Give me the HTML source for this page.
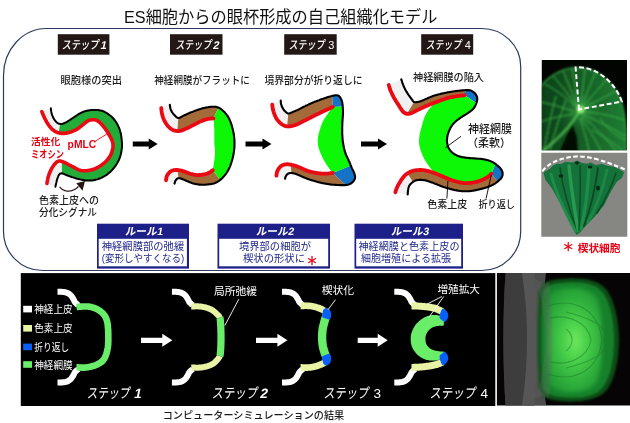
<!DOCTYPE html>
<html lang="ja">
<head>
<meta charset="utf-8">
<title>ES細胞からの眼杯形成の自己組織化モデル</title>
<style>
html,body{margin:0;padding:0;background:#fff;}
body{width:630px;height:423px;overflow:hidden;}
svg{display:block;will-change:transform;}
text{font-family:"Liberation Sans","Noto Sans CJK JP",sans-serif;}
.t{font-size:10.5px;fill:#1a1a1a;font-weight:500;}
.st{font-size:11.8px;fill:#fff;font-weight:500;}
.sb{font-size:13.8px;fill:#fff;font-weight:400;}
.n{font-weight:bold;font-style:italic;}
.r{fill:#e60012;font-weight:bold;}
.bl{fill:#23288c;font-size:10.5px;font-weight:400;}
.rh{fill:#fff;font-size:10.6px;font-weight:bold;}
.nb{font-weight:bold;font-style:normal;}
.lg{fill:#fff;font-size:10.6px;}
</style>
</head>
<body>
<svg width="630" height="423" viewBox="0 0 630 423">
<defs>
<clipPath id="cpA"><rect x="541.8" y="60" width="85.2" height="90.3"/></clipPath>
<clipPath id="cpB"><rect x="541.3" y="152.7" width="86" height="84"/></clipPath>
<clipPath id="cpC"><rect x="496.9" y="273.1" width="134" height="132.3"/></clipPath>
<filter id="b1" x="-20%" y="-20%" width="140%" height="140%"><feGaussianBlur stdDeviation="1"/></filter>
<filter id="b2" x="-20%" y="-20%" width="140%" height="140%"><feGaussianBlur stdDeviation="2.2"/></filter>
<filter id="b4" x="-30%" y="-30%" width="160%" height="160%"><feGaussianBlur stdDeviation="4"/></filter>
<filter id="b06" x="-20%" y="-20%" width="140%" height="140%"><feGaussianBlur stdDeviation="0.6"/></filter>
<linearGradient id="gA" gradientUnits="userSpaceOnUse" x1="541" y1="0" x2="627" y2="0">
<stop offset="0" stop-color="#0d3f18"/><stop offset="0.45" stop-color="#155c25"/><stop offset="1" stop-color="#1f7e32"/></linearGradient>
<radialGradient id="gA2" gradientUnits="userSpaceOnUse" cx="581" cy="110" r="20">
<stop offset="0" stop-color="#6ee060" stop-opacity="0.75"/><stop offset="0.35" stop-color="#3cb048" stop-opacity="0.35"/><stop offset="1" stop-color="#2a9a3c" stop-opacity="0"/></radialGradient>
<radialGradient id="gC" gradientUnits="userSpaceOnUse" cx="575" cy="341" r="56" gradientTransform="translate(575 341) scale(0.6 1) translate(-575 -341)">
<stop offset="0" stop-color="#6ee85e"/><stop offset="0.35" stop-color="#4ad04a"/><stop offset="0.7" stop-color="#32b43e"/><stop offset="1" stop-color="#239c34"/></radialGradient>
<linearGradient id="gB" x1="0" y1="0" x2="1" y2="0"><stop offset="0" stop-color="#1c7a3a"/><stop offset="0.5" stop-color="#2a9a4c"/><stop offset="1" stop-color="#146a30"/></linearGradient>
</defs>
<rect width="630" height="423" fill="#fff"/>

<!-- title -->
<text x="124" y="22.8" font-size="17" fill="#111" textLength="313.5" lengthAdjust="spacingAndGlyphs">ES細胞からの眼杯形成の自己組織化モデル</text>

<!-- top panel -->
<path d="M46.5,28.5 H481.7 A39,38 0 0 1 520.7,66.5 V231.5 A39,39 0 0 1 481.7,270.5 H42.5 A39,39 0 0 1 3.5,231.5 V75.5 A43,47 0 0 1 46.5,28.5 Z" fill="#fff" stroke="#2b3a5c" stroke-width="1.2"/>

<!-- step tags -->
<g id="tags">
<rect x="57.8" y="34.2" width="51.6" height="20.5" fill="#231815"/>
<rect x="170" y="34.2" width="52.5" height="20.5" fill="#231815"/>
<rect x="284.2" y="34.2" width="52.5" height="20.5" fill="#231815"/>
<rect x="421.2" y="34.2" width="52" height="20.5" fill="#231815"/>
<text class="st" transform="translate(61.8 48.7) skewX(-8)" textLength="37.0" lengthAdjust="spacingAndGlyphs">ステップ</text>
<text class="st" transform="translate(99.9 48.7) skewX(-12)" style="font-weight:bold;font-size:11.2px">1</text>
<text class="st" transform="translate(175.6 48.7) skewX(-8)" textLength="36.0" lengthAdjust="spacingAndGlyphs">ステップ</text>
<text class="st" transform="translate(212.4 48.7) skewX(-12)" style="font-weight:bold;font-size:11.2px">2</text>
<text class="st" transform="translate(288.8 48.7) skewX(-8)" textLength="35.8" lengthAdjust="spacingAndGlyphs">ステップ</text>
<text class="st" x="328.3" y="48.7" style="font-size:11px">3</text>
<text class="st" transform="translate(425.7 48.7) skewX(-8)" textLength="35.8" lengthAdjust="spacingAndGlyphs">ステップ</text>
<text class="st" x="464.8" y="48.7" style="font-size:11px">4</text>
</g>

<!-- captions -->
<g id="caps">
<text class="t" x="60.5" y="83.8" textLength="61.5" lengthAdjust="spacingAndGlyphs">眼胞様の突出</text>
<text class="t" x="154.3" y="83.8" textLength="95.5" lengthAdjust="spacingAndGlyphs">神経網膜がフラットに</text>
<text class="t" x="264.5" y="83.8" textLength="98" lengthAdjust="spacingAndGlyphs">境界部分が折り返しに</text>
<text class="t" x="413" y="81.2" textLength="71" lengthAdjust="spacingAndGlyphs">神経網膜の陥入</text>
</g>

<g id="top-shapes">
<path d="M50.8,108.3 L50.9,108.8 L50.9,109.3 L51.0,109.8 L51.1,110.3 L51.1,110.8 L51.2,111.4 L51.3,111.9 L51.4,112.4 L51.5,112.9 L51.6,113.4 L51.8,113.9 L51.9,114.4 L52.1,115.0 L52.3,115.5 L52.5,116.0 L52.7,116.5 L52.9,117.0 L53.2,117.5 L53.4,118.0 L53.7,118.5 L54.0,119.0 L54.3,119.4 L54.6,119.9 L54.9,120.4 L55.3,120.8 L55.6,121.3 L56.0,121.7 L56.4,122.1 L56.7,122.4 L57.1,122.7 L57.5,123.0 L57.8,123.2 L58.2,123.4 L58.6,123.6 L58.9,123.7 L59.3,123.8 L59.7,123.9 L60.1,124.0 L60.6,124.0 L61.0,124.0 L61.5,124.0 L61.9,123.9 L62.4,123.8 L62.9,123.6 L63.4,123.5 L63.9,123.3 L64.5,123.1 L65.0,122.8 L65.6,122.6 L66.1,122.3 L66.7,122.0 L67.2,121.7 L67.8,121.3 L68.4,120.9 L69.0,120.5 L69.7,120.1 L70.3,119.7 L70.9,119.3 L71.4,118.9 L72.0,118.5 L72.6,118.1 L73.1,117.8 L73.7,117.4 L74.2,117.0 L74.7,116.7 L75.3,116.3 L75.8,116.0 L76.2,115.7 L76.7,115.4 L77.1,115.1 L77.5,114.9 L77.8,114.7 L78.1,114.5 L78.3,114.3 L78.5,114.2 L78.8,114.0 L79.0,113.9 L79.3,113.7 L79.6,113.6 L80.0,113.4 L80.4,113.2 L80.9,113.0 L81.3,112.7 L81.8,112.5 L82.4,112.3 L82.9,112.0 L83.4,111.8 L84.0,111.6 L84.5,111.4 L85.1,111.2 L85.7,111.0 L86.2,110.9 L86.8,110.8 L87.4,110.6 L88.0,110.5 L88.7,110.4 L89.3,110.3 L89.9,110.2 L90.5,110.2 L91.1,110.1 L91.7,110.0 L92.3,110.0 L92.9,110.0 L93.5,109.9 L94.0,109.9 L94.6,109.9 L95.2,109.9 L95.8,109.9 L96.4,110.0 L97.0,110.0 L97.6,110.1 L98.2,110.1 L98.8,110.2 L99.4,110.3 L100.0,110.4 L100.6,110.5 L101.2,110.6 L101.8,110.8 L102.4,111.0 L103.0,111.2 L103.6,111.4 L104.2,111.7 L104.8,112.0 L105.4,112.3 L106.0,112.7 L106.6,113.0 L107.2,113.4 L107.8,113.8 L108.3,114.2 L108.9,114.6 L109.4,115.0 L110.0,115.4 L110.5,115.9 L111.1,116.3 L111.6,116.8 L112.1,117.3 L112.6,117.8 L113.1,118.3 L113.5,118.8 L114.0,119.3 L114.4,119.8 L114.9,120.4 L115.3,121.0 L115.7,121.6 L116.1,122.2 L116.5,122.8 L116.9,123.4 L117.2,124.0 L117.6,124.7 L117.9,125.3 L118.2,126.0 L118.5,126.6 L118.8,127.3 L119.1,128.0 L119.3,128.7 L119.6,129.4 L119.8,130.1 L120.0,130.8 L120.2,131.5 L120.4,132.1 L120.6,132.7 L120.7,133.3 L120.9,133.9 L121.0,134.5 L121.1,135.1 L121.2,135.6 L121.3,136.2 L121.3,136.8 L121.4,137.4 L121.5,138.0 L121.6,138.6 L121.7,139.3 L121.7,140.0 L121.8,140.7 L121.9,141.3 L121.9,142.0 L121.9,142.7 L122.0,143.4 L122.0,144.1 L122.0,144.8 L122.0,145.5 L122.0,146.1 L122.0,146.8 L121.9,147.5 L121.9,148.1 L121.8,148.8 L121.7,149.5 L121.6,150.2 L121.5,150.9 L121.4,151.6 L121.2,152.4 L121.1,153.1 L120.9,153.9 L120.7,154.7 L120.5,155.5 L120.2,156.4 L120.0,157.2 L119.7,158.0 L119.4,158.7 L119.1,159.5 L118.8,160.2 L118.4,160.9 L118.1,161.6 L117.7,162.3 L117.3,163.0 L116.9,163.7 L116.5,164.3 L116.0,165.0 L115.6,165.6 L115.1,166.3 L114.6,167.0 L114.1,167.6 L113.6,168.3 L113.0,168.9 L112.5,169.6 L111.9,170.2 L111.3,170.9 L110.7,171.5 L110.1,172.0 L109.5,172.6 L108.9,173.1 L108.2,173.6 L107.6,174.1 L106.9,174.6 L106.2,175.1 L105.6,175.5 L104.9,175.9 L104.2,176.3 L103.4,176.7 L102.7,177.1 L101.9,177.5 L101.2,177.8 L100.4,178.2 L99.6,178.5 L98.8,178.8 L98.0,179.1 L97.1,179.4 L96.3,179.6 L95.5,179.8 L94.7,180.0 L93.9,180.2 L93.1,180.3 L92.3,180.4 L91.5,180.4 L90.7,180.5 L89.9,180.5 L89.1,180.5 L88.3,180.5 L87.5,180.5 L86.8,180.5 L86.1,180.5 L85.4,180.4 L84.7,180.3 L84.0,180.2 L83.3,180.1 L82.7,180.0 L82.0,179.8 L81.4,179.7 L80.7,179.6 L80.0,179.4 L79.3,179.2 L78.6,179.1 L77.9,178.9 L77.1,178.7 L76.4,178.5 L75.7,178.3 L75.0,178.0 L74.3,177.8 L73.6,177.6 L72.9,177.4 L72.2,177.2 L71.6,177.0 L71.0,176.8 L70.4,176.6 L69.7,176.3 L69.1,176.1 L68.6,175.9 L68.0,175.7 L67.4,175.5 L66.9,175.3 L66.4,175.1 L65.9,174.9 L65.4,174.6 L64.9,174.4 L64.4,174.2 L64.0,173.9 L63.5,173.8 L63.1,173.6 L62.7,173.5 L62.3,173.4 L61.9,173.4 L61.6,173.3 L61.3,173.4 L60.9,173.4 L60.6,173.5 L60.4,173.6 L60.1,173.7 L59.8,173.9 L59.6,174.1 L59.3,174.4 L59.0,174.7 L58.8,175.1 L58.6,175.6 L58.3,176.0 L58.1,176.6 L57.9,177.1 L57.7,177.7 L57.5,178.3 L57.3,178.9 L57.1,179.5 L56.9,180.1 L56.7,180.8 L56.6,181.5 L56.4,182.3 L56.2,183.0 L56.1,183.8 L55.9,184.5 L55.7,185.3 L55.6,186.1 L55.4,186.8 L46.9,183.4 L47.0,182.8 L47.1,182.1 L47.2,181.5 L47.4,180.9 L47.5,180.2 L47.6,179.6 L47.7,178.9 L47.9,178.3 L48.0,177.7 L48.2,177.0 L48.4,176.3 L48.6,175.7 L48.8,175.0 L49.1,174.3 L49.3,173.6 L49.6,172.9 L49.9,172.2 L50.2,171.5 L50.5,170.8 L50.8,170.2 L51.1,169.6 L51.5,168.9 L51.9,168.2 L52.2,167.6 L52.6,167.0 L53.0,166.3 L53.4,165.8 L53.8,165.2 L54.2,164.7 L54.6,164.2 L55.0,163.8 L55.4,163.4 L55.7,163.0 L56.1,162.6 L56.5,162.3 L56.8,162.0 L57.2,161.7 L57.6,161.5 L58.0,161.3 L58.4,161.2 L58.8,161.1 L59.2,161.0 L59.6,161.0 L60.0,161.1 L60.5,161.1 L60.9,161.2 L61.3,161.3 L61.8,161.4 L62.2,161.6 L62.7,161.7 L63.2,161.9 L63.7,162.1 L64.1,162.3 L64.6,162.5 L65.2,162.8 L65.7,163.1 L66.2,163.4 L66.7,163.6 L67.3,163.9 L67.8,164.2 L68.4,164.5 L68.9,164.8 L69.5,165.1 L70.1,165.4 L70.7,165.7 L71.3,166.0 L71.9,166.3 L72.5,166.6 L73.1,166.9 L73.7,167.2 L74.3,167.5 L74.9,167.9 L75.5,168.2 L76.2,168.6 L76.8,168.9 L77.4,169.2 L78.1,169.6 L78.7,169.9 L79.3,170.1 L80.0,170.3 L80.7,170.5 L81.3,170.6 L82.0,170.7 L82.7,170.7 L83.4,170.8 L84.1,170.8 L84.7,170.8 L85.4,170.8 L86.1,170.7 L86.8,170.7 L87.5,170.6 L88.2,170.6 L88.8,170.4 L89.5,170.3 L90.2,170.2 L90.9,170.0 L91.6,169.8 L92.2,169.7 L92.9,169.4 L93.6,169.2 L94.3,168.9 L95.0,168.7 L95.7,168.4 L96.4,168.0 L97.1,167.7 L97.8,167.3 L98.4,167.0 L99.1,166.6 L99.8,166.2 L100.4,165.8 L101.0,165.4 L101.6,165.0 L102.2,164.5 L102.8,164.1 L103.4,163.6 L104.0,163.1 L104.6,162.7 L105.1,162.2 L105.6,161.7 L106.1,161.2 L106.6,160.7 L107.0,160.2 L107.5,159.7 L107.9,159.2 L108.3,158.7 L108.6,158.2 L109.0,157.7 L109.4,157.2 L109.7,156.6 L110.0,156.1 L110.3,155.6 L110.6,155.0 L110.9,154.5 L111.1,153.9 L111.3,153.4 L111.6,152.8 L111.8,152.2 L112.0,151.7 L112.1,151.1 L112.3,150.5 L112.4,149.9 L112.6,149.3 L112.7,148.7 L112.8,148.1 L112.9,147.4 L112.9,146.8 L113.0,146.2 L113.0,145.6 L113.0,145.0 L113.0,144.5 L113.0,144.0 L112.9,143.5 L112.8,143.0 L112.7,142.6 L112.6,142.2 L112.5,141.7 L112.3,141.3 L112.1,140.9 L112.0,140.4 L111.8,140.0 L111.6,139.6 L111.4,139.1 L111.2,138.7 L111.0,138.2 L110.8,137.8 L110.5,137.3 L110.3,136.9 L110.0,136.4 L109.8,136.0 L109.5,135.5 L109.2,135.0 L109.0,134.5 L108.7,134.0 L108.4,133.5 L108.1,133.0 L107.8,132.5 L107.4,132.0 L107.1,131.5 L106.8,130.9 L106.4,130.4 L106.0,129.9 L105.6,129.3 L105.2,128.7 L104.8,128.2 L104.3,127.6 L103.9,127.0 L103.4,126.4 L103.0,125.9 L102.5,125.4 L102.1,124.9 L101.7,124.4 L101.3,124.0 L100.8,123.5 L100.4,123.1 L100.0,122.7 L99.6,122.3 L99.2,121.9 L98.7,121.6 L98.3,121.3 L97.9,121.0 L97.5,120.8 L97.1,120.5 L96.6,120.3 L96.2,120.2 L95.8,120.1 L95.4,119.9 L95.0,119.8 L94.5,119.8 L94.1,119.7 L93.6,119.7 L93.1,119.7 L92.6,119.7 L92.1,119.7 L91.6,119.8 L91.0,119.9 L90.5,120.0 L90.0,120.1 L89.5,120.3 L89.0,120.4 L88.5,120.6 L88.0,120.8 L87.6,121.1 L87.2,121.3 L86.8,121.6 L86.3,121.9 L85.9,122.3 L85.5,122.6 L85.1,122.9 L84.7,123.3 L84.3,123.6 L83.9,123.9 L83.4,124.3 L83.0,124.6 L82.6,125.0 L82.1,125.3 L81.7,125.7 L81.2,126.0 L80.8,126.4 L80.4,126.7 L80.0,127.0 L79.6,127.3 L79.3,127.6 L78.9,127.8 L78.6,128.1 L78.3,128.3 L77.9,128.5 L77.6,128.8 L77.2,129.0 L76.8,129.3 L76.3,129.5 L75.8,129.8 L75.3,130.0 L74.7,130.3 L74.1,130.6 L73.5,130.9 L72.9,131.1 L72.2,131.4 L71.6,131.7 L70.9,131.9 L70.3,132.1 L69.6,132.3 L69.0,132.5 L68.3,132.7 L67.6,132.8 L66.9,133.0 L66.2,133.1 L65.5,133.2 L64.8,133.3 L64.1,133.4 L63.5,133.4 L62.9,133.4 L62.2,133.4 L61.6,133.4 L61.0,133.3 L60.4,133.2 L59.9,133.1 L59.3,133.0 L58.7,132.8 L58.2,132.7 L57.6,132.5 L57.1,132.3 L56.5,132.1 L56.0,131.8 L55.5,131.6 L55.0,131.3 L54.4,131.0 L53.9,130.6 L53.5,130.3 L53.0,129.9 L52.5,129.5 L52.0,129.1 L51.6,128.6 L51.1,128.2 L50.7,127.7 L50.3,127.2 L49.8,126.7 L49.4,126.1 L49.0,125.6 L48.6,125.0 L48.2,124.4 L47.8,123.8 L47.4,123.1 L47.0,122.5 L46.6,121.8 L46.2,121.0 L45.8,120.3 L45.4,119.6 L45.1,118.9 L44.7,118.3 L44.4,117.6 L44.1,117.0 L43.8,116.4 L43.5,115.8 L43.3,115.2 L43.0,114.6 L42.8,114.0 L42.5,113.4 L42.3,112.9 L42.1,112.3 L41.8,111.7Z" fill="#f0f0f0"/>
<path d="M60.1,124.0 L60.6,124.0 L61.0,124.0 L61.5,124.0 L61.9,123.9 L62.4,123.8 L62.9,123.6 L63.4,123.5 L63.9,123.3 L64.5,123.1 L65.0,122.8 L65.6,122.6 L66.1,122.3 L66.7,122.0 L67.2,121.7 L67.8,121.3 L68.4,120.9 L69.0,120.5 L69.7,120.1 L70.3,119.7 L70.9,119.3 L71.4,118.9 L72.0,118.5 L72.6,118.1 L73.1,117.8 L73.7,117.4 L74.2,117.0 L74.7,116.7 L75.3,116.3 L75.8,116.0 L76.2,115.7 L76.7,115.4 L77.1,115.1 L77.5,114.9 L77.8,114.7 L78.1,114.5 L78.3,114.3 L78.5,114.2 L78.8,114.0 L79.0,113.9 L79.3,113.7 L79.6,113.6 L80.0,113.4 L80.4,113.2 L80.9,113.0 L81.3,112.7 L81.8,112.5 L82.4,112.3 L82.9,112.0 L83.4,111.8 L84.0,111.6 L84.5,111.4 L85.1,111.2 L85.7,111.0 L86.2,110.9 L86.8,110.8 L87.4,110.6 L88.0,110.5 L88.7,110.4 L89.3,110.3 L89.9,110.2 L90.5,110.2 L91.1,110.1 L91.7,110.0 L92.3,110.0 L92.9,110.0 L93.5,109.9 L94.0,109.9 L94.6,109.9 L95.2,109.9 L95.8,109.9 L96.4,110.0 L97.0,110.0 L97.6,110.1 L98.2,110.1 L98.8,110.2 L99.4,110.3 L100.0,110.4 L100.6,110.5 L101.2,110.6 L101.8,110.8 L102.4,111.0 L103.0,111.2 L103.6,111.4 L104.2,111.7 L104.8,112.0 L105.4,112.3 L106.0,112.7 L106.6,113.0 L107.2,113.4 L107.8,113.8 L108.3,114.2 L108.9,114.6 L109.4,115.0 L110.0,115.4 L110.5,115.9 L111.1,116.3 L111.6,116.8 L112.1,117.3 L112.6,117.8 L113.1,118.3 L113.5,118.8 L114.0,119.3 L114.4,119.8 L114.9,120.4 L115.3,121.0 L115.7,121.6 L116.1,122.2 L116.5,122.8 L116.9,123.4 L117.2,124.0 L117.6,124.7 L117.9,125.3 L118.2,126.0 L118.5,126.6 L118.8,127.3 L119.1,128.0 L119.3,128.7 L119.6,129.4 L119.8,130.1 L120.0,130.8 L120.2,131.5 L120.4,132.1 L120.6,132.7 L120.7,133.3 L120.9,133.9 L121.0,134.5 L121.1,135.1 L121.2,135.6 L121.3,136.2 L121.3,136.8 L121.4,137.4 L121.5,138.0 L121.6,138.6 L121.7,139.3 L121.7,140.0 L121.8,140.7 L121.9,141.3 L121.9,142.0 L121.9,142.7 L122.0,143.4 L122.0,144.1 L122.0,144.8 L122.0,145.5 L122.0,146.1 L122.0,146.8 L121.9,147.5 L121.9,148.1 L121.8,148.8 L121.7,149.5 L121.6,150.2 L121.5,150.9 L121.4,151.6 L121.2,152.4 L121.1,153.1 L120.9,153.9 L120.7,154.7 L120.5,155.5 L120.2,156.4 L120.0,157.2 L119.7,158.0 L119.4,158.7 L119.1,159.5 L118.8,160.2 L118.4,160.9 L118.1,161.6 L117.7,162.3 L117.3,163.0 L116.9,163.7 L116.5,164.3 L116.0,165.0 L115.6,165.6 L115.1,166.3 L114.6,167.0 L114.1,167.6 L113.6,168.3 L113.0,168.9 L112.5,169.6 L111.9,170.2 L111.3,170.9 L110.7,171.5 L110.1,172.0 L109.5,172.6 L108.9,173.1 L108.2,173.6 L107.6,174.1 L106.9,174.6 L106.2,175.1 L105.6,175.5 L104.9,175.9 L104.2,176.3 L103.4,176.7 L102.7,177.1 L101.9,177.5 L101.2,177.8 L100.4,178.2 L99.6,178.5 L98.8,178.8 L98.0,179.1 L97.1,179.4 L96.3,179.6 L95.5,179.8 L94.7,180.0 L93.9,180.2 L93.1,180.3 L92.3,180.4 L91.5,180.4 L90.7,180.5 L89.9,180.5 L89.1,180.5 L88.3,180.5 L87.5,180.5 L86.8,180.5 L86.1,180.5 L85.4,180.4 L84.7,180.3 L84.0,180.2 L83.3,180.1 L82.7,180.0 L82.0,179.8 L81.4,179.7 L80.7,179.6 L80.0,179.4 L79.3,179.2 L78.6,179.1 L77.9,178.9 L77.1,178.7 L76.4,178.5 L75.7,178.3 L75.0,178.0 L74.3,177.8 L73.6,177.6 L72.9,177.4 L72.2,177.2 L71.6,177.0 L71.0,176.8 L70.4,176.6 L69.7,176.3 L69.1,176.1 L68.6,175.9 L68.0,175.7 L67.4,175.5 L66.9,175.3 L66.4,175.1 L65.9,174.9 L65.4,174.6 L64.9,174.4 L64.4,174.2 L64.0,173.9 L63.5,173.8 L63.1,173.6 L62.7,173.5 L62.3,173.4 L61.9,173.4 L61.8,161.4 L62.2,161.6 L62.7,161.7 L63.2,161.9 L63.7,162.1 L64.1,162.3 L64.6,162.5 L65.2,162.8 L65.7,163.1 L66.2,163.4 L66.7,163.6 L67.3,163.9 L67.8,164.2 L68.4,164.5 L68.9,164.8 L69.5,165.1 L70.1,165.4 L70.7,165.7 L71.3,166.0 L71.9,166.3 L72.5,166.6 L73.1,166.9 L73.7,167.2 L74.3,167.5 L74.9,167.9 L75.5,168.2 L76.2,168.6 L76.8,168.9 L77.4,169.2 L78.1,169.6 L78.7,169.9 L79.3,170.1 L80.0,170.3 L80.7,170.5 L81.3,170.6 L82.0,170.7 L82.7,170.7 L83.4,170.8 L84.1,170.8 L84.7,170.8 L85.4,170.8 L86.1,170.7 L86.8,170.7 L87.5,170.6 L88.2,170.6 L88.8,170.4 L89.5,170.3 L90.2,170.2 L90.9,170.0 L91.6,169.8 L92.2,169.7 L92.9,169.4 L93.6,169.2 L94.3,168.9 L95.0,168.7 L95.7,168.4 L96.4,168.0 L97.1,167.7 L97.8,167.3 L98.4,167.0 L99.1,166.6 L99.8,166.2 L100.4,165.8 L101.0,165.4 L101.6,165.0 L102.2,164.5 L102.8,164.1 L103.4,163.6 L104.0,163.1 L104.6,162.7 L105.1,162.2 L105.6,161.7 L106.1,161.2 L106.6,160.7 L107.0,160.2 L107.5,159.7 L107.9,159.2 L108.3,158.7 L108.6,158.2 L109.0,157.7 L109.4,157.2 L109.7,156.6 L110.0,156.1 L110.3,155.6 L110.6,155.0 L110.9,154.5 L111.1,153.9 L111.3,153.4 L111.6,152.8 L111.8,152.2 L112.0,151.7 L112.1,151.1 L112.3,150.5 L112.4,149.9 L112.6,149.3 L112.7,148.7 L112.8,148.1 L112.9,147.4 L112.9,146.8 L113.0,146.2 L113.0,145.6 L113.0,145.0 L113.0,144.5 L113.0,144.0 L112.9,143.5 L112.8,143.0 L112.7,142.6 L112.6,142.2 L112.5,141.7 L112.3,141.3 L112.1,140.9 L112.0,140.4 L111.8,140.0 L111.6,139.6 L111.4,139.1 L111.2,138.7 L111.0,138.2 L110.8,137.8 L110.5,137.3 L110.3,136.9 L110.0,136.4 L109.8,136.0 L109.5,135.5 L109.2,135.0 L109.0,134.5 L108.7,134.0 L108.4,133.5 L108.1,133.0 L107.8,132.5 L107.4,132.0 L107.1,131.5 L106.8,130.9 L106.4,130.4 L106.0,129.9 L105.6,129.3 L105.2,128.7 L104.8,128.2 L104.3,127.6 L103.9,127.0 L103.4,126.4 L103.0,125.9 L102.5,125.4 L102.1,124.9 L101.7,124.4 L101.3,124.0 L100.8,123.5 L100.4,123.1 L100.0,122.7 L99.6,122.3 L99.2,121.9 L98.7,121.6 L98.3,121.3 L97.9,121.0 L97.5,120.8 L97.1,120.5 L96.6,120.3 L96.2,120.2 L95.8,120.1 L95.4,119.9 L95.0,119.8 L94.5,119.8 L94.1,119.7 L93.6,119.7 L93.1,119.7 L92.6,119.7 L92.1,119.7 L91.6,119.8 L91.0,119.9 L90.5,120.0 L90.0,120.1 L89.5,120.3 L89.0,120.4 L88.5,120.6 L88.0,120.8 L87.6,121.1 L87.2,121.3 L86.8,121.6 L86.3,121.9 L85.9,122.3 L85.5,122.6 L85.1,122.9 L84.7,123.3 L84.3,123.6 L83.9,123.9 L83.4,124.3 L83.0,124.6 L82.6,125.0 L82.1,125.3 L81.7,125.7 L81.2,126.0 L80.8,126.4 L80.4,126.7 L80.0,127.0 L79.6,127.3 L79.3,127.6 L78.9,127.8 L78.6,128.1 L78.3,128.3 L77.9,128.5 L77.6,128.8 L77.2,129.0 L76.8,129.3 L76.3,129.5 L75.8,129.8 L75.3,130.0 L74.7,130.3 L74.1,130.6 L73.5,130.9 L72.9,131.1 L72.2,131.4 L71.6,131.7 L70.9,131.9 L70.3,132.1 L69.6,132.3 L69.0,132.5 L68.3,132.7 L67.6,132.8 L66.9,133.0 L66.2,133.1 L65.5,133.2 L64.8,133.3 L64.1,133.4 L63.5,133.4 L62.9,133.4 L62.2,133.4 L61.6,133.4 L61.0,133.3 L60.4,133.2 L59.9,133.1 L59.3,133.0 L58.7,132.8Z" fill="#22ac38"/>
<path d="M50.8,108.3 L50.9,108.8 L50.9,109.3 L51.0,109.8 L51.1,110.3 L51.1,110.8 L51.2,111.4 L51.3,111.9 L51.4,112.4 L51.5,112.9 L51.6,113.4 L51.8,113.9 L51.9,114.4 L52.1,115.0 L52.3,115.5 L52.5,116.0 L52.7,116.5 L52.9,117.0 L53.2,117.5 L53.4,118.0 L53.7,118.5 L54.0,119.0 L54.3,119.4 L54.6,119.9 L54.9,120.4 L55.3,120.8 L55.6,121.3 L56.0,121.7 L56.4,122.1 L56.7,122.4 L57.1,122.7 L57.5,123.0 L57.8,123.2 L58.2,123.4 L58.6,123.6 L58.9,123.7 L59.3,123.8 L59.7,123.9 L60.1,124.0 L60.6,124.0 L61.0,124.0 L61.5,124.0 L61.9,123.9 L62.4,123.8 L62.9,123.6 L63.4,123.5 L63.9,123.3 L64.5,123.1 L65.0,122.8 L65.6,122.6 L66.1,122.3 L66.7,122.0 L67.2,121.7 L67.8,121.3 L68.4,120.9 L69.0,120.5 L69.7,120.1 L70.3,119.7 L70.9,119.3 L71.4,118.9 L72.0,118.5 L72.6,118.1 L73.1,117.8 L73.7,117.4 L74.2,117.0 L74.7,116.7 L75.3,116.3 L75.8,116.0 L76.2,115.7 L76.7,115.4 L77.1,115.1 L77.5,114.9 L77.8,114.7 L78.1,114.5 L78.3,114.3 L78.5,114.2 L78.8,114.0 L79.0,113.9 L79.3,113.7 L79.6,113.6 L80.0,113.4 L80.4,113.2 L80.9,113.0 L81.3,112.7 L81.8,112.5 L82.4,112.3 L82.9,112.0 L83.4,111.8 L84.0,111.6 L84.5,111.4 L85.1,111.2 L85.7,111.0 L86.2,110.9 L86.8,110.8 L87.4,110.6 L88.0,110.5 L88.7,110.4 L89.3,110.3 L89.9,110.2 L90.5,110.2 L91.1,110.1 L91.7,110.0 L92.3,110.0 L92.9,110.0 L93.5,109.9 L94.0,109.9 L94.6,109.9 L95.2,109.9 L95.8,109.9 L96.4,110.0 L97.0,110.0 L97.6,110.1 L98.2,110.1 L98.8,110.2 L99.4,110.3 L100.0,110.4 L100.6,110.5 L101.2,110.6 L101.8,110.8 L102.4,111.0 L103.0,111.2 L103.6,111.4 L104.2,111.7 L104.8,112.0 L105.4,112.3 L106.0,112.7 L106.6,113.0 L107.2,113.4 L107.8,113.8 L108.3,114.2 L108.9,114.6 L109.4,115.0 L110.0,115.4 L110.5,115.9 L111.1,116.3 L111.6,116.8 L112.1,117.3 L112.6,117.8 L113.1,118.3 L113.5,118.8 L114.0,119.3 L114.4,119.8 L114.9,120.4 L115.3,121.0 L115.7,121.6 L116.1,122.2 L116.5,122.8 L116.9,123.4 L117.2,124.0 L117.6,124.7 L117.9,125.3 L118.2,126.0 L118.5,126.6 L118.8,127.3 L119.1,128.0 L119.3,128.7 L119.6,129.4 L119.8,130.1 L120.0,130.8 L120.2,131.5 L120.4,132.1 L120.6,132.7 L120.7,133.3 L120.9,133.9 L121.0,134.5 L121.1,135.1 L121.2,135.6 L121.3,136.2 L121.3,136.8 L121.4,137.4 L121.5,138.0 L121.6,138.6 L121.7,139.3 L121.7,140.0 L121.8,140.7 L121.9,141.3 L121.9,142.0 L121.9,142.7 L122.0,143.4 L122.0,144.1 L122.0,144.8 L122.0,145.5 L122.0,146.1 L122.0,146.8 L121.9,147.5 L121.9,148.1 L121.8,148.8 L121.7,149.5 L121.6,150.2 L121.5,150.9 L121.4,151.6 L121.2,152.4 L121.1,153.1 L120.9,153.9 L120.7,154.7 L120.5,155.5 L120.2,156.4 L120.0,157.2 L119.7,158.0 L119.4,158.7 L119.1,159.5 L118.8,160.2 L118.4,160.9 L118.1,161.6 L117.7,162.3 L117.3,163.0 L116.9,163.7 L116.5,164.3 L116.0,165.0 L115.6,165.6 L115.1,166.3 L114.6,167.0 L114.1,167.6 L113.6,168.3 L113.0,168.9 L112.5,169.6 L111.9,170.2 L111.3,170.9 L110.7,171.5 L110.1,172.0 L109.5,172.6 L108.9,173.1 L108.2,173.6 L107.6,174.1 L106.9,174.6 L106.2,175.1 L105.6,175.5 L104.9,175.9 L104.2,176.3 L103.4,176.7 L102.7,177.1 L101.9,177.5 L101.2,177.8 L100.4,178.2 L99.6,178.5 L98.8,178.8 L98.0,179.1 L97.1,179.4 L96.3,179.6 L95.5,179.8 L94.7,180.0 L93.9,180.2 L93.1,180.3 L92.3,180.4 L91.5,180.4 L90.7,180.5 L89.9,180.5 L89.1,180.5 L88.3,180.5 L87.5,180.5 L86.8,180.5 L86.1,180.5 L85.4,180.4 L84.7,180.3 L84.0,180.2 L83.3,180.1 L82.7,180.0 L82.0,179.8 L81.4,179.7 L80.7,179.6 L80.0,179.4 L79.3,179.2 L78.6,179.1 L77.9,178.9 L77.1,178.7 L76.4,178.5 L75.7,178.3 L75.0,178.0 L74.3,177.8 L73.6,177.6 L72.9,177.4 L72.2,177.2 L71.6,177.0 L71.0,176.8 L70.4,176.6 L69.7,176.3 L69.1,176.1 L68.6,175.9 L68.0,175.7 L67.4,175.5 L66.9,175.3 L66.4,175.1 L65.9,174.9 L65.4,174.6 L64.9,174.4 L64.4,174.2 L64.0,173.9 L63.5,173.8 L63.1,173.6 L62.7,173.5 L62.3,173.4 L61.9,173.4 L61.6,173.3 L61.3,173.4 L60.9,173.4 L60.6,173.5 L60.4,173.6 L60.1,173.7 L59.8,173.9 L59.6,174.1 L59.3,174.4 L59.0,174.7 L58.8,175.1 L58.6,175.6 L58.3,176.0 L58.1,176.6 L57.9,177.1 L57.7,177.7 L57.5,178.3 L57.3,178.9 L57.1,179.5 L56.9,180.1 L56.7,180.8 L56.6,181.5 L56.4,182.3 L56.2,183.0 L56.1,183.8 L55.9,184.5 L55.7,185.3 L55.6,186.1 L55.4,186.8" fill="none" stroke="#000" stroke-width="2.0" stroke-linecap="round" stroke-linejoin="round"/>
<path d="M41.8,111.7 L42.1,112.3 L42.3,112.9 L42.5,113.4 L42.8,114.0 L43.0,114.6 L43.3,115.2 L43.5,115.8 L43.8,116.4 L44.1,117.0 L44.4,117.6 L44.7,118.3 L45.1,118.9 L45.4,119.6 L45.8,120.3 L46.2,121.0 L46.6,121.8 L47.0,122.5 L47.4,123.1 L47.8,123.8 L48.2,124.4 L48.6,125.0 L49.0,125.6 L49.4,126.1 L49.8,126.7 L50.3,127.2 L50.7,127.7 L51.1,128.2 L51.6,128.6 L52.0,129.1 L52.5,129.5 L53.0,129.9 L53.5,130.3 L53.9,130.6 L54.4,131.0 L55.0,131.3 L55.5,131.6 L56.0,131.8 L56.5,132.1 L57.1,132.3 L57.6,132.5 L58.2,132.7 L58.7,132.8 L59.3,133.0 L59.9,133.1 L60.4,133.2 L61.0,133.3 L61.6,133.4 L62.2,133.4 L62.9,133.4 L63.5,133.4 L64.1,133.4 L64.8,133.3 L65.5,133.2 L66.2,133.1 L66.9,133.0 L67.6,132.8 L68.3,132.7 L69.0,132.5 L69.6,132.3 L70.3,132.1 L70.9,131.9 L71.6,131.7 L72.2,131.4 L72.9,131.1 L73.5,130.9 L74.1,130.6 L74.7,130.3 L75.3,130.0 L75.8,129.8 L76.3,129.5 L76.8,129.3 L77.2,129.0 L77.6,128.8 L77.9,128.5 L78.3,128.3 L78.6,128.1 L78.9,127.8 L79.3,127.6 L79.6,127.3 L80.0,127.0 L80.4,126.7 L80.8,126.4 L81.2,126.0 L81.7,125.7 L82.1,125.3 L82.6,125.0 L83.0,124.6 L83.4,124.3 L83.9,123.9 L84.3,123.6 L84.7,123.3 L85.1,122.9 L85.5,122.6 L85.9,122.3 L86.3,121.9 L86.8,121.6 L87.2,121.3 L87.6,121.1 L88.0,120.8 L88.5,120.6 L89.0,120.4 L89.5,120.3 L90.0,120.1 L90.5,120.0 L91.0,119.9 L91.6,119.8 L92.1,119.7 L92.6,119.7 L93.1,119.7 L93.6,119.7 L94.1,119.7 L94.5,119.8 L95.0,119.8 L95.4,119.9 L95.8,120.1 L96.2,120.2 L96.6,120.3 L97.1,120.5 L97.5,120.8 L97.9,121.0 L98.3,121.3 L98.7,121.6 L99.2,121.9 L99.6,122.3 L100.0,122.7 L100.4,123.1 L100.8,123.5 L101.3,124.0 L101.7,124.4 L102.1,124.9 L102.5,125.4 L103.0,125.9 L103.4,126.4 L103.9,127.0 L104.3,127.6 L104.8,128.2 L105.2,128.7 L105.6,129.3 L106.0,129.9 L106.4,130.4 L106.8,130.9 L107.1,131.5 L107.4,132.0 L107.8,132.5 L108.1,133.0 L108.4,133.5 L108.7,134.0 L109.0,134.5 L109.2,135.0 L109.5,135.5 L109.8,136.0 L110.0,136.4 L110.3,136.9 L110.5,137.3 L110.8,137.8 L111.0,138.2 L111.2,138.7 L111.4,139.1 L111.6,139.6 L111.8,140.0 L112.0,140.4 L112.1,140.9 L112.3,141.3 L112.5,141.7 L112.6,142.2 L112.7,142.6 L112.8,143.0 L112.9,143.5 L113.0,144.0 L113.0,144.5 L113.0,145.0 L113.0,145.6 L113.0,146.2 L112.9,146.8 L112.9,147.4 L112.8,148.1 L112.7,148.7 L112.6,149.3 L112.4,149.9 L112.3,150.5 L112.1,151.1 L112.0,151.7 L111.8,152.2 L111.6,152.8 L111.3,153.4 L111.1,153.9 L110.9,154.5 L110.6,155.0 L110.3,155.6 L110.0,156.1 L109.7,156.6 L109.4,157.2 L109.0,157.7 L108.6,158.2 L108.3,158.7 L107.9,159.2 L107.5,159.7 L107.0,160.2 L106.6,160.7 L106.1,161.2 L105.6,161.7 L105.1,162.2 L104.6,162.7 L104.0,163.1 L103.4,163.6 L102.8,164.1 L102.2,164.5 L101.6,165.0 L101.0,165.4 L100.4,165.8 L99.8,166.2 L99.1,166.6 L98.4,167.0 L97.8,167.3 L97.1,167.7 L96.4,168.0 L95.7,168.4 L95.0,168.7 L94.3,168.9 L93.6,169.2 L92.9,169.4 L92.2,169.7 L91.6,169.8 L90.9,170.0 L90.2,170.2 L89.5,170.3 L88.8,170.4 L88.2,170.6 L87.5,170.6 L86.8,170.7 L86.1,170.7 L85.4,170.8 L84.7,170.8 L84.1,170.8 L83.4,170.8 L82.7,170.7 L82.0,170.7 L81.3,170.6 L80.7,170.5 L80.0,170.3 L79.3,170.1 L78.7,169.9 L78.1,169.6 L77.4,169.2 L76.8,168.9 L76.2,168.6 L75.5,168.2 L74.9,167.9 L74.3,167.5 L73.7,167.2 L73.1,166.9 L72.5,166.6 L71.9,166.3 L71.3,166.0 L70.7,165.7 L70.1,165.4 L69.5,165.1 L68.9,164.8 L68.4,164.5 L67.8,164.2 L67.3,163.9 L66.7,163.6 L66.2,163.4 L65.7,163.1 L65.2,162.8 L64.6,162.5 L64.1,162.3 L63.7,162.1 L63.2,161.9 L62.7,161.7 L62.2,161.6 L61.8,161.4 L61.3,161.3 L60.9,161.2 L60.5,161.1 L60.0,161.1 L59.6,161.0 L59.2,161.0 L58.8,161.1 L58.4,161.2 L58.0,161.3 L57.6,161.5 L57.2,161.7 L56.8,162.0 L56.5,162.3 L56.1,162.6 L55.7,163.0 L55.4,163.4 L55.0,163.8 L54.6,164.2 L54.2,164.7 L53.8,165.2 L53.4,165.8 L53.0,166.3 L52.6,167.0 L52.2,167.6 L51.9,168.2 L51.5,168.9 L51.1,169.6 L50.8,170.2 L50.5,170.8 L50.2,171.5 L49.9,172.2 L49.6,172.9 L49.3,173.6 L49.1,174.3 L48.8,175.0 L48.6,175.7 L48.4,176.3 L48.2,177.0 L48.0,177.7 L47.9,178.3 L47.7,178.9 L47.6,179.6 L47.5,180.2 L47.4,180.9 L47.2,181.5 L47.1,182.1 L47.0,182.8 L46.9,183.4" fill="none" stroke="#ea0a14" stroke-width="3.6" stroke-linecap="round" stroke-linejoin="round"/>
<path d="M169.8,104.7 L169.9,105.2 L169.9,105.6 L170.0,106.1 L170.1,106.6 L170.1,107.0 L170.2,107.5 L170.3,108.0 L170.4,108.5 L170.5,108.9 L170.7,109.4 L170.9,109.9 L171.1,110.4 L171.4,110.9 L171.6,111.4 L171.9,111.9 L172.2,112.3 L172.5,112.8 L172.9,113.3 L173.2,113.8 L173.6,114.2 L174.0,114.6 L174.4,115.1 L174.9,115.6 L175.3,116.1 L175.8,116.5 L176.3,117.0 L176.8,117.3 L177.3,117.7 L177.8,117.9 L178.3,118.0 L177.4,131.0 L176.8,131.0 L176.2,130.9 L175.7,130.9 L175.1,130.7 L174.6,130.6 L174.0,130.4 L173.5,130.2 L172.9,129.9 L172.4,129.7 L171.8,129.4 L171.3,129.1 L170.8,128.7 L170.3,128.3 L169.8,127.9 L169.3,127.5 L168.8,127.0 L168.3,126.5 L167.9,126.0 L167.4,125.4 L166.9,124.8 L166.5,124.2 L166.0,123.5 L165.6,122.9 L165.2,122.2 L164.8,121.5 L164.5,120.9 L164.2,120.3 L163.9,119.6 L163.6,118.9 L163.3,118.2 L163.1,117.6 L162.9,116.9 L162.6,116.2 L162.5,115.5 L162.3,114.9 L162.1,114.2 L161.9,113.6 L161.8,112.9 L161.7,112.3 L161.6,111.7 L161.6,111.1 L161.5,110.5 L161.4,109.8 L161.4,109.2 L161.3,108.6 L161.2,108.0Z" fill="#f0f0f0"/>
<path d="M174.5,183.6 L174.6,183.3 L174.7,183.0 L174.8,182.7 L174.8,182.4 L174.9,182.1 L175.0,181.8 L175.1,181.5 L175.2,181.2 L175.3,181.0 L175.5,180.7 L175.7,180.4 L175.9,180.1 L176.1,179.9 L176.3,179.6 L176.5,179.3 L176.8,179.0 L177.0,178.8 L177.3,178.6 L177.6,178.4 L177.9,178.3 L178.2,178.2 L178.5,178.2 L177.5,170.0 L176.9,170.0 L176.2,170.0 L175.6,170.0 L175.0,170.0 L174.4,170.1 L173.9,170.1 L173.4,170.3 L172.9,170.4 L172.4,170.5 L171.9,170.7 L171.5,170.9 L171.0,171.2 L170.6,171.4 L170.2,171.7 L169.8,172.0 L169.4,172.4 L169.0,172.8 L168.7,173.2 L168.3,173.7 L168.0,174.2 L167.7,174.6 L167.4,175.1 L167.1,175.6 L166.9,176.0 L166.7,176.4 L166.6,176.8 L166.5,177.3 L166.4,177.7 L166.3,178.1 L166.2,178.5 L166.2,178.9 L166.1,179.4 L166.1,179.8 L166.0,180.2Z" fill="#f0f0f0"/>
<path d="M178.3,118.0 L178.8,118.0 L179.3,117.9 L179.8,117.8 L180.3,117.5 L180.8,117.2 L181.3,116.9 L181.8,116.6 L182.4,116.2 L183.0,115.9 L183.6,115.6 L184.3,115.3 L185.0,115.0 L185.7,114.7 L186.5,114.3 L187.3,114.0 L188.0,113.6 L188.8,113.3 L189.6,112.9 L190.4,112.6 L191.2,112.3 L192.0,112.0 L192.7,111.7 L193.5,111.4 L194.2,111.1 L195.0,110.8 L195.8,110.5 L196.5,110.2 L197.3,109.9 L198.0,109.6 L198.8,109.4 L199.6,109.2 L200.3,108.9 L201.1,108.7 L201.8,108.5 L202.6,108.3 L203.4,108.1 L204.1,108.0 L204.9,107.8 L205.6,107.6 L206.4,107.5 L207.2,107.4 L208.0,107.2 L208.8,107.1 L209.6,107.0 L210.3,106.9 L211.1,106.9 L211.9,106.8 L212.6,106.8 L213.2,106.7 L213.8,106.7 L214.3,106.7 L214.8,106.7 L215.2,106.7 L215.6,106.8 L215.9,106.8 L216.2,106.9 L216.5,107.0 L216.8,107.1 L217.2,107.2 L217.5,107.3 L217.8,107.4 L218.2,107.5 L218.5,107.6 L213.5,118.4 L213.0,118.4 L212.5,118.5 L212.0,118.5 L211.5,118.5 L211.0,118.6 L210.5,118.6 L210.0,118.6 L209.4,118.7 L208.9,118.8 L208.3,118.9 L207.7,119.0 L207.1,119.2 L206.5,119.3 L205.8,119.5 L205.2,119.7 L204.5,119.9 L203.8,120.1 L203.1,120.4 L202.4,120.6 L201.7,120.9 L201.0,121.2 L200.2,121.5 L199.5,121.9 L198.7,122.3 L197.9,122.7 L197.1,123.1 L196.3,123.5 L195.6,123.9 L194.8,124.3 L194.0,124.7 L193.2,125.1 L192.5,125.5 L191.7,125.9 L190.9,126.3 L190.1,126.7 L189.4,127.1 L188.6,127.5 L187.9,127.8 L187.1,128.2 L186.4,128.5 L185.7,128.8 L185.0,129.1 L184.3,129.4 L183.6,129.7 L183.0,130.0 L182.3,130.2 L181.7,130.4 L181.1,130.6 L180.4,130.8 L179.8,130.9 L179.2,131.0 L178.6,131.0 L178.0,131.1 L177.4,131.0Z" fill="#a26b39"/>
<path d="M178.5,178.2 L178.9,178.2 L179.2,178.2 L179.6,178.3 L180.0,178.3 L180.4,178.4 L180.8,178.5 L181.2,178.7 L181.7,178.8 L182.2,179.0 L182.7,179.2 L183.3,179.4 L183.8,179.6 L184.4,179.9 L185.0,180.2 L185.6,180.4 L186.2,180.7 L186.8,181.0 L187.4,181.2 L188.0,181.4 L188.5,181.7 L189.1,181.9 L189.6,182.1 L190.1,182.4 L190.7,182.6 L191.3,182.8 L191.8,183.0 L192.5,183.2 L193.1,183.4 L193.8,183.6 L194.5,183.7 L195.2,183.9 L196.0,184.1 L196.8,184.2 L197.6,184.3 L198.4,184.5 L199.1,184.6 L199.9,184.6 L200.7,184.7 L201.5,184.7 L202.2,184.8 L203.0,184.8 L203.8,184.7 L204.6,184.7 L205.4,184.7 L206.1,184.6 L206.9,184.5 L207.6,184.5 L208.3,184.4 L209.0,184.3 L209.6,184.2 L210.3,184.2 L210.9,184.1 L211.6,184.0 L212.2,183.8 L212.8,183.7 L213.3,183.6 L213.9,183.4 L214.5,183.2 L215.1,183.0 L215.6,182.8 L216.1,182.5 L216.6,182.3 L217.2,182.0 L217.7,181.7 L218.2,181.4 L218.7,181.1 L219.2,180.7 L219.7,180.3 L220.2,179.9 L212.8,170.2 L212.5,170.4 L212.1,170.7 L211.8,170.9 L211.5,171.2 L211.2,171.4 L210.9,171.7 L210.5,171.9 L210.1,172.2 L209.7,172.4 L209.3,172.6 L208.8,172.8 L208.3,173.0 L207.8,173.3 L207.3,173.5 L206.7,173.7 L206.1,173.9 L205.5,174.0 L204.9,174.2 L204.3,174.4 L203.6,174.5 L202.9,174.6 L202.2,174.7 L201.5,174.8 L200.7,174.9 L199.9,175.0 L199.1,175.0 L198.3,175.1 L197.6,175.1 L196.8,175.1 L196.0,175.0 L195.2,174.9 L194.4,174.8 L193.7,174.6 L192.9,174.4 L192.1,174.2 L191.3,174.0 L190.5,173.8 L189.8,173.6 L189.0,173.3 L188.3,173.1 L187.6,172.9 L186.9,172.6 L186.2,172.4 L185.6,172.1 L184.9,171.8 L184.3,171.6 L183.7,171.3 L183.0,171.1 L182.4,170.9 L181.7,170.7 L181.0,170.6 L180.3,170.4 L179.6,170.3 L178.9,170.2 L178.2,170.1 L177.5,170.0Z" fill="#a26b39"/>
<path d="M218.5,107.6 L218.8,107.8 L219.1,107.9 L219.5,108.1 L219.8,108.3 L220.1,108.5 L220.5,108.7 L220.9,109.0 L221.3,109.3 L221.8,109.7 L222.2,110.1 L222.7,110.5 L223.2,110.9 L223.7,111.4 L224.1,111.8 L224.6,112.3 L225.1,112.8 L225.5,113.3 L225.9,113.8 L226.3,114.3 L226.7,114.8 L227.1,115.3 L227.5,115.8 L227.8,116.4 L228.2,117.0 L228.5,117.5 L228.9,118.2 L229.2,118.8 L229.5,119.5 L229.8,120.2 L230.1,120.9 L230.4,121.7 L230.7,122.5 L231.0,123.2 L231.3,124.0 L231.5,124.9 L231.8,125.7 L232.0,126.5 L232.2,127.3 L232.5,128.2 L232.7,129.0 L232.9,129.9 L233.1,130.8 L233.3,131.7 L233.5,132.6 L233.6,133.5 L233.8,134.3 L233.9,135.2 L234.0,136.0 L234.1,136.9 L234.2,137.7 L234.3,138.6 L234.4,139.4 L234.4,140.2 L234.4,141.0 L234.5,141.9 L234.5,142.7 L234.5,143.5 L234.5,144.3 L234.5,145.1 L234.4,145.9 L234.4,146.8 L234.4,147.6 L234.3,148.4 L234.2,149.2 L234.1,150.0 L234.0,150.9 L233.9,151.7 L233.8,152.6 L233.6,153.4 L233.5,154.3 L233.3,155.2 L233.1,156.1 L232.9,157.0 L232.7,157.9 L232.5,158.8 L232.2,159.7 L232.0,160.5 L231.8,161.3 L231.5,162.1 L231.3,162.9 L231.0,163.7 L230.7,164.5 L230.5,165.3 L230.2,166.1 L229.9,166.8 L229.5,167.6 L229.2,168.3 L228.8,169.0 L228.5,169.7 L228.1,170.4 L227.7,171.1 L227.3,171.8 L226.8,172.5 L226.4,173.1 L225.9,173.8 L225.5,174.4 L225.0,175.0 L224.5,175.6 L224.0,176.2 L223.5,176.8 L223.0,177.3 L222.4,177.9 L221.9,178.4 L221.3,178.9 L220.8,179.4 L220.2,179.9 L212.8,170.2 L213.0,168.6 L213.3,166.9 L213.6,165.2 L213.8,163.5 L214.1,161.8 L214.3,160.2 L214.6,158.5 L214.7,157.0 L214.9,155.4 L215.0,154.0 L215.0,152.6 L215.0,151.4 L215.0,150.2 L214.9,149.0 L214.8,147.9 L214.7,146.8 L214.5,145.7 L214.4,144.6 L214.4,143.5 L214.3,142.3 L214.3,141.1 L214.3,140.0 L214.3,138.8 L214.3,137.6 L214.3,136.4 L214.3,135.2 L214.3,134.1 L214.3,132.9 L214.3,131.7 L214.3,130.5 L214.3,129.3 L214.2,128.1 L214.1,126.9 L214.0,125.7 L214.0,124.5 L213.9,123.3 L213.8,122.0 L213.7,120.8 L213.6,119.6 L213.5,118.4Z" fill="#0cf806"/>
<path d="M169.8,104.7 L169.9,105.2 L169.9,105.6 L170.0,106.1 L170.1,106.6 L170.1,107.0 L170.2,107.5 L170.3,108.0 L170.4,108.5 L170.5,108.9 L170.7,109.4 L170.9,109.9 L171.1,110.4 L171.4,110.9 L171.6,111.4 L171.9,111.9 L172.2,112.3 L172.5,112.8 L172.9,113.3 L173.2,113.8 L173.6,114.2 L174.0,114.6 L174.4,115.1 L174.9,115.6 L175.3,116.1 L175.8,116.5 L176.3,117.0 L176.8,117.3 L177.3,117.7 L177.8,117.9 L178.3,118.0 L178.8,118.0 L179.3,117.9 L179.8,117.8 L180.3,117.5 L180.8,117.2 L181.3,116.9 L181.8,116.6 L182.4,116.2 L183.0,115.9 L183.6,115.6 L184.3,115.3 L185.0,115.0 L185.7,114.7 L186.5,114.3 L187.3,114.0 L188.0,113.6 L188.8,113.3 L189.6,112.9 L190.4,112.6 L191.2,112.3 L192.0,112.0 L192.7,111.7 L193.5,111.4 L194.2,111.1 L195.0,110.8 L195.8,110.5 L196.5,110.2 L197.3,109.9 L198.0,109.6 L198.8,109.4 L199.6,109.2 L200.3,108.9 L201.1,108.7 L201.8,108.5 L202.6,108.3 L203.4,108.1 L204.1,108.0 L204.9,107.8 L205.6,107.6 L206.4,107.5 L207.2,107.4 L208.0,107.2 L208.8,107.1 L209.6,107.0 L210.3,106.9 L211.1,106.9 L211.9,106.8 L212.6,106.8 L213.2,106.7 L213.8,106.7 L214.3,106.7 L214.8,106.7 L215.2,106.7 L215.6,106.8 L215.9,106.8 L216.2,106.9 L216.5,107.0 L216.8,107.1 L217.2,107.2 L217.5,107.3 L217.8,107.4 L218.2,107.5 L218.5,107.6 L218.8,107.8 L219.1,107.9 L219.5,108.1 L219.8,108.3 L220.1,108.5 L220.5,108.7 L220.9,109.0 L221.3,109.3 L221.8,109.7 L222.2,110.1 L222.7,110.5 L223.2,110.9 L223.7,111.4 L224.1,111.8 L224.6,112.3 L225.1,112.8 L225.5,113.3 L225.9,113.8 L226.3,114.3 L226.7,114.8 L227.1,115.3 L227.5,115.8 L227.8,116.4 L228.2,117.0 L228.5,117.5 L228.9,118.2 L229.2,118.8 L229.5,119.5 L229.8,120.2 L230.1,120.9 L230.4,121.7 L230.7,122.5 L231.0,123.2 L231.3,124.0 L231.5,124.9 L231.8,125.7 L232.0,126.5 L232.2,127.3 L232.5,128.2 L232.7,129.0 L232.9,129.9 L233.1,130.8 L233.3,131.7 L233.5,132.6 L233.6,133.5 L233.8,134.3 L233.9,135.2 L234.0,136.0 L234.1,136.9 L234.2,137.7 L234.3,138.6 L234.4,139.4 L234.4,140.2 L234.4,141.0 L234.5,141.9 L234.5,142.7 L234.5,143.5 L234.5,144.3 L234.5,145.1 L234.4,145.9 L234.4,146.8 L234.4,147.6 L234.3,148.4 L234.2,149.2 L234.1,150.0 L234.0,150.9 L233.9,151.7 L233.8,152.6 L233.6,153.4 L233.5,154.3 L233.3,155.2 L233.1,156.1 L232.9,157.0 L232.7,157.9 L232.5,158.8 L232.2,159.7 L232.0,160.5 L231.8,161.3 L231.5,162.1 L231.3,162.9 L231.0,163.7 L230.7,164.5 L230.5,165.3 L230.2,166.1 L229.9,166.8 L229.5,167.6 L229.2,168.3 L228.8,169.0 L228.5,169.7 L228.1,170.4 L227.7,171.1 L227.3,171.8 L226.8,172.5 L226.4,173.1 L225.9,173.8 L225.5,174.4 L225.0,175.0 L224.5,175.6 L224.0,176.2 L223.5,176.8 L223.0,177.3 L222.4,177.9 L221.9,178.4 L221.3,178.9 L220.8,179.4 L220.2,179.9 L219.7,180.3 L219.2,180.7 L218.7,181.1 L218.2,181.4 L217.7,181.7 L217.2,182.0 L216.6,182.3 L216.1,182.5 L215.6,182.8 L215.1,183.0 L214.5,183.2 L213.9,183.4 L213.3,183.6 L212.8,183.7 L212.2,183.8 L211.6,184.0 L210.9,184.1 L210.3,184.2 L209.6,184.2 L209.0,184.3 L208.3,184.4 L207.6,184.5 L206.9,184.5 L206.1,184.6 L205.4,184.7 L204.6,184.7 L203.8,184.7 L203.0,184.8 L202.2,184.8 L201.5,184.7 L200.7,184.7 L199.9,184.6 L199.1,184.6 L198.4,184.5 L197.6,184.3 L196.8,184.2 L196.0,184.1 L195.2,183.9 L194.5,183.7 L193.8,183.6 L193.1,183.4 L192.5,183.2 L191.8,183.0 L191.3,182.8 L190.7,182.6 L190.1,182.4 L189.6,182.1 L189.1,181.9 L188.5,181.7 L188.0,181.4 L187.4,181.2 L186.8,181.0 L186.2,180.7 L185.6,180.4 L185.0,180.2 L184.4,179.9 L183.8,179.6 L183.3,179.4 L182.7,179.2 L182.2,179.0 L181.7,178.8 L181.2,178.7 L180.8,178.5 L180.4,178.4 L180.0,178.3 L179.6,178.3 L179.2,178.2 L178.9,178.2 L178.5,178.2 L178.2,178.2 L177.9,178.3 L177.6,178.4 L177.3,178.6 L177.0,178.8 L176.8,179.0 L176.5,179.3 L176.3,179.6 L176.1,179.9 L175.9,180.1 L175.7,180.4 L175.5,180.7 L175.3,181.0 L175.2,181.2 L175.1,181.5 L175.0,181.8 L174.9,182.1 L174.8,182.4 L174.8,182.7 L174.7,183.0 L174.6,183.3 L174.5,183.6" fill="none" stroke="#000" stroke-width="2.1" stroke-linecap="round" stroke-linejoin="round"/>
<path d="M161.2,108.0 L161.3,108.6 L161.4,109.2 L161.4,109.8 L161.5,110.5 L161.6,111.1 L161.6,111.7 L161.7,112.3 L161.8,112.9 L161.9,113.6 L162.1,114.2 L162.3,114.9 L162.5,115.5 L162.6,116.2 L162.9,116.9 L163.1,117.6 L163.3,118.2 L163.6,118.9 L163.9,119.6 L164.2,120.3 L164.5,120.9 L164.8,121.5 L165.2,122.2 L165.6,122.9 L166.0,123.5 L166.5,124.2 L166.9,124.8 L167.4,125.4 L167.9,126.0 L168.3,126.5 L168.8,127.0 L169.3,127.5 L169.8,127.9 L170.3,128.3 L170.8,128.7 L171.3,129.1 L171.8,129.4 L172.4,129.7 L172.9,129.9 L173.5,130.2 L174.0,130.4 L174.6,130.6 L175.1,130.7 L175.7,130.9 L176.2,130.9 L176.8,131.0 L177.4,131.0 L178.0,131.1 L178.6,131.0 L179.2,131.0 L179.8,130.9 L180.4,130.8 L181.1,130.6 L181.7,130.4 L182.3,130.2 L183.0,130.0 L183.6,129.7 L184.3,129.4 L185.0,129.1 L185.7,128.8 L186.4,128.5 L187.1,128.2 L187.9,127.8 L188.6,127.5 L189.4,127.1 L190.1,126.7 L190.9,126.3 L191.7,125.9 L192.5,125.5 L193.2,125.1 L194.0,124.7 L194.8,124.3 L195.6,123.9 L196.3,123.5 L197.1,123.1 L197.9,122.7 L198.7,122.3 L199.5,121.9 L200.2,121.5 L201.0,121.2 L201.7,120.9 L202.4,120.6 L203.1,120.4 L203.8,120.1 L204.5,119.9 L205.2,119.7 L205.8,119.5 L206.5,119.3 L207.1,119.2 L207.7,119.0 L208.3,118.9 L208.9,118.8 L209.4,118.7 L210.0,118.6 L210.5,118.6 L211.0,118.6 L211.5,118.5 L212.0,118.5 L212.5,118.5 L213.0,118.4 L213.5,118.4" fill="none" stroke="#ea0a14" stroke-width="3.8" stroke-linecap="round" stroke-linejoin="round"/>
<path d="M166.0,180.2 L166.1,179.8 L166.1,179.4 L166.2,178.9 L166.2,178.5 L166.3,178.1 L166.4,177.7 L166.5,177.3 L166.6,176.8 L166.7,176.4 L166.9,176.0 L167.1,175.6 L167.4,175.1 L167.7,174.6 L168.0,174.2 L168.3,173.7 L168.7,173.2 L169.0,172.8 L169.4,172.4 L169.8,172.0 L170.2,171.7 L170.6,171.4 L171.0,171.2 L171.5,170.9 L171.9,170.7 L172.4,170.5 L172.9,170.4 L173.4,170.3 L173.9,170.1 L174.4,170.1 L175.0,170.0 L175.6,170.0 L176.2,170.0 L176.9,170.0 L177.5,170.0 L178.2,170.1 L178.9,170.2 L179.6,170.3 L180.3,170.4 L181.0,170.6 L181.7,170.7 L182.4,170.9 L183.0,171.1 L183.7,171.3 L184.3,171.6 L184.9,171.8 L185.6,172.1 L186.2,172.4 L186.9,172.6 L187.6,172.9 L188.3,173.1 L189.0,173.3 L189.8,173.6 L190.5,173.8 L191.3,174.0 L192.1,174.2 L192.9,174.4 L193.7,174.6 L194.4,174.8 L195.2,174.9 L196.0,175.0 L196.8,175.1 L197.6,175.1 L198.3,175.1 L199.1,175.0 L199.9,175.0 L200.7,174.9 L201.5,174.8 L202.2,174.7 L202.9,174.6 L203.6,174.5 L204.3,174.4 L204.9,174.2 L205.5,174.0 L206.1,173.9 L206.7,173.7 L207.3,173.5 L207.8,173.3 L208.3,173.0 L208.8,172.8 L209.3,172.6 L209.7,172.4 L210.1,172.2 L210.5,171.9 L210.9,171.7 L211.2,171.4 L211.5,171.2 L211.8,170.9 L212.1,170.7 L212.5,170.4 L212.8,170.2" fill="none" stroke="#ea0a14" stroke-width="3.8" stroke-linecap="round" stroke-linejoin="round"/>
<path d="M280.7,100.5 L280.7,100.8 L280.8,101.2 L280.8,101.5 L280.8,101.9 L280.8,102.2 L280.9,102.6 L280.9,103.0 L281.0,103.3 L281.0,103.7 L281.1,104.0 L281.2,104.3 L281.3,104.7 L281.4,105.0 L281.5,105.4 L281.6,105.8 L281.8,106.1 L281.9,106.5 L282.1,106.8 L282.2,107.2 L282.4,107.5 L282.6,107.9 L282.8,108.2 L283.0,108.6 L283.2,108.9 L283.5,109.3 L283.7,109.7 L284.0,110.0 L284.2,110.4 L284.5,110.7 L284.8,111.0 L285.1,111.3 L285.4,111.6 L285.7,111.9 L286.1,112.3 L286.4,112.6 L286.8,112.8 L287.1,113.1 L287.5,113.3 L287.9,113.4 L288.3,113.5 L287.1,126.4 L286.6,126.3 L286.2,126.3 L285.7,126.2 L285.3,126.0 L284.9,125.9 L284.5,125.7 L284.0,125.5 L283.6,125.3 L283.2,125.1 L282.8,124.9 L282.4,124.6 L282.0,124.4 L281.5,124.1 L281.1,123.7 L280.7,123.4 L280.3,123.0 L279.9,122.7 L279.5,122.3 L279.1,122.0 L278.8,121.6 L278.5,121.2 L278.2,120.9 L277.9,120.5 L277.6,120.2 L277.3,119.8 L277.1,119.5 L276.8,119.1 L276.6,118.7 L276.3,118.3 L276.1,117.9 L275.9,117.5 L275.6,117.1 L275.4,116.6 L275.2,116.2 L275.0,115.7 L274.8,115.2 L274.6,114.8 L274.4,114.3 L274.3,113.9 L274.1,113.4 L273.9,112.9 L273.8,112.5 L273.6,112.0 L273.5,111.6 L273.4,111.1 L273.2,110.7 L273.1,110.2 L273.0,109.8 L272.9,109.3 L272.8,108.9 L272.7,108.5 L272.6,108.0 L272.6,107.6 L272.5,107.2 L272.5,106.7 L272.4,106.3 L272.4,105.9 L272.3,105.5 L272.3,105.0 L272.2,104.6Z" fill="#f0f0f0"/>
<path d="M285.0,178.7 L285.1,178.5 L285.2,178.2 L285.2,178.0 L285.3,177.7 L285.4,177.5 L285.4,177.2 L285.5,177.0 L285.6,176.7 L285.7,176.5 L285.8,176.3 L285.9,176.1 L286.0,175.9 L286.1,175.7 L286.3,175.5 L286.4,175.3 L286.5,175.1 L286.7,174.9 L286.8,174.7 L286.9,174.6 L287.1,174.4 L287.3,174.3 L287.4,174.1 L287.6,174.0 L287.8,173.9 L288.0,173.8 L288.2,173.6 L288.4,173.5 L288.6,173.5 L288.8,173.4 L289.0,173.3 L289.2,173.2 L289.4,173.2 L289.6,173.1 L289.9,173.1 L290.1,173.0 L290.3,173.0 L290.6,173.0 L290.8,173.0 L291.1,173.0 L291.4,173.0 L290.6,164.6 L290.2,164.5 L289.8,164.5 L289.4,164.4 L289.0,164.3 L288.6,164.3 L288.2,164.3 L287.9,164.2 L287.5,164.2 L287.2,164.2 L286.8,164.2 L286.5,164.3 L286.2,164.3 L285.8,164.3 L285.5,164.3 L285.2,164.4 L284.9,164.5 L284.5,164.5 L284.2,164.6 L283.9,164.7 L283.6,164.8 L283.3,164.9 L283.0,165.0 L282.7,165.1 L282.4,165.3 L282.1,165.4 L281.8,165.5 L281.6,165.7 L281.3,165.9 L281.1,166.1 L280.8,166.2 L280.6,166.4 L280.4,166.6 L280.1,166.9 L279.9,167.1 L279.7,167.3 L279.5,167.5 L279.3,167.8 L279.1,168.1 L278.9,168.3 L278.7,168.6 L278.5,168.9 L278.4,169.2 L278.2,169.5 L278.0,169.7 L277.9,170.0 L277.8,170.3 L277.6,170.5 L277.5,170.7 L277.4,171.0 L277.3,171.2 L277.2,171.5 L277.1,171.7 L277.1,172.0 L277.0,172.2 L276.9,172.5 L276.8,172.8 L276.8,173.1 L276.7,173.4 L276.7,173.7 L276.6,174.1 L276.6,174.4 L276.5,174.7 L276.5,175.0 L276.4,175.4 L276.4,175.7Z" fill="#f0f0f0"/>
<path d="M288.3,113.5 L288.7,113.5 L289.1,113.5 L289.6,113.4 L290.0,113.2 L290.5,113.0 L290.9,112.8 L291.4,112.6 L291.9,112.4 L292.3,112.2 L292.8,112.0 L293.3,111.8 L293.8,111.6 L294.2,111.4 L294.7,111.2 L295.2,111.0 L295.7,110.8 L296.2,110.6 L296.8,110.4 L297.3,110.1 L297.8,109.9 L298.3,109.6 L298.9,109.4 L299.4,109.1 L299.9,108.8 L300.5,108.5 L301.0,108.2 L301.6,107.9 L302.1,107.6 L302.7,107.3 L303.3,107.0 L303.9,106.7 L304.5,106.4 L305.2,106.1 L305.8,105.8 L306.4,105.5 L307.1,105.2 L307.7,104.9 L308.4,104.6 L309.0,104.3 L309.6,104.0 L310.2,103.7 L310.8,103.5 L311.3,103.2 L311.9,103.0 L312.5,102.8 L313.0,102.5 L313.6,102.3 L314.1,102.1 L314.7,101.8 L315.3,101.6 L315.9,101.4 L316.5,101.1 L317.1,100.9 L317.7,100.7 L318.3,100.4 L319.0,100.2 L319.6,100.0 L320.2,99.7 L320.8,99.5 L321.4,99.3 L322.0,99.1 L322.6,98.9 L323.2,98.7 L323.8,98.5 L324.4,98.3 L324.9,98.1 L325.5,97.9 L326.1,97.7 L326.7,97.5 L327.3,97.3 L327.9,97.1 L328.5,96.9 L329.1,96.8 L329.8,96.6 L330.4,96.4 L331.0,96.2 L331.6,96.1 L332.2,95.9 L332.7,107.0 L332.2,107.2 L331.6,107.5 L331.1,107.7 L330.6,108.0 L330.0,108.2 L329.5,108.5 L329.0,108.7 L328.4,109.0 L327.9,109.2 L327.3,109.5 L326.7,109.8 L326.2,110.0 L325.6,110.3 L325.0,110.6 L324.4,110.8 L323.8,111.1 L323.2,111.4 L322.6,111.6 L322.0,111.9 L321.4,112.2 L320.8,112.5 L320.2,112.8 L319.6,113.1 L319.0,113.4 L318.3,113.7 L317.7,114.0 L317.1,114.3 L316.5,114.6 L315.9,114.9 L315.3,115.2 L314.7,115.5 L314.1,115.8 L313.6,116.1 L313.0,116.4 L312.5,116.6 L311.9,116.9 L311.3,117.2 L310.8,117.5 L310.2,117.8 L309.6,118.1 L309.0,118.4 L308.4,118.7 L307.7,119.0 L307.1,119.3 L306.4,119.7 L305.8,120.0 L305.2,120.3 L304.5,120.6 L303.9,120.9 L303.3,121.2 L302.7,121.5 L302.1,121.8 L301.6,122.1 L301.0,122.4 L300.5,122.7 L300.0,123.0 L299.4,123.2 L298.9,123.5 L298.3,123.8 L297.8,124.0 L297.2,124.2 L296.7,124.5 L296.1,124.7 L295.6,124.9 L295.0,125.1 L294.5,125.3 L293.9,125.5 L293.4,125.6 L292.8,125.8 L292.3,125.9 L291.8,126.0 L291.2,126.1 L290.7,126.2 L290.2,126.3 L289.6,126.4 L289.1,126.4 L288.6,126.4 L288.1,126.5 L287.6,126.4 L287.1,126.4Z" fill="#a26b39"/>
<path d="M291.4,173.0 L291.7,173.0 L292.0,173.1 L292.4,173.1 L292.8,173.2 L293.1,173.2 L293.5,173.3 L293.9,173.4 L294.3,173.5 L294.6,173.6 L295.0,173.7 L295.4,173.8 L295.7,173.9 L296.1,174.1 L296.4,174.2 L296.8,174.3 L297.1,174.5 L297.5,174.6 L297.9,174.8 L298.2,174.9 L298.6,175.1 L299.0,175.3 L299.3,175.4 L299.7,175.6 L300.1,175.7 L300.5,175.9 L300.9,176.1 L301.3,176.3 L301.7,176.4 L302.1,176.6 L302.5,176.8 L302.9,177.0 L303.4,177.2 L303.8,177.4 L304.2,177.5 L304.7,177.7 L305.1,177.9 L305.6,178.1 L306.1,178.3 L306.6,178.5 L307.1,178.7 L307.6,178.9 L308.2,179.1 L308.8,179.3 L309.4,179.5 L310.0,179.7 L310.6,179.9 L311.2,180.1 L311.8,180.2 L312.4,180.4 L313.0,180.6 L313.6,180.8 L314.1,180.9 L314.7,181.1 L315.3,181.3 L315.8,181.4 L316.4,181.6 L316.9,181.8 L317.5,181.9 L318.0,182.1 L318.6,182.2 L319.1,182.3 L319.7,182.5 L320.2,182.6 L320.7,182.7 L321.3,182.8 L321.8,183.0 L322.3,183.1 L322.9,183.2 L323.4,183.3 L324.0,183.4 L324.6,183.5 L325.2,183.6 L325.8,183.7 L326.4,183.8 L327.0,183.9 L327.6,184.0 L328.2,184.1 L328.8,184.2 L329.4,184.3 L330.0,184.4 L330.6,184.5 L331.1,184.5 L331.7,184.6 L332.2,184.7 L332.8,184.7 L333.3,184.7 L333.8,184.8 L334.4,184.8 L334.9,184.9 L335.5,184.9 L336.1,184.9 L336.7,185.0 L337.3,185.0 L337.9,185.0 L338.6,185.0 L339.2,185.0 L339.8,185.1 L340.4,185.1 L340.9,185.1 L341.4,185.1 L341.9,185.1 L342.3,185.1 L342.6,185.1 L343.0,185.1 L343.3,185.2 L343.7,185.2 L344.0,185.2 L344.3,185.1 L344.7,185.1 L345.0,185.1 L345.4,185.1 L345.7,185.0 L332.9,172.9 L332.3,173.0 L331.7,173.1 L331.1,173.1 L330.5,173.2 L330.0,173.3 L329.4,173.4 L328.8,173.4 L328.2,173.5 L327.7,173.6 L327.1,173.6 L326.6,173.6 L326.0,173.7 L325.5,173.7 L325.0,173.7 L324.5,173.7 L324.0,173.7 L323.5,173.7 L323.0,173.6 L322.5,173.6 L322.0,173.6 L321.5,173.6 L321.0,173.5 L320.5,173.5 L320.0,173.5 L319.6,173.4 L319.1,173.4 L318.6,173.3 L318.1,173.2 L317.6,173.2 L317.1,173.1 L316.6,173.0 L316.1,172.9 L315.6,172.8 L315.1,172.8 L314.6,172.7 L314.0,172.6 L313.5,172.4 L313.0,172.3 L312.5,172.2 L312.0,172.1 L311.5,172.0 L311.0,171.9 L310.5,171.7 L310.0,171.6 L309.6,171.5 L309.1,171.3 L308.6,171.2 L308.1,171.0 L307.6,170.9 L307.1,170.7 L306.6,170.5 L306.1,170.3 L305.6,170.1 L305.1,169.9 L304.6,169.6 L304.0,169.4 L303.5,169.2 L303.0,168.9 L302.5,168.7 L302.0,168.5 L301.5,168.3 L301.0,168.1 L300.5,167.8 L300.0,167.6 L299.5,167.4 L299.0,167.2 L298.5,167.0 L298.0,166.8 L297.6,166.6 L297.1,166.4 L296.6,166.2 L296.2,166.1 L295.8,165.9 L295.3,165.8 L294.9,165.7 L294.5,165.5 L294.1,165.4 L293.6,165.3 L293.2,165.2 L292.8,165.1 L292.4,165.0 L291.9,164.9 L291.5,164.8 L291.1,164.7 L290.6,164.6Z" fill="#a26b39"/>
<path d="M332.2,95.9 L332.7,95.8 L333.2,95.7 L333.6,95.6 L334.1,95.5 L334.4,95.5 L334.8,95.4 L335.1,95.3 L335.4,95.3 L335.7,95.3 L336.0,95.3 L336.3,95.3 L336.6,95.3 L336.9,95.3 L337.2,95.4 L337.4,95.4 L337.7,95.5 L337.9,95.5 L338.2,95.6 L338.4,95.7 L338.6,95.9 L338.9,96.0 L339.1,96.2 L339.3,96.4 L339.5,96.6 L339.8,96.9 L340.0,97.2 L340.2,97.5 L340.4,97.8 L340.6,98.1 L340.8,98.4 L340.9,98.7 L341.1,99.0 L341.2,99.3 L341.4,99.6 L341.5,99.9 L341.6,100.2 L341.7,100.5 L341.8,100.8 L341.9,101.2 L342.0,101.5 L342.1,101.9 L342.2,102.3 L342.3,102.7 L342.4,103.2 L342.4,103.7 L342.5,104.2 L342.6,104.7 L342.6,105.3 L342.7,105.8 L342.7,106.4 L332.7,107.0Z" fill="#1473c4"/>
<path d="M350.8,165.6 L351.1,166.1 L351.3,166.6 L351.5,167.2 L351.7,167.7 L351.9,168.1 L352.1,168.6 L352.3,169.0 L352.5,169.5 L352.7,169.9 L352.9,170.2 L353.1,170.6 L353.3,171.0 L353.5,171.4 L353.7,171.7 L353.8,172.1 L354.0,172.5 L354.1,172.9 L354.3,173.3 L354.4,173.7 L354.5,174.1 L354.6,174.5 L354.7,174.9 L354.8,175.3 L354.9,175.7 L355.0,176.1 L355.0,176.4 L355.0,176.7 L355.1,177.0 L355.1,177.3 L355.1,177.6 L355.0,177.8 L355.0,178.1 L355.0,178.3 L354.9,178.5 L354.9,178.8 L354.8,179.0 L354.7,179.2 L354.6,179.4 L354.5,179.6 L354.4,179.8 L354.3,180.0 L354.2,180.2 L354.1,180.4 L353.9,180.6 L353.8,180.8 L353.6,181.0 L353.4,181.2 L353.3,181.4 L353.1,181.6 L352.9,181.9 L352.7,182.1 L352.4,182.3 L352.2,182.5 L352.0,182.7 L351.7,182.9 L351.5,183.1 L351.2,183.3 L351.0,183.4 L350.7,183.6 L350.4,183.7 L350.1,183.9 L349.8,184.0 L349.5,184.2 L349.2,184.3 L348.9,184.4 L348.6,184.5 L348.3,184.6 L347.9,184.7 L347.6,184.8 L347.2,184.8 L346.8,184.9 L346.5,184.9 L346.1,185.0 L345.7,185.0 L332.9,172.9Z" fill="#1473c4"/>
<path d="M342.7,106.4 L342.8,106.9 L342.8,107.5 L342.8,108.1 L342.9,108.6 L342.9,109.2 L342.9,109.8 L343.0,110.4 L343.0,111.1 L343.0,111.7 L343.0,112.3 L343.0,113.0 L343.0,113.6 L343.0,114.3 L342.9,114.9 L342.9,115.6 L342.8,116.3 L342.8,117.0 L342.7,117.7 L342.7,118.4 L342.6,119.1 L342.5,119.8 L342.5,120.5 L342.5,121.2 L342.4,121.9 L342.4,122.7 L342.3,123.4 L342.3,124.1 L342.3,124.9 L342.3,125.6 L342.2,126.3 L342.2,127.1 L342.2,127.8 L342.2,128.5 L342.2,129.2 L342.2,130.0 L342.2,130.7 L342.2,131.4 L342.2,132.1 L342.2,132.9 L342.2,133.6 L342.3,134.3 L342.3,135.0 L342.3,135.7 L342.4,136.4 L342.4,137.1 L342.5,137.8 L342.5,138.5 L342.6,139.2 L342.7,139.9 L342.7,140.6 L342.8,141.3 L342.9,142.0 L343.0,142.7 L343.1,143.4 L343.2,144.1 L343.4,144.9 L343.5,145.6 L343.6,146.3 L343.8,147.0 L343.9,147.7 L344.1,148.4 L344.2,149.0 L344.4,149.6 L344.5,150.2 L344.7,150.8 L344.8,151.4 L345.0,151.9 L345.2,152.5 L345.4,153.0 L345.5,153.5 L345.7,154.0 L345.9,154.5 L346.1,155.0 L346.3,155.4 L346.5,155.8 L346.7,156.2 L346.9,156.6 L347.1,157.0 L347.3,157.4 L347.5,157.8 L347.7,158.2 L347.9,158.6 L348.1,159.1 L348.3,159.5 L348.5,160.0 L348.7,160.5 L348.9,161.0 L349.2,161.5 L349.4,162.0 L349.6,162.5 L349.8,163.0 L350.0,163.5 L350.2,164.0 L350.4,164.5 L350.6,165.1 L350.8,165.6 L332.9,172.9 L332.6,172.6 L332.3,172.2 L332.0,171.9 L331.7,171.6 L331.4,171.2 L331.2,170.9 L330.9,170.6 L330.6,170.2 L330.3,169.9 L330.0,169.5 L329.7,169.1 L329.4,168.7 L329.1,168.4 L328.9,168.0 L328.6,167.6 L328.3,167.2 L328.0,166.7 L327.7,166.3 L327.4,165.9 L327.1,165.4 L326.8,164.9 L326.5,164.4 L326.1,163.9 L325.8,163.3 L325.4,162.8 L325.1,162.2 L324.8,161.7 L324.4,161.1 L324.1,160.6 L323.8,160.0 L323.5,159.4 L323.2,158.9 L322.9,158.3 L322.6,157.7 L322.3,157.2 L322.1,156.6 L321.8,156.0 L321.5,155.5 L321.3,154.9 L321.0,154.3 L320.8,153.7 L320.5,153.1 L320.3,152.5 L320.0,152.0 L319.8,151.4 L319.6,150.8 L319.4,150.2 L319.2,149.6 L319.0,149.1 L318.8,148.5 L318.6,148.0 L318.5,147.4 L318.4,146.9 L318.3,146.3 L318.2,145.8 L318.1,145.3 L318.0,144.8 L317.9,144.3 L317.9,143.8 L317.8,143.3 L317.8,142.8 L317.7,142.4 L317.7,141.9 L317.7,141.5 L317.7,141.1 L317.7,140.7 L317.7,140.3 L317.7,139.8 L317.8,139.4 L317.8,139.0 L317.8,138.6 L317.9,138.2 L317.9,137.8 L318.0,137.4 L318.0,137.0 L318.1,136.6 L318.2,136.2 L318.3,135.7 L318.4,135.2 L318.5,134.7 L318.6,134.1 L318.8,133.4 L319.0,132.7 L319.2,132.0 L319.4,131.3 L319.6,130.5 L319.8,129.7 L320.0,129.0 L320.3,128.2 L320.5,127.5 L320.7,126.8 L321.0,126.1 L321.3,125.4 L321.5,124.7 L321.8,124.0 L322.1,123.3 L322.4,122.6 L322.7,121.9 L323.0,121.2 L323.4,120.5 L323.8,119.8 L324.2,119.1 L324.7,118.4 L325.1,117.7 L325.6,117.0 L326.1,116.3 L326.6,115.6 L327.0,114.9 L327.5,114.2 L328.0,113.5 L328.5,112.8 L328.9,112.2 L329.4,111.5 L329.9,110.9 L330.3,110.2 L330.8,109.6 L331.3,108.9 L331.8,108.3 L332.2,107.6 L332.7,107.0Z" fill="#0cf806"/>
<path d="M280.7,100.5 L280.7,100.8 L280.8,101.2 L280.8,101.5 L280.8,101.9 L280.8,102.2 L280.9,102.6 L280.9,103.0 L281.0,103.3 L281.0,103.7 L281.1,104.0 L281.2,104.3 L281.3,104.7 L281.4,105.0 L281.5,105.4 L281.6,105.8 L281.8,106.1 L281.9,106.5 L282.1,106.8 L282.2,107.2 L282.4,107.5 L282.6,107.9 L282.8,108.2 L283.0,108.6 L283.2,108.9 L283.5,109.3 L283.7,109.7 L284.0,110.0 L284.2,110.4 L284.5,110.7 L284.8,111.0 L285.1,111.3 L285.4,111.6 L285.7,111.9 L286.1,112.3 L286.4,112.6 L286.8,112.8 L287.1,113.1 L287.5,113.3 L287.9,113.4 L288.3,113.5 L288.7,113.5 L289.1,113.5 L289.6,113.4 L290.0,113.2 L290.5,113.0 L290.9,112.8 L291.4,112.6 L291.9,112.4 L292.3,112.2 L292.8,112.0 L293.3,111.8 L293.8,111.6 L294.2,111.4 L294.7,111.2 L295.2,111.0 L295.7,110.8 L296.2,110.6 L296.8,110.4 L297.3,110.1 L297.8,109.9 L298.3,109.6 L298.9,109.4 L299.4,109.1 L299.9,108.8 L300.5,108.5 L301.0,108.2 L301.6,107.9 L302.1,107.6 L302.7,107.3 L303.3,107.0 L303.9,106.7 L304.5,106.4 L305.2,106.1 L305.8,105.8 L306.4,105.5 L307.1,105.2 L307.7,104.9 L308.4,104.6 L309.0,104.3 L309.6,104.0 L310.2,103.7 L310.8,103.5 L311.3,103.2 L311.9,103.0 L312.5,102.8 L313.0,102.5 L313.6,102.3 L314.1,102.1 L314.7,101.8 L315.3,101.6 L315.9,101.4 L316.5,101.1 L317.1,100.9 L317.7,100.7 L318.3,100.4 L319.0,100.2 L319.6,100.0 L320.2,99.7 L320.8,99.5 L321.4,99.3 L322.0,99.1 L322.6,98.9 L323.2,98.7 L323.8,98.5 L324.4,98.3 L324.9,98.1 L325.5,97.9 L326.1,97.7 L326.7,97.5 L327.3,97.3 L327.9,97.1 L328.5,96.9 L329.1,96.8 L329.8,96.6 L330.4,96.4 L331.0,96.2 L331.6,96.1 L332.2,95.9 L332.7,95.8 L333.2,95.7 L333.6,95.6 L334.1,95.5 L334.4,95.5 L334.8,95.4 L335.1,95.3 L335.4,95.3 L335.7,95.3 L336.0,95.3 L336.3,95.3 L336.6,95.3 L336.9,95.3 L337.2,95.4 L337.4,95.4 L337.7,95.5 L337.9,95.5 L338.2,95.6 L338.4,95.7 L338.6,95.9 L338.9,96.0 L339.1,96.2 L339.3,96.4 L339.5,96.6 L339.8,96.9 L340.0,97.2 L340.2,97.5 L340.4,97.8 L340.6,98.1 L340.8,98.4 L340.9,98.7 L341.1,99.0 L341.2,99.3 L341.4,99.6 L341.5,99.9 L341.6,100.2 L341.7,100.5 L341.8,100.8 L341.9,101.2 L342.0,101.5 L342.1,101.9 L342.2,102.3 L342.3,102.7 L342.4,103.2 L342.4,103.7 L342.5,104.2 L342.6,104.7 L342.6,105.3 L342.7,105.8 L342.7,106.4 L342.8,106.9 L342.8,107.5 L342.8,108.1 L342.9,108.6 L342.9,109.2 L342.9,109.8 L343.0,110.4 L343.0,111.1 L343.0,111.7 L343.0,112.3 L343.0,113.0 L343.0,113.6 L343.0,114.3 L342.9,114.9 L342.9,115.6 L342.8,116.3 L342.8,117.0 L342.7,117.7 L342.7,118.4 L342.6,119.1 L342.5,119.8 L342.5,120.5 L342.5,121.2 L342.4,121.9 L342.4,122.7 L342.3,123.4 L342.3,124.1 L342.3,124.9 L342.3,125.6 L342.2,126.3 L342.2,127.1 L342.2,127.8 L342.2,128.5 L342.2,129.2 L342.2,130.0 L342.2,130.7 L342.2,131.4 L342.2,132.1 L342.2,132.9 L342.2,133.6 L342.3,134.3 L342.3,135.0 L342.3,135.7 L342.4,136.4 L342.4,137.1 L342.5,137.8 L342.5,138.5 L342.6,139.2 L342.7,139.9 L342.7,140.6 L342.8,141.3 L342.9,142.0 L343.0,142.7 L343.1,143.4 L343.2,144.1 L343.4,144.9 L343.5,145.6 L343.6,146.3 L343.8,147.0 L343.9,147.7 L344.1,148.4 L344.2,149.0 L344.4,149.6 L344.5,150.2 L344.7,150.8 L344.8,151.4 L345.0,151.9 L345.2,152.5 L345.4,153.0 L345.5,153.5 L345.7,154.0 L345.9,154.5 L346.1,155.0 L346.3,155.4 L346.5,155.8 L346.7,156.2 L346.9,156.6 L347.1,157.0 L347.3,157.4 L347.5,157.8 L347.7,158.2 L347.9,158.6 L348.1,159.1 L348.3,159.5 L348.5,160.0 L348.7,160.5 L348.9,161.0 L349.2,161.5 L349.4,162.0 L349.6,162.5 L349.8,163.0 L350.0,163.5 L350.2,164.0 L350.4,164.5 L350.6,165.1 L350.8,165.6 L351.1,166.1 L351.3,166.6 L351.5,167.2 L351.7,167.7 L351.9,168.1 L352.1,168.6 L352.3,169.0 L352.5,169.5 L352.7,169.9 L352.9,170.2 L353.1,170.6 L353.3,171.0 L353.5,171.4 L353.7,171.7 L353.8,172.1 L354.0,172.5 L354.1,172.9 L354.3,173.3 L354.4,173.7 L354.5,174.1 L354.6,174.5 L354.7,174.9 L354.8,175.3 L354.9,175.7 L355.0,176.1 L355.0,176.4 L355.0,176.7 L355.1,177.0 L355.1,177.3 L355.1,177.6 L355.0,177.8 L355.0,178.1 L355.0,178.3 L354.9,178.5 L354.9,178.8 L354.8,179.0 L354.7,179.2 L354.6,179.4 L354.5,179.6 L354.4,179.8 L354.3,180.0 L354.2,180.2 L354.1,180.4 L353.9,180.6 L353.8,180.8 L353.6,181.0 L353.4,181.2 L353.3,181.4 L353.1,181.6 L352.9,181.9 L352.7,182.1 L352.4,182.3 L352.2,182.5 L352.0,182.7 L351.7,182.9 L351.5,183.1 L351.2,183.3 L351.0,183.4 L350.7,183.6 L350.4,183.7 L350.1,183.9 L349.8,184.0 L349.5,184.2 L349.2,184.3 L348.9,184.4 L348.6,184.5 L348.3,184.6 L347.9,184.7 L347.6,184.8 L347.2,184.8 L346.8,184.9 L346.5,184.9 L346.1,185.0 L345.7,185.0 L345.4,185.1 L345.0,185.1 L344.7,185.1 L344.3,185.1 L344.0,185.2 L343.7,185.2 L343.3,185.2 L343.0,185.1 L342.6,185.1 L342.3,185.1 L341.9,185.1 L341.4,185.1 L340.9,185.1 L340.4,185.1 L339.8,185.1 L339.2,185.0 L338.6,185.0 L337.9,185.0 L337.3,185.0 L336.7,185.0 L336.1,184.9 L335.5,184.9 L334.9,184.9 L334.4,184.8 L333.8,184.8 L333.3,184.7 L332.8,184.7 L332.2,184.7 L331.7,184.6 L331.1,184.5 L330.6,184.5 L330.0,184.4 L329.4,184.3 L328.8,184.2 L328.2,184.1 L327.6,184.0 L327.0,183.9 L326.4,183.8 L325.8,183.7 L325.2,183.6 L324.6,183.5 L324.0,183.4 L323.4,183.3 L322.9,183.2 L322.3,183.1 L321.8,183.0 L321.3,182.8 L320.7,182.7 L320.2,182.6 L319.7,182.5 L319.1,182.3 L318.6,182.2 L318.0,182.1 L317.5,181.9 L316.9,181.8 L316.4,181.6 L315.8,181.4 L315.3,181.3 L314.7,181.1 L314.1,180.9 L313.6,180.8 L313.0,180.6 L312.4,180.4 L311.8,180.2 L311.2,180.1 L310.6,179.9 L310.0,179.7 L309.4,179.5 L308.8,179.3 L308.2,179.1 L307.6,178.9 L307.1,178.7 L306.6,178.5 L306.1,178.3 L305.6,178.1 L305.1,177.9 L304.7,177.7 L304.2,177.5 L303.8,177.4 L303.4,177.2 L302.9,177.0 L302.5,176.8 L302.1,176.6 L301.7,176.4 L301.3,176.3 L300.9,176.1 L300.5,175.9 L300.1,175.7 L299.7,175.6 L299.3,175.4 L299.0,175.3 L298.6,175.1 L298.2,174.9 L297.9,174.8 L297.5,174.6 L297.1,174.5 L296.8,174.3 L296.4,174.2 L296.1,174.1 L295.7,173.9 L295.4,173.8 L295.0,173.7 L294.6,173.6 L294.3,173.5 L293.9,173.4 L293.5,173.3 L293.1,173.2 L292.8,173.2 L292.4,173.1 L292.0,173.1 L291.7,173.0 L291.4,173.0 L291.1,173.0 L290.8,173.0 L290.6,173.0 L290.3,173.0 L290.1,173.0 L289.9,173.1 L289.6,173.1 L289.4,173.2 L289.2,173.2 L289.0,173.3 L288.8,173.4 L288.6,173.5 L288.4,173.5 L288.2,173.6 L288.0,173.8 L287.8,173.9 L287.6,174.0 L287.4,174.1 L287.3,174.3 L287.1,174.4 L286.9,174.6 L286.8,174.7 L286.7,174.9 L286.5,175.1 L286.4,175.3 L286.3,175.5 L286.1,175.7 L286.0,175.9 L285.9,176.1 L285.8,176.3 L285.7,176.5 L285.6,176.7 L285.5,177.0 L285.4,177.2 L285.4,177.5 L285.3,177.7 L285.2,178.0 L285.2,178.2 L285.1,178.5 L285.0,178.7" fill="none" stroke="#000" stroke-width="2.1" stroke-linecap="round" stroke-linejoin="round"/>
<path d="M272.2,104.6 L272.3,105.0 L272.3,105.5 L272.4,105.9 L272.4,106.3 L272.5,106.7 L272.5,107.2 L272.6,107.6 L272.6,108.0 L272.7,108.5 L272.8,108.9 L272.9,109.3 L273.0,109.8 L273.1,110.2 L273.2,110.7 L273.4,111.1 L273.5,111.6 L273.6,112.0 L273.8,112.5 L273.9,112.9 L274.1,113.4 L274.3,113.9 L274.4,114.3 L274.6,114.8 L274.8,115.2 L275.0,115.7 L275.2,116.2 L275.4,116.6 L275.6,117.1 L275.9,117.5 L276.1,117.9 L276.3,118.3 L276.6,118.7 L276.8,119.1 L277.1,119.5 L277.3,119.8 L277.6,120.2 L277.9,120.5 L278.2,120.9 L278.5,121.2 L278.8,121.6 L279.1,122.0 L279.5,122.3 L279.9,122.7 L280.3,123.0 L280.7,123.4 L281.1,123.7 L281.5,124.1 L282.0,124.4 L282.4,124.6 L282.8,124.9 L283.2,125.1 L283.6,125.3 L284.0,125.5 L284.5,125.7 L284.9,125.9 L285.3,126.0 L285.7,126.2 L286.2,126.3 L286.6,126.3 L287.1,126.4 L287.6,126.4 L288.1,126.5 L288.6,126.4 L289.1,126.4 L289.6,126.4 L290.2,126.3 L290.7,126.2 L291.2,126.1 L291.8,126.0 L292.3,125.9 L292.8,125.8 L293.4,125.6 L293.9,125.5 L294.5,125.3 L295.0,125.1 L295.6,124.9 L296.1,124.7 L296.7,124.5 L297.2,124.2 L297.8,124.0 L298.3,123.8 L298.9,123.5 L299.4,123.2 L300.0,123.0 L300.5,122.7 L301.0,122.4 L301.6,122.1 L302.1,121.8 L302.7,121.5 L303.3,121.2 L303.9,120.9 L304.5,120.6 L305.2,120.3 L305.8,120.0 L306.4,119.7 L307.1,119.3 L307.7,119.0 L308.4,118.7 L309.0,118.4 L309.6,118.1 L310.2,117.8 L310.8,117.5 L311.3,117.2 L311.9,116.9 L312.5,116.6 L313.0,116.4 L313.6,116.1 L314.1,115.8 L314.7,115.5 L315.3,115.2 L315.9,114.9 L316.5,114.6 L317.1,114.3 L317.7,114.0 L318.3,113.7 L319.0,113.4 L319.6,113.1 L320.2,112.8 L320.8,112.5 L321.4,112.2 L322.0,111.9 L322.6,111.6 L323.2,111.4 L323.8,111.1 L324.4,110.8 L325.0,110.6 L325.6,110.3 L326.2,110.0 L326.7,109.8 L327.3,109.5 L327.9,109.2 L328.4,109.0 L329.0,108.7 L329.5,108.5 L330.0,108.2 L330.6,108.0 L331.1,107.7 L331.6,107.5 L332.2,107.2 L332.7,107.0" fill="none" stroke="#ea0a14" stroke-width="3.8" stroke-linecap="round" stroke-linejoin="round"/>
<path d="M276.4,175.7 L276.4,175.4 L276.5,175.0 L276.5,174.7 L276.6,174.4 L276.6,174.1 L276.7,173.7 L276.7,173.4 L276.8,173.1 L276.8,172.8 L276.9,172.5 L277.0,172.2 L277.1,172.0 L277.1,171.7 L277.2,171.5 L277.3,171.2 L277.4,171.0 L277.5,170.7 L277.6,170.5 L277.8,170.3 L277.9,170.0 L278.0,169.7 L278.2,169.5 L278.4,169.2 L278.5,168.9 L278.7,168.6 L278.9,168.3 L279.1,168.1 L279.3,167.8 L279.5,167.5 L279.7,167.3 L279.9,167.1 L280.1,166.9 L280.4,166.6 L280.6,166.4 L280.8,166.2 L281.1,166.1 L281.3,165.9 L281.6,165.7 L281.8,165.5 L282.1,165.4 L282.4,165.3 L282.7,165.1 L283.0,165.0 L283.3,164.9 L283.6,164.8 L283.9,164.7 L284.2,164.6 L284.5,164.5 L284.9,164.5 L285.2,164.4 L285.5,164.3 L285.8,164.3 L286.2,164.3 L286.5,164.3 L286.8,164.2 L287.2,164.2 L287.5,164.2 L287.9,164.2 L288.2,164.3 L288.6,164.3 L289.0,164.3 L289.4,164.4 L289.8,164.5 L290.2,164.5 L290.6,164.6 L291.1,164.7 L291.5,164.8 L291.9,164.9 L292.4,165.0 L292.8,165.1 L293.2,165.2 L293.6,165.3 L294.1,165.4 L294.5,165.5 L294.9,165.7 L295.3,165.8 L295.8,165.9 L296.2,166.1 L296.6,166.2 L297.1,166.4 L297.6,166.6 L298.0,166.8 L298.5,167.0 L299.0,167.2 L299.5,167.4 L300.0,167.6 L300.5,167.8 L301.0,168.1 L301.5,168.3 L302.0,168.5 L302.5,168.7 L303.0,168.9 L303.5,169.2 L304.0,169.4 L304.6,169.6 L305.1,169.9 L305.6,170.1 L306.1,170.3 L306.6,170.5 L307.1,170.7 L307.6,170.9 L308.1,171.0 L308.6,171.2 L309.1,171.3 L309.6,171.5 L310.0,171.6 L310.5,171.7 L311.0,171.9 L311.5,172.0 L312.0,172.1 L312.5,172.2 L313.0,172.3 L313.5,172.4 L314.0,172.6 L314.6,172.7 L315.1,172.8 L315.6,172.8 L316.1,172.9 L316.6,173.0 L317.1,173.1 L317.6,173.2 L318.1,173.2 L318.6,173.3 L319.1,173.4 L319.6,173.4 L320.0,173.5 L320.5,173.5 L321.0,173.5 L321.5,173.6 L322.0,173.6 L322.5,173.6 L323.0,173.6 L323.5,173.7 L324.0,173.7 L324.5,173.7 L325.0,173.7 L325.5,173.7 L326.0,173.7 L326.6,173.6 L327.1,173.6 L327.7,173.6 L328.2,173.5 L328.8,173.4 L329.4,173.4 L330.0,173.3 L330.5,173.2 L331.1,173.1 L331.7,173.1 L332.3,173.0 L332.9,172.9" fill="none" stroke="#ea0a14" stroke-width="3.8" stroke-linecap="round" stroke-linejoin="round"/>
<path d="M401.3,79.3 L401.4,79.8 L401.6,80.2 L401.7,80.7 L401.9,81.2 L402.0,81.7 L402.2,82.1 L402.3,82.6 L402.5,83.1 L402.6,83.5 L402.8,84.0 L403.0,84.5 L403.2,84.9 L403.4,85.4 L403.5,85.9 L403.7,86.3 L403.9,86.8 L404.2,87.3 L404.4,87.7 L404.6,88.2 L404.8,88.6 L405.0,89.0 L405.2,89.5 L405.5,89.9 L405.7,90.3 L406.0,90.7 L406.2,91.2 L406.4,91.6 L406.7,92.0 L406.9,92.4 L407.2,92.8 L407.5,93.2 L407.7,93.6 L408.0,94.1 L408.3,94.5 L408.6,94.9 L408.8,95.3 L409.1,95.7 L409.4,96.1 L409.7,96.4 L409.9,96.8 L410.1,97.1 L410.4,97.4 L410.6,97.7 L410.8,98.0 L411.0,98.3 L411.2,98.6 L411.4,98.8 L411.6,99.1 L411.8,99.3 L412.0,99.6 L412.2,99.9 L412.4,100.1 L412.6,100.4 L412.7,100.7 L412.9,101.0 L413.1,101.2 L413.3,101.5 L413.5,101.7 L413.7,101.9 L414.0,102.0 L407.0,113.8 L406.6,113.7 L406.3,113.7 L405.9,113.6 L405.6,113.4 L405.3,113.3 L404.9,113.1 L404.6,112.9 L404.3,112.7 L404.0,112.5 L403.7,112.3 L403.4,112.0 L403.1,111.8 L402.8,111.5 L402.6,111.1 L402.3,110.8 L402.0,110.4 L401.8,110.1 L401.5,109.7 L401.3,109.4 L401.0,109.0 L400.8,108.6 L400.5,108.3 L400.3,107.9 L400.1,107.5 L399.8,107.2 L399.6,106.8 L399.4,106.4 L399.1,106.0 L398.9,105.5 L398.6,105.1 L398.3,104.6 L398.0,104.2 L397.7,103.7 L397.3,103.2 L397.0,102.6 L396.6,102.1 L396.3,101.6 L395.9,101.0 L395.6,100.5 L395.3,100.0 L395.0,99.5 L394.7,99.0 L394.4,98.4 L394.1,97.9 L393.8,97.4 L393.5,96.9 L393.2,96.3 L392.9,95.8 L392.7,95.3 L392.4,94.8 L392.2,94.3 L391.9,93.8 L391.7,93.3 L391.5,92.9 L391.3,92.4 L391.1,91.9 L390.9,91.4 L390.7,91.0 L390.5,90.5 L390.3,90.0 L390.1,89.5 L389.9,89.0 L389.8,88.5 L389.6,88.0 L389.5,87.5 L389.3,87.0 L389.2,86.4 L389.0,85.9 L388.9,85.4 L388.7,84.9Z" fill="#f0f0f0"/>
<path d="M407.7,194.4 L407.7,194.0 L407.8,193.6 L407.8,193.2 L407.8,192.8 L407.8,192.4 L407.9,192.0 L407.9,191.6 L407.9,191.2 L408.0,190.9 L408.0,190.5 L408.0,190.1 L408.1,189.8 L408.2,189.4 L408.2,189.1 L408.3,188.7 L408.3,188.4 L408.4,188.1 L408.5,187.7 L408.6,187.4 L408.7,187.1 L408.8,186.8 L408.9,186.5 L409.1,186.2 L409.2,185.9 L409.4,185.6 L409.5,185.4 L409.7,185.1 L409.9,184.8 L410.1,184.6 L410.3,184.3 L410.5,184.0 L410.7,183.8 L411.0,183.6 L411.2,183.3 L411.5,183.1 L411.8,182.8 L412.1,182.6 L412.3,182.4 L412.6,182.2 L412.9,182.0 L407.5,173.4 L407.1,173.6 L406.7,173.9 L406.3,174.2 L406.0,174.5 L405.6,174.8 L405.2,175.1 L404.9,175.5 L404.5,175.8 L404.2,176.2 L403.8,176.6 L403.5,177.0 L403.2,177.4 L402.8,177.8 L402.5,178.2 L402.2,178.6 L401.9,179.0 L401.6,179.4 L401.3,179.9 L401.0,180.3 L400.7,180.8 L400.5,181.2 L400.2,181.7 L399.9,182.1 L399.7,182.6 L399.4,183.0 L399.1,183.4 L398.9,183.9 L398.6,184.3 L398.4,184.8 L398.1,185.2 L397.9,185.7 L397.7,186.1 L397.4,186.6 L397.2,187.0 L397.0,187.5 L396.8,188.0 L396.6,188.4 L396.4,188.9 L396.3,189.4 L396.1,189.9 L395.9,190.4 L395.8,190.9 L395.6,191.3 L395.5,191.8 L395.3,192.3Z" fill="#f0f0f0"/>
<path d="M414.0,102.0 L414.3,102.1 L414.6,102.2 L414.9,102.2 L415.3,102.2 L415.6,102.2 L416.0,102.2 L416.4,102.1 L416.8,102.1 L417.1,102.1 L417.5,102.0 L417.9,101.9 L418.2,101.9 L418.5,101.8 L418.9,101.8 L419.2,101.7 L419.6,101.6 L420.0,101.5 L420.4,101.3 L420.8,101.2 L421.3,101.0 L421.8,100.8 L422.4,100.6 L423.0,100.3 L423.6,100.0 L424.3,99.7 L424.9,99.4 L425.6,99.1 L426.2,98.9 L426.9,98.6 L427.5,98.3 L428.1,98.0 L428.7,97.8 L429.3,97.5 L429.9,97.3 L430.5,97.0 L431.1,96.8 L431.8,96.5 L432.4,96.3 L433.0,96.0 L433.7,95.8 L434.4,95.6 L435.1,95.4 L435.8,95.1 L436.6,94.9 L437.3,94.7 L438.0,94.5 L438.8,94.3 L439.5,94.2 L440.3,94.0 L441.0,93.8 L441.7,93.6 L442.4,93.5 L443.1,93.3 L443.8,93.2 L444.5,93.0 L445.2,92.9 L445.9,92.7 L446.6,92.6 L447.3,92.4 L448.1,92.3 L448.9,92.2 L449.7,92.0 L450.5,91.9 L451.4,91.7 L452.2,91.6 L453.1,91.5 L454.0,91.3 L454.8,91.2 L455.7,91.1 L456.5,91.0 L457.3,90.9 L458.2,90.8 L459.1,90.7 L460.0,90.6 L460.9,90.5 L461.7,90.4 L462.5,90.4 L463.3,90.3 L464.0,90.2 L464.6,90.2 L465.1,90.2 L465.6,90.1 L464.6,95.2 L463.8,95.3 L463.0,95.4 L462.2,95.5 L461.4,95.6 L460.6,95.7 L459.8,95.7 L459.0,95.8 L458.1,96.0 L457.3,96.1 L456.5,96.2 L455.7,96.3 L454.8,96.5 L454.0,96.6 L453.1,96.8 L452.2,97.0 L451.4,97.1 L450.5,97.3 L449.7,97.5 L448.9,97.7 L448.1,97.9 L447.3,98.1 L446.6,98.3 L445.9,98.6 L445.2,98.8 L444.5,99.0 L443.8,99.3 L443.1,99.5 L442.4,99.8 L441.7,100.0 L441.0,100.3 L440.3,100.6 L439.5,100.8 L438.8,101.1 L438.0,101.4 L437.3,101.6 L436.6,101.9 L435.8,102.2 L435.1,102.5 L434.4,102.7 L433.7,103.0 L433.0,103.3 L432.4,103.5 L431.8,103.8 L431.1,104.0 L430.5,104.2 L429.9,104.5 L429.3,104.7 L428.7,105.0 L428.1,105.2 L427.5,105.5 L426.9,105.8 L426.2,106.0 L425.6,106.3 L425.0,106.6 L424.3,106.8 L423.7,107.1 L423.1,107.4 L422.5,107.7 L421.9,107.9 L421.3,108.2 L420.7,108.5 L420.2,108.7 L419.6,109.0 L419.1,109.3 L418.6,109.5 L418.1,109.8 L417.5,110.0 L417.0,110.3 L416.5,110.5 L416.0,110.8 L415.5,111.1 L415.0,111.3 L414.4,111.6 L413.9,111.9 L413.4,112.2 L412.9,112.4 L412.4,112.7 L411.9,112.9 L411.5,113.1 L411.0,113.3 L410.6,113.4 L410.1,113.6 L409.7,113.7 L409.3,113.7 L408.9,113.8 L408.5,113.8 L408.1,113.9 L407.7,113.9 L407.4,113.8 L407.0,113.8Z" fill="#a26b39"/>
<path d="M412.9,182.0 L413.2,181.8 L413.5,181.6 L413.8,181.4 L414.1,181.3 L414.4,181.1 L414.7,180.9 L415.0,180.8 L415.3,180.6 L415.6,180.5 L416.0,180.4 L416.4,180.3 L416.7,180.2 L417.1,180.1 L417.5,180.1 L417.9,180.0 L418.4,180.0 L418.8,179.9 L419.2,179.9 L419.7,179.9 L420.1,179.9 L420.6,179.9 L421.0,179.9 L421.5,179.9 L422.0,179.9 L422.5,180.0 L423.0,180.0 L423.5,180.1 L424.0,180.1 L424.5,180.2 L425.0,180.3 L425.5,180.4 L426.0,180.5 L426.6,180.7 L427.1,180.9 L427.6,181.0 L428.2,181.2 L428.7,181.4 L429.3,181.6 L429.8,181.8 L430.4,182.0 L431.0,182.2 L431.6,182.4 L432.2,182.6 L432.8,182.8 L433.4,183.0 L434.0,183.3 L434.6,183.5 L435.3,183.7 L435.9,184.0 L436.5,184.2 L437.1,184.4 L437.7,184.7 L438.4,184.9 L439.0,185.2 L439.6,185.5 L440.3,185.7 L440.9,186.0 L441.5,186.2 L442.2,186.5 L442.8,186.7 L443.4,186.9 L444.0,187.1 L444.7,187.3 L445.3,187.5 L445.9,187.7 L446.5,187.9 L447.1,188.1 L447.8,188.2 L448.4,188.4 L449.0,188.6 L449.6,188.8 L450.2,189.0 L450.9,189.1 L451.5,189.3 L452.1,189.5 L452.7,189.6 L453.3,189.8 L454.0,189.9 L454.6,190.1 L455.2,190.2 L455.8,190.3 L456.5,190.4 L457.1,190.5 L457.7,190.6 L458.4,190.7 L459.0,190.8 L459.6,190.9 L460.3,191.0 L460.9,191.0 L461.5,191.1 L462.1,191.2 L462.7,191.2 L463.3,191.2 L463.9,191.3 L464.5,191.3 L465.1,191.3 L465.7,191.3 L466.3,191.3 L466.9,191.3 L467.5,191.3 L468.1,191.3 L468.7,191.2 L469.3,191.2 L469.9,191.1 L470.5,191.0 L471.1,191.0 L471.7,190.9 L472.3,190.8 L472.9,190.7 L473.5,190.6 L474.1,190.5 L474.8,190.4 L475.4,190.2 L476.0,190.1 L476.7,190.0 L477.3,189.8 L478.0,189.7 L478.6,189.5 L479.3,189.4 L479.9,189.2 L480.6,189.0 L481.2,188.9 L481.9,188.7 L482.6,188.5 L483.2,188.4 L483.9,188.2 L484.6,188.0 L485.2,187.8 L485.9,187.6 L486.5,187.4 L487.1,187.2 L487.7,187.0 L488.4,186.7 L489.0,186.5 L489.6,186.3 L490.2,186.1 L490.7,185.8 L491.3,185.6 L491.8,185.3 L492.3,185.1 L492.8,184.9 L493.2,184.6 L493.6,184.4 L494.0,184.2 L494.4,183.9 L494.8,183.7 L495.1,183.5 L495.5,183.2 L495.8,183.0 L496.2,182.7 L496.6,182.4 L496.9,182.2 L497.3,181.9 L497.6,181.6 L491.3,173.7 L491.1,173.9 L490.8,174.2 L490.6,174.4 L490.4,174.6 L490.2,174.9 L490.0,175.1 L489.7,175.3 L489.5,175.6 L489.3,175.8 L489.0,176.0 L488.7,176.2 L488.5,176.4 L488.2,176.6 L488.0,176.8 L487.7,176.9 L487.4,177.1 L487.1,177.3 L486.8,177.5 L486.5,177.7 L486.1,177.9 L485.7,178.1 L485.3,178.4 L484.8,178.6 L484.4,178.9 L483.9,179.1 L483.4,179.4 L482.9,179.6 L482.3,179.9 L481.8,180.1 L481.3,180.3 L480.8,180.5 L480.3,180.7 L479.7,180.9 L479.2,181.1 L478.6,181.2 L478.1,181.4 L477.5,181.6 L476.9,181.7 L476.4,181.9 L475.8,182.0 L475.2,182.1 L474.6,182.3 L474.0,182.4 L473.4,182.5 L472.8,182.6 L472.2,182.7 L471.6,182.8 L470.9,182.9 L470.3,182.9 L469.7,183.0 L469.1,183.0 L468.4,183.1 L467.8,183.1 L467.2,183.1 L466.6,183.1 L465.9,183.1 L465.3,183.1 L464.7,183.1 L464.0,183.1 L463.4,183.0 L462.8,182.9 L462.2,182.8 L461.6,182.8 L461.0,182.6 L460.4,182.5 L459.7,182.4 L459.1,182.2 L458.5,182.1 L457.9,182.0 L457.3,181.8 L456.7,181.6 L456.0,181.5 L455.4,181.3 L454.8,181.1 L454.1,180.9 L453.5,180.7 L452.9,180.5 L452.2,180.3 L451.6,180.1 L451.0,179.9 L450.4,179.7 L449.8,179.4 L449.2,179.2 L448.6,178.9 L448.0,178.7 L447.4,178.4 L446.8,178.2 L446.2,177.9 L445.6,177.7 L445.0,177.4 L444.4,177.1 L443.8,176.9 L443.1,176.6 L442.5,176.4 L441.9,176.1 L441.2,175.8 L440.6,175.6 L440.0,175.3 L439.3,175.1 L438.7,174.8 L438.1,174.5 L437.5,174.3 L436.8,174.0 L436.2,173.8 L435.6,173.6 L435.0,173.3 L434.4,173.1 L433.7,172.8 L433.1,172.6 L432.5,172.4 L431.9,172.2 L431.3,172.0 L430.6,171.8 L430.0,171.6 L429.4,171.4 L428.8,171.2 L428.2,171.0 L427.5,170.9 L426.9,170.7 L426.3,170.6 L425.7,170.5 L425.0,170.4 L424.4,170.3 L423.8,170.2 L423.1,170.2 L422.5,170.1 L421.9,170.1 L421.2,170.0 L420.6,170.0 L420.0,170.0 L419.4,170.0 L418.7,170.0 L418.1,170.1 L417.5,170.1 L416.8,170.2 L416.2,170.2 L415.6,170.3 L415.0,170.4 L414.4,170.5 L413.9,170.6 L413.4,170.7 L412.9,170.8 L412.4,171.0 L412.0,171.1 L411.6,171.3 L411.1,171.4 L410.7,171.6 L410.3,171.8 L409.9,172.0 L409.5,172.2 L409.1,172.4 L408.7,172.6 L408.3,172.9 L407.9,173.1 L407.5,173.4Z" fill="#a26b39"/>
<path d="M465.6,90.1 L466.0,90.1 L466.3,90.1 L466.6,90.1 L466.9,90.1 L467.2,90.1 L467.4,90.1 L467.7,90.1 L468.0,90.1 L468.3,90.1 L468.6,90.1 L468.9,90.2 L469.2,90.2 L469.4,90.2 L469.7,90.3 L470.0,90.3 L470.2,90.4 L470.5,90.5 L470.8,90.6 L471.1,90.7 L471.4,90.9 L471.7,91.0 L472.0,91.2 L472.3,91.3 L472.6,91.5 L473.0,91.7 L473.2,91.9 L473.5,92.1 L473.8,92.3 L474.1,92.5 L474.3,92.7 L474.6,93.0 L474.8,93.2 L475.0,93.5 L475.2,93.7 L475.4,94.0 L475.6,94.3 L475.8,94.5 L476.0,94.8 L476.2,95.1 L476.3,95.4 L476.5,95.7 L476.6,96.0 L476.8,96.3 L476.9,96.6 L477.0,96.9 L477.1,97.2 L477.1,97.5 L477.2,97.8 L477.2,98.1 L477.3,98.4 L477.3,98.7 L477.3,99.0 L477.3,99.3 L477.2,99.6 L477.2,100.0 L477.1,100.3 L477.1,100.6 L477.0,101.0 L476.9,101.4 L476.8,101.8 L476.7,102.2 L476.5,102.7 L476.4,103.1 L464.6,95.2Z" fill="#1473c4"/>
<path d="M495.5,163.9 L495.8,164.2 L496.2,164.4 L496.5,164.7 L496.8,165.0 L497.2,165.3 L497.5,165.5 L497.8,165.8 L498.1,166.1 L498.4,166.3 L498.7,166.6 L499.0,166.9 L499.3,167.2 L499.6,167.5 L499.9,167.7 L500.1,168.0 L500.4,168.3 L500.6,168.6 L500.8,168.9 L501.0,169.2 L501.2,169.5 L501.4,169.8 L501.6,170.1 L501.8,170.4 L501.9,170.7 L502.1,171.0 L502.2,171.3 L502.3,171.6 L502.4,171.9 L502.5,172.2 L502.5,172.6 L502.6,172.9 L502.6,173.2 L502.6,173.5 L502.6,173.9 L502.6,174.2 L502.6,174.5 L502.6,174.8 L502.6,175.1 L502.5,175.4 L502.4,175.7 L502.3,175.9 L502.2,176.2 L502.1,176.5 L502.0,176.7 L501.9,177.0 L501.8,177.2 L501.6,177.5 L501.4,177.8 L501.3,178.0 L501.1,178.2 L500.9,178.5 L500.7,178.7 L500.5,178.9 L500.3,179.2 L500.0,179.4 L499.8,179.6 L499.5,179.9 L499.2,180.2 L498.9,180.4 L498.6,180.7 L498.3,181.0 L498.0,181.3 L497.6,181.6 L491.3,173.7Z" fill="#1473c4"/>
<path d="M476.4,103.1 L476.2,103.6 L476.1,104.0 L475.9,104.4 L475.7,104.9 L475.5,105.3 L475.3,105.7 L475.1,106.1 L474.9,106.5 L474.6,106.9 L474.4,107.3 L474.2,107.7 L473.9,108.0 L473.6,108.4 L473.3,108.8 L472.9,109.2 L472.5,109.6 L472.1,110.0 L471.6,110.4 L471.1,110.7 L470.6,111.1 L470.1,111.5 L469.6,111.9 L469.1,112.3 L468.5,112.6 L468.0,113.0 L467.5,113.4 L466.9,113.7 L466.4,114.0 L465.8,114.4 L465.3,114.7 L464.7,115.0 L464.2,115.4 L463.6,115.7 L463.1,116.0 L462.5,116.4 L461.9,116.8 L461.4,117.1 L460.8,117.5 L460.3,117.9 L459.7,118.3 L459.1,118.7 L458.6,119.1 L458.0,119.5 L457.5,119.9 L457.0,120.3 L456.5,120.7 L456.0,121.1 L455.5,121.6 L455.0,122.0 L454.6,122.4 L454.1,122.9 L453.7,123.4 L453.2,123.8 L452.8,124.4 L452.4,124.9 L452.0,125.5 L451.6,126.1 L451.2,126.7 L450.8,127.4 L450.4,128.0 L450.1,128.7 L449.7,129.4 L449.4,130.1 L449.1,130.8 L448.8,131.5 L448.5,132.2 L448.3,133.0 L448.1,133.7 L447.8,134.5 L447.6,135.3 L447.5,136.1 L447.3,136.8 L447.2,137.6 L447.1,138.3 L447.0,139.0 L447.0,139.7 L446.9,140.3 L446.9,140.9 L447.0,141.5 L447.0,142.1 L447.1,142.7 L447.2,143.3 L447.3,143.9 L447.5,144.4 L447.6,145.0 L447.8,145.6 L447.9,146.1 L448.1,146.7 L448.3,147.2 L448.6,147.7 L448.8,148.2 L449.1,148.8 L449.4,149.2 L449.7,149.7 L450.0,150.2 L450.4,150.7 L450.7,151.1 L451.2,151.5 L451.6,152.0 L452.1,152.4 L452.5,152.8 L453.0,153.2 L453.5,153.5 L454.0,153.9 L454.5,154.2 L455.0,154.5 L455.5,154.8 L456.0,155.1 L456.6,155.3 L457.1,155.6 L457.6,155.8 L458.2,156.0 L458.8,156.2 L459.4,156.4 L460.0,156.6 L460.6,156.8 L461.3,156.9 L461.9,157.1 L462.6,157.2 L463.3,157.3 L464.0,157.4 L464.8,157.5 L465.5,157.6 L466.2,157.7 L467.0,157.8 L467.8,157.9 L468.6,158.0 L469.5,158.1 L470.4,158.1 L471.2,158.2 L472.1,158.3 L473.0,158.3 L473.8,158.4 L474.6,158.4 L475.3,158.5 L476.0,158.5 L476.6,158.6 L477.2,158.6 L477.8,158.7 L478.4,158.7 L478.9,158.7 L479.4,158.8 L479.9,158.8 L480.5,158.8 L481.0,158.9 L481.5,159.0 L482.1,159.0 L482.6,159.1 L483.1,159.2 L483.6,159.3 L484.1,159.4 L484.6,159.5 L485.1,159.6 L485.6,159.7 L486.1,159.8 L486.6,159.9 L487.0,160.0 L487.5,160.2 L487.9,160.3 L488.4,160.4 L488.8,160.6 L489.2,160.7 L489.7,160.9 L490.1,161.0 L490.5,161.2 L490.9,161.4 L491.3,161.6 L491.7,161.7 L492.1,161.9 L492.5,162.1 L492.9,162.3 L493.3,162.5 L493.7,162.8 L494.0,163.0 L494.4,163.2 L494.8,163.4 L495.1,163.7 L495.5,163.9 L491.3,173.7 L491.1,173.9 L490.8,174.2 L490.6,174.4 L490.4,174.6 L490.2,174.9 L490.0,175.1 L489.7,175.3 L489.5,175.6 L489.3,175.8 L489.0,176.0 L488.7,176.2 L488.5,176.4 L488.2,176.6 L488.0,176.8 L487.7,176.9 L487.4,177.1 L487.1,177.3 L486.8,177.5 L486.5,177.7 L486.1,177.9 L485.7,178.1 L485.3,178.4 L484.8,178.6 L484.4,178.9 L483.9,179.1 L483.4,179.4 L482.9,179.6 L482.3,179.9 L481.8,180.1 L481.3,180.3 L480.8,180.5 L480.3,180.7 L479.7,180.9 L479.2,181.1 L478.6,181.2 L478.1,181.4 L477.5,181.6 L476.9,181.7 L476.4,181.9 L475.8,182.0 L475.2,182.1 L474.6,182.3 L474.0,182.4 L473.4,182.5 L472.8,182.6 L472.2,182.7 L471.6,182.8 L470.9,182.9 L470.3,182.9 L469.7,183.0 L469.1,183.0 L468.4,183.1 L467.8,183.1 L467.2,183.1 L466.6,183.1 L465.9,183.1 L465.3,183.1 L464.7,183.1 L464.0,183.1 L463.4,183.0 L462.8,182.9 L462.2,182.8 L461.6,182.8 L461.0,182.6 L460.4,182.5 L459.7,182.4 L459.1,182.2 L458.5,182.1 L457.9,182.0 L457.3,181.8 L456.7,181.6 L456.0,181.5 L455.4,181.3 L454.8,181.1 L454.1,180.9 L453.5,180.7 L452.9,180.5 L452.2,180.3 L451.6,180.1 L451.0,179.9 L450.4,179.7 L449.8,179.4 L449.2,179.2 L448.6,178.9 L448.0,178.7 L447.4,178.4 L446.8,178.2 L446.2,177.9 L445.6,177.7 L445.0,177.4 L444.4,177.1 L443.8,176.9 L443.1,176.6 L442.5,176.4 L441.9,176.1 L441.2,175.8 L440.6,175.6 L440.0,175.3 L439.3,175.1 L438.7,174.8 L438.1,174.5 L437.5,174.3 L436.8,174.0 L436.2,173.8 L435.6,173.6 L435.0,173.3 L434.4,173.1 L434.5,173.5 L433.9,172.7 L433.3,171.9 L432.7,171.1 L432.1,170.3 L431.4,169.5 L430.8,168.7 L430.2,167.9 L429.6,167.1 L429.1,166.3 L428.5,165.5 L428.0,164.7 L427.4,164.0 L426.9,163.2 L426.4,162.5 L425.9,161.7 L425.4,161.0 L424.9,160.2 L424.4,159.3 L424.0,158.4 L423.5,157.5 L423.0,156.5 L422.6,155.4 L422.1,154.2 L421.6,153.0 L421.2,151.8 L420.8,150.6 L420.4,149.4 L420.0,148.2 L419.7,147.1 L419.5,146.0 L419.3,145.0 L419.2,144.0 L419.1,143.1 L419.0,142.2 L419.0,141.3 L419.0,140.5 L419.1,139.6 L419.1,138.8 L419.2,137.9 L419.3,137.0 L419.4,136.1 L419.5,135.2 L419.7,134.3 L419.9,133.5 L420.1,132.6 L420.3,131.7 L420.5,130.8 L420.8,129.9 L421.0,129.0 L421.3,128.0 L421.6,127.0 L421.8,125.9 L422.1,124.9 L422.4,123.8 L422.7,122.7 L423.0,121.6 L423.4,120.5 L423.7,119.4 L424.0,118.4 L424.4,117.5 L424.8,116.6 L425.1,115.8 L425.5,115.0 L425.9,114.2 L426.3,113.5 L426.7,112.7 L427.2,112.0 L427.6,111.4 L428.0,110.7 L428.5,110.0 L429.0,109.3 L429.5,108.7 L430.0,108.1 L430.5,107.5 L431.0,106.9 L431.6,106.3 L432.1,105.8 L432.6,105.2 L433.2,104.6 L433.7,104.0 L433.7,103.0 L434.4,102.7 L435.1,102.5 L435.8,102.2 L436.6,101.9 L437.3,101.6 L438.0,101.4 L438.8,101.1 L439.5,100.8 L440.3,100.6 L441.0,100.3 L441.7,100.0 L442.4,99.8 L443.1,99.5 L443.8,99.3 L444.5,99.0 L445.2,98.8 L445.9,98.6 L446.6,98.3 L447.3,98.1 L448.1,97.9 L448.9,97.7 L449.7,97.5 L450.5,97.3 L451.4,97.1 L452.2,97.0 L453.1,96.8 L454.0,96.6 L454.8,96.5 L455.7,96.3 L456.5,96.2 L457.3,96.1 L458.1,96.0 L459.0,95.8 L459.8,95.7 L460.6,95.7 L461.4,95.6 L462.2,95.5 L463.0,95.4 L463.8,95.3 L464.6,95.2Z" fill="#0cf806"/>
<path d="M401.3,79.3 L401.4,79.8 L401.6,80.2 L401.7,80.7 L401.9,81.2 L402.0,81.7 L402.2,82.1 L402.3,82.6 L402.5,83.1 L402.6,83.5 L402.8,84.0 L403.0,84.5 L403.2,84.9 L403.4,85.4 L403.5,85.9 L403.7,86.3 L403.9,86.8 L404.2,87.3 L404.4,87.7 L404.6,88.2 L404.8,88.6 L405.0,89.0 L405.2,89.5 L405.5,89.9 L405.7,90.3 L406.0,90.7 L406.2,91.2 L406.4,91.6 L406.7,92.0 L406.9,92.4 L407.2,92.8 L407.5,93.2 L407.7,93.6 L408.0,94.1 L408.3,94.5 L408.6,94.9 L408.8,95.3 L409.1,95.7 L409.4,96.1 L409.7,96.4 L409.9,96.8 L410.1,97.1 L410.4,97.4 L410.6,97.7 L410.8,98.0 L411.0,98.3 L411.2,98.6 L411.4,98.8 L411.6,99.1 L411.8,99.3 L412.0,99.6 L412.2,99.9 L412.4,100.1 L412.6,100.4 L412.7,100.7 L412.9,101.0 L413.1,101.2 L413.3,101.5 L413.5,101.7 L413.7,101.9 L414.0,102.0 L414.3,102.1 L414.6,102.2 L414.9,102.2 L415.3,102.2 L415.6,102.2 L416.0,102.2 L416.4,102.1 L416.8,102.1 L417.1,102.1 L417.5,102.0 L417.9,101.9 L418.2,101.9 L418.5,101.8 L418.9,101.8 L419.2,101.7 L419.6,101.6 L420.0,101.5 L420.4,101.3 L420.8,101.2 L421.3,101.0 L421.8,100.8 L422.4,100.6 L423.0,100.3 L423.6,100.0 L424.3,99.7 L424.9,99.4 L425.6,99.1 L426.2,98.9 L426.9,98.6 L427.5,98.3 L428.1,98.0 L428.7,97.8 L429.3,97.5 L429.9,97.3 L430.5,97.0 L431.1,96.8 L431.8,96.5 L432.4,96.3 L433.0,96.0 L433.7,95.8 L434.4,95.6 L435.1,95.4 L435.8,95.1 L436.6,94.9 L437.3,94.7 L438.0,94.5 L438.8,94.3 L439.5,94.2 L440.3,94.0 L441.0,93.8 L441.7,93.6 L442.4,93.5 L443.1,93.3 L443.8,93.2 L444.5,93.0 L445.2,92.9 L445.9,92.7 L446.6,92.6 L447.3,92.4 L448.1,92.3 L448.9,92.2 L449.7,92.0 L450.5,91.9 L451.4,91.7 L452.2,91.6 L453.1,91.5 L454.0,91.3 L454.8,91.2 L455.7,91.1 L456.5,91.0 L457.3,90.9 L458.2,90.8 L459.1,90.7 L460.0,90.6 L460.9,90.5 L461.7,90.4 L462.5,90.4 L463.3,90.3 L464.0,90.2 L464.6,90.2 L465.1,90.2 L465.6,90.1 L466.0,90.1 L466.3,90.1 L466.6,90.1 L466.9,90.1 L467.2,90.1 L467.4,90.1 L467.7,90.1 L468.0,90.1 L468.3,90.1 L468.6,90.1 L468.9,90.2 L469.2,90.2 L469.4,90.2 L469.7,90.3 L470.0,90.3 L470.2,90.4 L470.5,90.5 L470.8,90.6 L471.1,90.7 L471.4,90.9 L471.7,91.0 L472.0,91.2 L472.3,91.3 L472.6,91.5 L473.0,91.7 L473.2,91.9 L473.5,92.1 L473.8,92.3 L474.1,92.5 L474.3,92.7 L474.6,93.0 L474.8,93.2 L475.0,93.5 L475.2,93.7 L475.4,94.0 L475.6,94.3 L475.8,94.5 L476.0,94.8 L476.2,95.1 L476.3,95.4 L476.5,95.7 L476.6,96.0 L476.8,96.3 L476.9,96.6 L477.0,96.9 L477.1,97.2 L477.1,97.5 L477.2,97.8 L477.2,98.1 L477.3,98.4 L477.3,98.7 L477.3,99.0 L477.3,99.3 L477.2,99.6 L477.2,100.0 L477.1,100.3 L477.1,100.6 L477.0,101.0 L476.9,101.4 L476.8,101.8 L476.7,102.2 L476.5,102.7 L476.4,103.1 L476.2,103.6 L476.1,104.0 L475.9,104.4 L475.7,104.9 L475.5,105.3 L475.3,105.7 L475.1,106.1 L474.9,106.5 L474.6,106.9 L474.4,107.3 L474.2,107.7 L473.9,108.0 L473.6,108.4 L473.3,108.8 L472.9,109.2 L472.5,109.6 L472.1,110.0 L471.6,110.4 L471.1,110.7 L470.6,111.1 L470.1,111.5 L469.6,111.9 L469.1,112.3 L468.5,112.6 L468.0,113.0 L467.5,113.4 L466.9,113.7 L466.4,114.0 L465.8,114.4 L465.3,114.7 L464.7,115.0 L464.2,115.4 L463.6,115.7 L463.1,116.0 L462.5,116.4 L461.9,116.8 L461.4,117.1 L460.8,117.5 L460.3,117.9 L459.7,118.3 L459.1,118.7 L458.6,119.1 L458.0,119.5 L457.5,119.9 L457.0,120.3 L456.5,120.7 L456.0,121.1 L455.5,121.6 L455.0,122.0 L454.6,122.4 L454.1,122.9 L453.7,123.4 L453.2,123.8 L452.8,124.4 L452.4,124.9 L452.0,125.5 L451.6,126.1 L451.2,126.7 L450.8,127.4 L450.4,128.0 L450.1,128.7 L449.7,129.4 L449.4,130.1 L449.1,130.8 L448.8,131.5 L448.5,132.2 L448.3,133.0 L448.1,133.7 L447.8,134.5 L447.6,135.3 L447.5,136.1 L447.3,136.8 L447.2,137.6 L447.1,138.3 L447.0,139.0 L447.0,139.7 L446.9,140.3 L446.9,140.9 L447.0,141.5 L447.0,142.1 L447.1,142.7 L447.2,143.3 L447.3,143.9 L447.5,144.4 L447.6,145.0 L447.8,145.6 L447.9,146.1 L448.1,146.7 L448.3,147.2 L448.6,147.7 L448.8,148.2 L449.1,148.8 L449.4,149.2 L449.7,149.7 L450.0,150.2 L450.4,150.7 L450.7,151.1 L451.2,151.5 L451.6,152.0 L452.1,152.4 L452.5,152.8 L453.0,153.2 L453.5,153.5 L454.0,153.9 L454.5,154.2 L455.0,154.5 L455.5,154.8 L456.0,155.1 L456.6,155.3 L457.1,155.6 L457.6,155.8 L458.2,156.0 L458.8,156.2 L459.4,156.4 L460.0,156.6 L460.6,156.8 L461.3,156.9 L461.9,157.1 L462.6,157.2 L463.3,157.3 L464.0,157.4 L464.8,157.5 L465.5,157.6 L466.2,157.7 L467.0,157.8 L467.8,157.9 L468.6,158.0 L469.5,158.1 L470.4,158.1 L471.2,158.2 L472.1,158.3 L473.0,158.3 L473.8,158.4 L474.6,158.4 L475.3,158.5 L476.0,158.5 L476.6,158.6 L477.2,158.6 L477.8,158.7 L478.4,158.7 L478.9,158.7 L479.4,158.8 L479.9,158.8 L480.5,158.8 L481.0,158.9 L481.5,159.0 L482.1,159.0 L482.6,159.1 L483.1,159.2 L483.6,159.3 L484.1,159.4 L484.6,159.5 L485.1,159.6 L485.6,159.7 L486.1,159.8 L486.6,159.9 L487.0,160.0 L487.5,160.2 L487.9,160.3 L488.4,160.4 L488.8,160.6 L489.2,160.7 L489.7,160.9 L490.1,161.0 L490.5,161.2 L490.9,161.4 L491.3,161.6 L491.7,161.7 L492.1,161.9 L492.5,162.1 L492.9,162.3 L493.3,162.5 L493.7,162.8 L494.0,163.0 L494.4,163.2 L494.8,163.4 L495.1,163.7 L495.5,163.9 L495.8,164.2 L496.2,164.4 L496.5,164.7 L496.8,165.0 L497.2,165.3 L497.5,165.5 L497.8,165.8 L498.1,166.1 L498.4,166.3 L498.7,166.6 L499.0,166.9 L499.3,167.2 L499.6,167.5 L499.9,167.7 L500.1,168.0 L500.4,168.3 L500.6,168.6 L500.8,168.9 L501.0,169.2 L501.2,169.5 L501.4,169.8 L501.6,170.1 L501.8,170.4 L501.9,170.7 L502.1,171.0 L502.2,171.3 L502.3,171.6 L502.4,171.9 L502.5,172.2 L502.5,172.6 L502.6,172.9 L502.6,173.2 L502.6,173.5 L502.6,173.9 L502.6,174.2 L502.6,174.5 L502.6,174.8 L502.6,175.1 L502.5,175.4 L502.4,175.7 L502.3,175.9 L502.2,176.2 L502.1,176.5 L502.0,176.7 L501.9,177.0 L501.8,177.2 L501.6,177.5 L501.4,177.8 L501.3,178.0 L501.1,178.2 L500.9,178.5 L500.7,178.7 L500.5,178.9 L500.3,179.2 L500.0,179.4 L499.8,179.6 L499.5,179.9 L499.2,180.2 L498.9,180.4 L498.6,180.7 L498.3,181.0 L498.0,181.3 L497.6,181.6 L497.3,181.9 L496.9,182.2 L496.6,182.4 L496.2,182.7 L495.8,183.0 L495.5,183.2 L495.1,183.5 L494.8,183.7 L494.4,183.9 L494.0,184.2 L493.6,184.4 L493.2,184.6 L492.8,184.9 L492.3,185.1 L491.8,185.3 L491.3,185.6 L490.7,185.8 L490.2,186.1 L489.6,186.3 L489.0,186.5 L488.4,186.7 L487.7,187.0 L487.1,187.2 L486.5,187.4 L485.9,187.6 L485.2,187.8 L484.6,188.0 L483.9,188.2 L483.2,188.4 L482.6,188.5 L481.9,188.7 L481.2,188.9 L480.6,189.0 L479.9,189.2 L479.3,189.4 L478.6,189.5 L478.0,189.7 L477.3,189.8 L476.7,190.0 L476.0,190.1 L475.4,190.2 L474.8,190.4 L474.1,190.5 L473.5,190.6 L472.9,190.7 L472.3,190.8 L471.7,190.9 L471.1,191.0 L470.5,191.0 L469.9,191.1 L469.3,191.2 L468.7,191.2 L468.1,191.3 L467.5,191.3 L466.9,191.3 L466.3,191.3 L465.7,191.3 L465.1,191.3 L464.5,191.3 L463.9,191.3 L463.3,191.2 L462.7,191.2 L462.1,191.2 L461.5,191.1 L460.9,191.0 L460.3,191.0 L459.6,190.9 L459.0,190.8 L458.4,190.7 L457.7,190.6 L457.1,190.5 L456.5,190.4 L455.8,190.3 L455.2,190.2 L454.6,190.1 L454.0,189.9 L453.3,189.8 L452.7,189.6 L452.1,189.5 L451.5,189.3 L450.9,189.1 L450.2,189.0 L449.6,188.8 L449.0,188.6 L448.4,188.4 L447.8,188.2 L447.1,188.1 L446.5,187.9 L445.9,187.7 L445.3,187.5 L444.7,187.3 L444.0,187.1 L443.4,186.9 L442.8,186.7 L442.2,186.5 L441.5,186.2 L440.9,186.0 L440.3,185.7 L439.6,185.5 L439.0,185.2 L438.4,184.9 L437.7,184.7 L437.1,184.4 L436.5,184.2 L435.9,184.0 L435.3,183.7 L434.6,183.5 L434.0,183.3 L433.4,183.0 L432.8,182.8 L432.2,182.6 L431.6,182.4 L431.0,182.2 L430.4,182.0 L429.8,181.8 L429.3,181.6 L428.7,181.4 L428.2,181.2 L427.6,181.0 L427.1,180.9 L426.6,180.7 L426.0,180.5 L425.5,180.4 L425.0,180.3 L424.5,180.2 L424.0,180.1 L423.5,180.1 L423.0,180.0 L422.5,180.0 L422.0,179.9 L421.5,179.9 L421.0,179.9 L420.6,179.9 L420.1,179.9 L419.7,179.9 L419.2,179.9 L418.8,179.9 L418.4,180.0 L417.9,180.0 L417.5,180.1 L417.1,180.1 L416.7,180.2 L416.4,180.3 L416.0,180.4 L415.6,180.5 L415.3,180.6 L415.0,180.8 L414.7,180.9 L414.4,181.1 L414.1,181.3 L413.8,181.4 L413.5,181.6 L413.2,181.8 L412.9,182.0 L412.6,182.2 L412.3,182.4 L412.1,182.6 L411.8,182.8 L411.5,183.1 L411.2,183.3 L411.0,183.6 L410.7,183.8 L410.5,184.0 L410.3,184.3 L410.1,184.6 L409.9,184.8 L409.7,185.1 L409.5,185.4 L409.4,185.6 L409.2,185.9 L409.1,186.2 L408.9,186.5 L408.8,186.8 L408.7,187.1 L408.6,187.4 L408.5,187.7 L408.4,188.1 L408.3,188.4 L408.3,188.7 L408.2,189.1 L408.2,189.4 L408.1,189.8 L408.0,190.1 L408.0,190.5 L408.0,190.9 L407.9,191.2 L407.9,191.6 L407.9,192.0 L407.8,192.4 L407.8,192.8 L407.8,193.2 L407.8,193.6 L407.7,194.0 L407.7,194.4" fill="none" stroke="#000" stroke-width="2.1" stroke-linecap="round" stroke-linejoin="round"/>
<path d="M388.7,84.9 L388.9,85.4 L389.0,85.9 L389.2,86.4 L389.3,87.0 L389.5,87.5 L389.6,88.0 L389.8,88.5 L389.9,89.0 L390.1,89.5 L390.3,90.0 L390.5,90.5 L390.7,91.0 L390.9,91.4 L391.1,91.9 L391.3,92.4 L391.5,92.9 L391.7,93.3 L391.9,93.8 L392.2,94.3 L392.4,94.8 L392.7,95.3 L392.9,95.8 L393.2,96.3 L393.5,96.9 L393.8,97.4 L394.1,97.9 L394.4,98.4 L394.7,99.0 L395.0,99.5 L395.3,100.0 L395.6,100.5 L395.9,101.0 L396.3,101.6 L396.6,102.1 L397.0,102.6 L397.3,103.2 L397.7,103.7 L398.0,104.2 L398.3,104.6 L398.6,105.1 L398.9,105.5 L399.1,106.0 L399.4,106.4 L399.6,106.8 L399.8,107.2 L400.1,107.5 L400.3,107.9 L400.5,108.3 L400.8,108.6 L401.0,109.0 L401.3,109.4 L401.5,109.7 L401.8,110.1 L402.0,110.4 L402.3,110.8 L402.6,111.1 L402.8,111.5 L403.1,111.8 L403.4,112.0 L403.7,112.3 L404.0,112.5 L404.3,112.7 L404.6,112.9 L404.9,113.1 L405.3,113.3 L405.6,113.4 L405.9,113.6 L406.3,113.7 L406.6,113.7 L407.0,113.8 L407.4,113.8 L407.7,113.9 L408.1,113.9 L408.5,113.8 L408.9,113.8 L409.3,113.7 L409.7,113.7 L410.1,113.6 L410.6,113.4 L411.0,113.3 L411.5,113.1 L411.9,112.9 L412.4,112.7 L412.9,112.4 L413.4,112.2 L413.9,111.9 L414.4,111.6 L415.0,111.3 L415.5,111.1 L416.0,110.8 L416.5,110.5 L417.0,110.3 L417.5,110.0 L418.1,109.8 L418.6,109.5 L419.1,109.3 L419.6,109.0 L420.2,108.7 L420.7,108.5 L421.3,108.2 L421.9,107.9 L422.5,107.7 L423.1,107.4 L423.7,107.1 L424.3,106.8 L425.0,106.6 L425.6,106.3 L426.2,106.0 L426.9,105.8 L427.5,105.5 L428.1,105.2 L428.7,105.0 L429.3,104.7 L429.9,104.5 L430.5,104.2 L431.1,104.0 L431.8,103.8 L432.4,103.5 L433.0,103.3 L433.7,103.0 L434.4,102.7 L435.1,102.5 L435.8,102.2 L436.6,101.9 L437.3,101.6 L438.0,101.4 L438.8,101.1 L439.5,100.8 L440.3,100.6 L441.0,100.3 L441.7,100.0 L442.4,99.8 L443.1,99.5 L443.8,99.3 L444.5,99.0 L445.2,98.8 L445.9,98.6 L446.6,98.3 L447.3,98.1 L448.1,97.9 L448.9,97.7 L449.7,97.5 L450.5,97.3 L451.4,97.1 L452.2,97.0 L453.1,96.8 L454.0,96.6 L454.8,96.5 L455.7,96.3 L456.5,96.2 L457.3,96.1 L458.1,96.0 L459.0,95.8 L459.8,95.7 L460.6,95.7 L461.4,95.6 L462.2,95.5 L463.0,95.4 L463.8,95.3 L464.6,95.2" fill="none" stroke="#ea0a14" stroke-width="3.8" stroke-linecap="round" stroke-linejoin="round"/>
<path d="M395.3,192.3 L395.5,191.8 L395.6,191.3 L395.8,190.9 L395.9,190.4 L396.1,189.9 L396.3,189.4 L396.4,188.9 L396.6,188.4 L396.8,188.0 L397.0,187.5 L397.2,187.0 L397.4,186.6 L397.7,186.1 L397.9,185.7 L398.1,185.2 L398.4,184.8 L398.6,184.3 L398.9,183.9 L399.1,183.4 L399.4,183.0 L399.7,182.6 L399.9,182.1 L400.2,181.7 L400.5,181.2 L400.7,180.8 L401.0,180.3 L401.3,179.9 L401.6,179.4 L401.9,179.0 L402.2,178.6 L402.5,178.2 L402.8,177.8 L403.2,177.4 L403.5,177.0 L403.8,176.6 L404.2,176.2 L404.5,175.8 L404.9,175.5 L405.2,175.1 L405.6,174.8 L406.0,174.5 L406.3,174.2 L406.7,173.9 L407.1,173.6 L407.5,173.4 L407.9,173.1 L408.3,172.9 L408.7,172.6 L409.1,172.4 L409.5,172.2 L409.9,172.0 L410.3,171.8 L410.7,171.6 L411.1,171.4 L411.6,171.3 L412.0,171.1 L412.4,171.0 L412.9,170.8 L413.4,170.7 L413.9,170.6 L414.4,170.5 L415.0,170.4 L415.6,170.3 L416.2,170.2 L416.8,170.2 L417.5,170.1 L418.1,170.1 L418.7,170.0 L419.4,170.0 L420.0,170.0 L420.6,170.0 L421.2,170.0 L421.9,170.1 L422.5,170.1 L423.1,170.2 L423.8,170.2 L424.4,170.3 L425.0,170.4 L425.7,170.5 L426.3,170.6 L426.9,170.7 L427.5,170.9 L428.2,171.0 L428.8,171.2 L429.4,171.4 L430.0,171.6 L430.6,171.8 L431.3,172.0 L431.9,172.2 L432.5,172.4 L433.1,172.6 L433.7,172.8 L434.4,173.1 L435.0,173.3 L435.6,173.6 L436.2,173.8 L436.8,174.0 L437.5,174.3 L438.1,174.5 L438.7,174.8 L439.3,175.1 L440.0,175.3 L440.6,175.6 L441.2,175.8 L441.9,176.1 L442.5,176.4 L443.1,176.6 L443.8,176.9 L444.4,177.1 L445.0,177.4 L445.6,177.7 L446.2,177.9 L446.8,178.2 L447.4,178.4 L448.0,178.7 L448.6,178.9 L449.2,179.2 L449.8,179.4 L450.4,179.7 L451.0,179.9 L451.6,180.1 L452.2,180.3 L452.9,180.5 L453.5,180.7 L454.1,180.9 L454.8,181.1 L455.4,181.3 L456.0,181.5 L456.7,181.6 L457.3,181.8 L457.9,182.0 L458.5,182.1 L459.1,182.2 L459.7,182.4 L460.4,182.5 L461.0,182.6 L461.6,182.8 L462.2,182.8 L462.8,182.9 L463.4,183.0 L464.0,183.1 L464.7,183.1 L465.3,183.1 L465.9,183.1 L466.6,183.1 L467.2,183.1 L467.8,183.1 L468.4,183.1 L469.1,183.0 L469.7,183.0 L470.3,182.9 L470.9,182.9 L471.6,182.8 L472.2,182.7 L472.8,182.6 L473.4,182.5 L474.0,182.4 L474.6,182.3 L475.2,182.1 L475.8,182.0 L476.4,181.9 L476.9,181.7 L477.5,181.6 L478.1,181.4 L478.6,181.2 L479.2,181.1 L479.7,180.9 L480.3,180.7 L480.8,180.5 L481.3,180.3 L481.8,180.1 L482.3,179.9 L482.9,179.6 L483.4,179.4 L483.9,179.1 L484.4,178.9 L484.8,178.6 L485.3,178.4 L485.7,178.1 L486.1,177.9 L486.5,177.7 L486.8,177.5 L487.1,177.3 L487.4,177.1 L487.7,176.9 L488.0,176.8 L488.2,176.6 L488.5,176.4 L488.7,176.2 L489.0,176.0 L489.3,175.8 L489.5,175.6 L489.7,175.3 L490.0,175.1 L490.2,174.9 L490.4,174.6 L490.6,174.4 L490.8,174.2 L491.1,173.9 L491.3,173.7" fill="none" stroke="#ea0a14" stroke-width="3.8" stroke-linecap="round" stroke-linejoin="round"/>
<path d="M132.8,141.4 L148.7,141.4 L148.7,138.6 L157.7,144.0 L148.7,149.4 L148.7,146.6 L132.8,146.6Z" fill="#000"/>
<path d="M245.5,141.4 L262.5,141.4 L262.5,138.6 L271.5,144.0 L262.5,149.4 L262.5,146.6 L245.5,146.6Z" fill="#000"/>
<path d="M361.0,141.4 L378.0,141.4 L378.0,138.6 L387.0,144.0 L378.0,149.4 L378.0,146.6 L361.0,146.6Z" fill="#000"/>
<path d="M59.5,186.8 L59.8,187.1 L60.1,187.4 L60.4,187.6 L60.7,187.9 L60.9,188.2 L61.2,188.5 L61.5,188.8 L61.8,189.0 L62.2,189.3 L62.5,189.5 L62.9,189.7 L63.2,189.9 L63.6,190.1 L64.0,190.3 L64.4,190.4 L64.8,190.6 L65.2,190.7 L65.7,190.8 L66.1,190.9 L66.5,191.0 L66.9,191.1 L67.4,191.1 L67.8,191.1 L68.3,191.1 L68.7,191.1 L69.2,191.1 L69.6,191.0 L70.1,191.0 L70.5,190.9 L71.0,190.8 L71.5,190.7 L71.9,190.6 L72.4,190.4 L72.9,190.2 L73.3,190.0 L73.8,189.8 L74.3,189.6 L74.7,189.4 L75.1,189.2 L75.5,189.0 L75.9,188.8 L76.2,188.5 L76.5,188.3 L76.8,188.1 L77.1,187.8 L77.4,187.5 L77.6,187.3 L77.9,187.0 L78.2,186.8 L78.5,186.5" fill="none" stroke="#231815" stroke-width="1.2"/>
<path d="M76.3,183.3 L85,181 L82.5,190.8Z" fill="#231815"/>
<line x1="94.0" y1="142.0" x2="107.2" y2="133.8" stroke="#ea0a14" stroke-width="0.9"/>
<line x1="461.0" y1="136.3" x2="445.3" y2="147.8" stroke="#000" stroke-width="0.9"/>
<line x1="447.9" y1="181.0" x2="446.9" y2="198.5" stroke="#000" stroke-width="0.9"/>
<line x1="491.3" y1="174.8" x2="486.1" y2="198.5" stroke="#000" stroke-width="0.9"/>
</g>


<!-- labels top -->
<g id="labels-top">
<text class="r" x="31" y="145.4" textLength="29.2" lengthAdjust="spacingAndGlyphs" style="font-size:9.6px">活性化</text>
<text class="r" x="31" y="157.7" textLength="33" lengthAdjust="spacingAndGlyphs" style="font-size:10.4px">ミオシン</text>
<text class="r" x="67.6" y="148.4" textLength="28.6" lengthAdjust="spacingAndGlyphs" style="font-size:11px">pMLC</text>
<text class="t" x="39" y="203.6" textLength="60" lengthAdjust="spacingAndGlyphs" style="font-size:10px">色素上皮への</text>
<text class="t" x="39" y="215.8" textLength="58" lengthAdjust="spacingAndGlyphs" style="font-size:10px">分化シグナル</text>
<text class="t" x="468" y="132.8" textLength="44" lengthAdjust="spacingAndGlyphs" style="font-size:11px">神経網膜</text>
<text class="t" x="467" y="147.3" textLength="44" lengthAdjust="spacingAndGlyphs" style="font-size:11px">（柔軟）</text>
<text class="t" x="427.3" y="207.8" textLength="40" lengthAdjust="spacingAndGlyphs" style="font-size:10px">色素上皮</text>
<text class="t" x="478.5" y="207.8" textLength="36.5" lengthAdjust="spacingAndGlyphs" style="font-size:10px">折り返し</text>
</g>

<!-- rule boxes -->
<g id="rules">
<rect x="97" y="223.7" width="92" height="44.9" fill="#1d2088"/>
<rect x="98.7" y="238.8" width="88.2" height="27.5" fill="#fff"/>
<text class="rh" transform="translate(143.8 234.8) skewX(-10)" text-anchor="middle">ルール<tspan class="nb">1</tspan></text>
<text class="bl" x="143" y="250.3" text-anchor="middle" textLength="82.5" lengthAdjust="spacingAndGlyphs">神経網膜部の弛緩</text>
<text class="bl" x="143" y="262.2" text-anchor="middle" textLength="82.5" lengthAdjust="spacingAndGlyphs">(変形しやすくなる)</text>

<rect x="217.5" y="223.7" width="112.5" height="44.9" fill="#1d2088"/>
<rect x="219.2" y="238.8" width="109" height="27.5" fill="#fff"/>
<text class="rh" transform="translate(274.8 234.8) skewX(-10)" text-anchor="middle">ルール<tspan class="nb">2</tspan></text>
<text class="bl" x="275" y="250.3" text-anchor="middle" textLength="72" lengthAdjust="spacingAndGlyphs">境界部の細胞が</text>
<text class="bl" x="274" y="262.2" text-anchor="middle" textLength="62" lengthAdjust="spacingAndGlyphs">楔状の形状に</text>
<text x="312.1" y="265.4" text-anchor="middle" font-size="11.5" fill="#e60012" stroke="#e60012" stroke-width="0.45">＊</text>

<rect x="354.5" y="223.7" width="108.5" height="44.9" fill="#1d2088"/>
<rect x="356.2" y="238.8" width="105" height="27.5" fill="#fff"/>
<text class="rh" transform="translate(409.8 234.8) skewX(-10)" text-anchor="middle">ルール<tspan class="nb">3</tspan></text>
<text class="bl" x="409" y="250.3" text-anchor="middle" textLength="101" lengthAdjust="spacingAndGlyphs">神経網膜と色素上皮の</text>
<text class="bl" x="406" y="262.2" text-anchor="middle" textLength="90" lengthAdjust="spacingAndGlyphs">細胞増殖による拡張</text>
</g>

<!-- bottom black panel -->
<rect x="20.8" y="273.1" width="474.5" height="132.9" fill="#000"/>

<g id="bottom-shapes">
<path d="M57.5,291.8 L58.0,291.8 L58.5,291.8 L59.0,291.8 L59.5,291.8 L60.0,291.8 L60.5,291.8 L61.0,291.8 L61.5,291.8 L62.0,291.9 L62.5,291.9 L63.0,292.0 L63.4,292.0 L63.9,292.1 L64.4,292.1 L64.8,292.2 L65.3,292.3 L65.7,292.4 L66.2,292.5 L66.6,292.7 L67.0,292.8 L67.4,293.0 L67.8,293.1 L68.2,293.3 L68.5,293.5 L68.9,293.7 L69.2,294.0 L69.5,294.2 L69.9,294.5 L70.2,294.7 L70.5,295.0 L70.8,295.3 L71.1,295.6 L71.4,295.9 L71.6,296.3 L71.9,296.7 L72.1,297.0 L72.4,297.4 L72.6,297.8 L72.9,298.1 L73.1,298.5 L73.3,298.9 L73.5,299.3 L73.7,299.6 L73.9,300.0 L74.1,300.4 L74.2,300.8 L74.4,301.2 L74.6,301.6 L74.9,302.0 L75.1,302.3 L75.4,302.6 L75.7,302.9 L76.0,303.2 L76.3,303.5 L76.6,303.8 L77.0,304.1 L77.3,304.4 L77.6,304.6 L78.0,304.9 L78.3,305.2" fill="none" stroke="#fff" stroke-width="6" stroke-linecap="butt" stroke-linejoin="round"/>
<path d="M57.5,382.5 L58.0,382.5 L58.5,382.5 L59.0,382.5 L59.5,382.5 L60.0,382.5 L60.5,382.5 L61.0,382.5 L61.5,382.5 L62.0,382.4 L62.5,382.4 L63.0,382.3 L63.4,382.3 L63.9,382.2 L64.4,382.2 L64.8,382.1 L65.3,382.0 L65.7,381.9 L66.2,381.8 L66.6,381.6 L67.0,381.5 L67.4,381.3 L67.8,381.2 L68.2,381.0 L68.5,380.8 L68.9,380.6 L69.2,380.3 L69.5,380.1 L69.9,379.8 L70.2,379.6 L70.5,379.3 L70.8,379.0 L71.1,378.7 L71.4,378.4 L71.6,378.0 L71.9,377.6 L72.1,377.3 L72.4,376.9 L72.6,376.5 L72.9,376.2 L73.1,375.8 L73.3,375.4 L73.5,375.0 L73.7,374.7 L73.9,374.3 L74.1,373.9 L74.2,373.5 L74.4,373.1 L74.6,372.7 L74.9,372.3 L75.1,372.0 L75.4,371.7 L75.7,371.4 L76.0,371.1 L76.3,370.8 L76.6,370.5 L77.0,370.2 L77.3,369.9 L77.6,369.7 L78.0,369.4 L78.3,369.1" fill="none" stroke="#fff" stroke-width="6" stroke-linecap="butt" stroke-linejoin="round"/>
<path d="M76.5,307.0 L77.3,306.9 L78.0,306.9 L78.8,306.8 L79.5,306.8 L80.3,306.7 L81.0,306.6 L81.8,306.6 L82.5,306.5 L83.3,306.5 L84.0,306.5 L84.7,306.5 L85.4,306.5 L86.1,306.5 L86.8,306.5 L87.5,306.5 L88.2,306.6 L88.9,306.6 L89.6,306.7 L90.3,306.8 L91.0,307.0 L91.7,307.2 L92.5,307.4 L93.3,307.7 L94.1,307.9 L94.8,308.2 L95.6,308.5 L96.4,308.9 L97.1,309.2 L97.8,309.6 L98.5,310.0 L99.2,310.4 L99.8,310.9 L100.4,311.3 L101.0,311.8 L101.6,312.3 L102.2,312.8 L102.8,313.4 L103.3,313.9 L103.8,314.5 L104.2,315.0 L104.6,315.6 L105.0,316.1 L105.3,316.7 L105.6,317.3 L105.9,317.9 L106.1,318.5 L106.4,319.1 L106.6,319.7 L106.8,320.3 L107.0,321.0 L107.2,321.7 L107.3,322.3 L107.5,323.0 L107.6,323.7 L107.7,324.4 L107.7,325.1 L107.8,325.9 L107.9,326.6 L107.9,327.4 L108.0,328.2 L108.1,329.0 L108.1,329.9 L108.2,330.7 L108.2,331.6 L108.2,332.5 L108.3,333.4 L108.3,334.3 L108.3,335.2 L108.3,336.1 L108.3,337.0 L108.3,337.9 L108.3,338.8 L108.3,339.7 L108.3,340.6 L108.3,341.6 L108.2,342.5 L108.2,343.4 L108.2,344.3 L108.1,345.1 L108.0,346.0 L107.9,346.8 L107.8,347.7 L107.6,348.5 L107.5,349.3 L107.3,350.1 L107.2,350.9 L107.0,351.7 L106.8,352.5 L106.5,353.3 L106.3,354.0 L106.0,354.7 L105.8,355.5 L105.5,356.2 L105.2,356.9 L104.9,357.6 L104.5,358.3 L104.1,358.9 L103.7,359.5 L103.3,360.1 L102.8,360.7 L102.3,361.2 L101.7,361.7 L101.0,362.2 L100.4,362.7 L99.7,363.1 L99.0,363.5 L98.2,363.9 L97.5,364.3 L96.7,364.7 L96.0,365.0 L95.2,365.3 L94.4,365.6 L93.6,365.9 L92.8,366.1 L92.0,366.3 L91.1,366.6 L90.3,366.7 L89.5,366.9 L88.7,367.1 L88.0,367.2 L87.3,367.3 L86.7,367.4 L86.0,367.5 L85.4,367.5 L84.8,367.6 L84.3,367.6 L83.7,367.6 L83.1,367.6 L82.6,367.6 L82.0,367.6 L81.4,367.6 L80.9,367.6 L80.3,367.5 L79.8,367.5 L79.2,367.5 L78.7,367.4 L78.1,367.3 L77.6,367.3 L77.0,367.2 L76.5,367.2" fill="none" stroke="#6aee6a" stroke-width="6.6" stroke-linecap="butt" stroke-linejoin="round"/>
<path d="M171.9,291.8 L172.4,291.8 L172.9,291.8 L173.4,291.8 L173.9,291.8 L174.4,291.8 L174.9,291.8 L175.4,291.8 L175.9,291.8 L176.4,291.9 L176.9,291.9 L177.4,292.0 L177.8,292.0 L178.3,292.1 L178.8,292.1 L179.2,292.2 L179.7,292.3 L180.1,292.4 L180.6,292.5 L181.0,292.7 L181.4,292.8 L181.8,293.0 L182.2,293.1 L182.6,293.3 L182.9,293.5 L183.3,293.7 L183.6,294.0 L183.9,294.2 L184.3,294.5 L184.6,294.7 L184.9,295.0 L185.2,295.3 L185.5,295.6 L185.8,295.9 L186.0,296.3 L186.3,296.7 L186.5,297.0 L186.8,297.4 L187.0,297.8 L187.3,298.1 L187.5,298.5 L187.7,298.9 L187.9,299.3 L188.1,299.6 L188.3,300.0 L188.5,300.4 L188.6,300.8 L188.8,301.2 L189.0,301.6 L189.3,302.0 L189.5,302.3 L189.8,302.6 L190.1,302.9 L190.4,303.2 L190.7,303.5 L191.0,303.8 L191.4,304.1 L191.7,304.4 L192.0,304.6 L192.4,304.9 L192.7,305.2" fill="none" stroke="#fff" stroke-width="6" stroke-linecap="butt" stroke-linejoin="round"/>
<path d="M171.9,382.5 L172.4,382.5 L172.9,382.5 L173.4,382.5 L173.9,382.5 L174.4,382.5 L174.9,382.5 L175.4,382.5 L175.9,382.5 L176.4,382.4 L176.9,382.4 L177.4,382.3 L177.8,382.3 L178.3,382.2 L178.8,382.2 L179.2,382.1 L179.7,382.0 L180.1,381.9 L180.6,381.8 L181.0,381.6 L181.4,381.5 L181.8,381.3 L182.2,381.2 L182.6,381.0 L182.9,380.8 L183.3,380.6 L183.6,380.3 L183.9,380.1 L184.3,379.8 L184.6,379.6 L184.9,379.3 L185.2,379.0 L185.5,378.7 L185.8,378.4 L186.0,378.0 L186.3,377.6 L186.5,377.3 L186.8,376.9 L187.0,376.5 L187.3,376.2 L187.5,375.8 L187.7,375.4 L187.9,375.0 L188.1,374.7 L188.3,374.3 L188.5,373.9 L188.6,373.5 L188.8,373.1 L189.0,372.7 L189.3,372.3 L189.5,372.0 L189.8,371.7 L190.1,371.4 L190.4,371.1 L190.7,370.8 L191.0,370.5 L191.4,370.2 L191.7,369.9 L192.0,369.7 L192.4,369.4 L192.7,369.1" fill="none" stroke="#fff" stroke-width="6" stroke-linecap="butt" stroke-linejoin="round"/>
<path d="M191.2,306.6 L191.8,306.6 L192.4,306.5 L193.0,306.5 L193.5,306.4 L194.1,306.4 L194.7,306.4 L195.3,306.3 L195.9,306.3 L196.4,306.3 L197.0,306.3 L197.5,306.3 L198.1,306.3 L198.6,306.4 L199.1,306.4 L199.7,306.4 L200.2,306.5 L200.7,306.6 L201.2,306.6 L201.8,306.7 L202.3,306.8 L202.9,306.9 L203.4,307.0 L204.0,307.1 L204.6,307.2 L205.2,307.4 L205.8,307.5 L206.3,307.7 L206.9,307.8 L207.5,308.0 L208.0,308.2 L208.5,308.4 L209.0,308.6 L209.6,308.8 L210.1,309.0 L210.6,309.3 L211.1,309.5 L211.5,309.8 L212.0,310.0 L212.5,310.3 L212.9,310.6 L213.3,310.9 L213.8,311.2 L214.2,311.5 L214.6,311.9 L215.0,312.2 L215.4,312.6 L215.7,312.9 L216.1,313.3 L216.5,313.6 L216.8,314.0 L217.1,314.3 L217.5,314.7 L217.8,315.0 L218.2,315.3 L218.5,315.7 L218.8,316.0 L219.1,316.4 L219.4,316.8 L219.6,317.2 L219.8,317.7" fill="none" stroke="#e9f3a5" stroke-width="6"/>
<path d="M219.8,356.0 L219.6,356.5 L219.4,357.0 L219.1,357.4 L218.8,357.9 L218.5,358.3 L218.2,358.7 L217.8,359.1 L217.5,359.5 L217.1,359.9 L216.8,360.3 L216.5,360.7 L216.1,361.1 L215.7,361.4 L215.4,361.8 L215.0,362.2 L214.6,362.5 L214.2,362.9 L213.8,363.2 L213.3,363.5 L212.9,363.8 L212.5,364.1 L212.0,364.3 L211.5,364.6 L211.1,364.8 L210.6,365.0 L210.1,365.2 L209.6,365.4 L209.0,365.6 L208.5,365.8 L208.0,366.0 L207.5,366.2 L206.9,366.3 L206.3,366.5 L205.8,366.6 L205.2,366.8 L204.6,366.9 L204.0,367.0 L203.4,367.1 L202.9,367.2 L202.3,367.3 L201.8,367.4 L201.2,367.4 L200.7,367.5 L200.2,367.6 L199.7,367.6 L199.1,367.6 L198.6,367.7 L198.1,367.7 L197.5,367.7 L197.0,367.7 L196.4,367.7 L195.9,367.7 L195.3,367.7 L194.7,367.6 L194.1,367.6 L193.5,367.6 L193.0,367.5 L192.4,367.5 L191.8,367.4 L191.2,367.4" fill="none" stroke="#e9f3a5" stroke-width="6"/>
<path d="M219.8,317.7 L220.0,318.2 L220.1,318.8 L220.2,319.4 L220.3,320.0 L220.4,320.6 L220.4,321.3 L220.5,322.0 L220.5,322.7 L220.6,323.3 L220.6,324.0 L220.7,324.7 L220.7,325.3 L220.7,326.0 L220.8,326.7 L220.8,327.4 L220.8,328.1 L220.8,328.8 L220.9,329.5 L220.9,330.2 L220.9,330.9 L220.9,331.6 L220.9,332.2 L221.0,332.9 L221.0,333.6 L221.0,334.2 L221.0,334.9 L221.0,335.5 L221.0,336.2 L221.0,336.8 L221.0,337.5 L221.0,338.2 L221.0,338.8 L221.0,339.5 L221.0,340.2 L221.0,340.8 L221.0,341.5 L221.0,342.2 L220.9,342.8 L220.9,343.5 L220.9,344.1 L220.9,344.7 L220.9,345.3 L220.8,345.9 L220.8,346.5 L220.8,347.1 L220.8,347.7 L220.7,348.2 L220.7,348.8 L220.7,349.4 L220.6,350.0 L220.6,350.6 L220.5,351.2 L220.5,351.8 L220.4,352.5 L220.4,353.1 L220.3,353.7 L220.2,354.3 L220.1,354.9 L220.0,355.5 L219.8,356.0" fill="none" stroke="#6aee6a" stroke-width="7.2"/>
<path d="M282.0,291.8 L282.5,291.8 L283.0,291.8 L283.5,291.8 L284.0,291.8 L284.5,291.8 L285.0,291.8 L285.5,291.8 L286.0,291.8 L286.5,291.9 L287.0,291.9 L287.5,292.0 L287.9,292.0 L288.4,292.1 L288.9,292.1 L289.3,292.2 L289.8,292.3 L290.2,292.4 L290.7,292.5 L291.1,292.7 L291.5,292.8 L291.9,293.0 L292.3,293.1 L292.7,293.3 L293.0,293.5 L293.4,293.7 L293.7,294.0 L294.0,294.2 L294.4,294.5 L294.7,294.7 L295.0,295.0 L295.3,295.3 L295.6,295.6 L295.9,295.9 L296.1,296.3 L296.4,296.7 L296.6,297.0 L296.9,297.4 L297.1,297.8 L297.4,298.1 L297.6,298.5 L297.8,298.9 L298.0,299.3 L298.2,299.6 L298.4,300.0 L298.6,300.4 L298.7,300.8 L298.9,301.2 L299.1,301.6 L299.4,302.0 L299.6,302.3 L299.9,302.6 L300.2,302.9 L300.5,303.2 L300.8,303.5 L301.1,303.8 L301.5,304.1 L301.8,304.4 L302.1,304.6 L302.5,304.9 L302.8,305.2" fill="none" stroke="#fff" stroke-width="6" stroke-linecap="butt" stroke-linejoin="round"/>
<path d="M282.0,382.5 L282.5,382.5 L283.0,382.5 L283.5,382.5 L284.0,382.5 L284.5,382.5 L285.0,382.5 L285.5,382.5 L286.0,382.5 L286.5,382.4 L287.0,382.4 L287.5,382.3 L287.9,382.3 L288.4,382.2 L288.9,382.2 L289.3,382.1 L289.8,382.0 L290.2,381.9 L290.7,381.8 L291.1,381.6 L291.5,381.5 L291.9,381.3 L292.3,381.2 L292.7,381.0 L293.0,380.8 L293.4,380.6 L293.7,380.3 L294.0,380.1 L294.4,379.8 L294.7,379.6 L295.0,379.3 L295.3,379.0 L295.6,378.7 L295.9,378.4 L296.1,378.0 L296.4,377.6 L296.6,377.3 L296.9,376.9 L297.1,376.5 L297.4,376.2 L297.6,375.8 L297.8,375.4 L298.0,375.0 L298.2,374.7 L298.4,374.3 L298.6,373.9 L298.7,373.5 L298.9,373.1 L299.1,372.7 L299.4,372.3 L299.6,372.0 L299.9,371.7 L300.2,371.4 L300.5,371.1 L300.8,370.8 L301.1,370.5 L301.5,370.2 L301.8,369.9 L302.1,369.7 L302.5,369.4 L302.8,369.1" fill="none" stroke="#fff" stroke-width="6" stroke-linecap="butt" stroke-linejoin="round"/>
<path d="M300.6,306.0 L301.1,306.0 L301.7,306.0 L302.2,305.9 L302.7,305.9 L303.3,305.9 L303.8,305.8 L304.4,305.8 L304.9,305.8 L305.4,305.8 L306.0,305.8 L306.6,305.8 L307.1,305.8 L307.7,305.8 L308.2,305.9 L308.8,305.9 L309.4,305.9 L309.9,306.0 L310.5,306.0 L311.1,306.1 L311.7,306.2 L312.3,306.3 L312.9,306.4 L313.6,306.6 L314.2,306.7 L314.9,306.9 L315.5,307.0 L316.1,307.2 L316.8,307.4 L317.4,307.6 L318.0,307.8 L318.6,308.0 L319.2,308.2 L319.8,308.5 L320.4,308.7 L321.0,309.0 L321.6,309.2 L322.1,309.5 L322.6,309.8 L323.1,310.0 L323.6,310.3 L324.0,310.6 L324.4,310.8 L324.8,311.1 L325.1,311.4 L325.4,311.6 L325.7,311.9 L326.0,312.2 L326.4,312.5 L326.7,312.7 L327.0,313.0" fill="none" stroke="#e9f3a5" stroke-width="6.6" stroke-linecap="butt" stroke-linejoin="round"/>
<path d="M300.6,367.4 L301.1,367.4 L301.7,367.4 L302.2,367.5 L302.7,367.5 L303.3,367.5 L303.8,367.6 L304.4,367.6 L304.9,367.6 L305.4,367.6 L306.0,367.6 L306.6,367.6 L307.1,367.6 L307.7,367.6 L308.2,367.5 L308.8,367.5 L309.4,367.5 L309.9,367.4 L310.5,367.4 L311.1,367.3 L311.7,367.2 L312.3,367.1 L312.9,367.0 L313.6,366.8 L314.2,366.7 L314.9,366.5 L315.5,366.4 L316.1,366.2 L316.8,366.0 L317.4,365.8 L318.0,365.6 L318.6,365.4 L319.2,365.2 L319.8,364.9 L320.4,364.7 L321.0,364.5 L321.6,364.2 L322.1,364.0 L322.6,363.7 L323.1,363.5 L323.6,363.2 L324.0,362.9 L324.4,362.7 L324.8,362.4 L325.1,362.1 L325.4,361.9 L325.7,361.6 L326.0,361.3 L326.4,361.0 L326.7,360.8 L327.0,360.5" fill="none" stroke="#e9f3a5" stroke-width="6.6" stroke-linecap="butt" stroke-linejoin="round"/>
<path d="M326.6,315.0 L326.4,315.6 L326.2,316.3 L326.0,316.9 L325.7,317.6 L325.5,318.2 L325.3,318.9 L325.1,319.5 L324.9,320.2 L324.7,320.8 L324.5,321.5 L324.3,322.2 L324.1,322.9 L323.9,323.6 L323.7,324.3 L323.6,325.0 L323.4,325.6 L323.2,326.3 L323.1,327.0 L322.9,327.7 L322.8,328.3 L322.7,328.9 L322.6,329.5 L322.5,330.1 L322.5,330.6 L322.4,331.2 L322.3,331.7 L322.3,332.3 L322.3,332.8 L322.2,333.4 L322.2,334.0 L322.2,334.6 L322.1,335.2 L322.1,335.8 L322.1,336.4 L322.1,337.0 L322.1,337.7 L322.1,338.3 L322.1,338.9 L322.2,339.6 L322.2,340.2 L322.2,340.9 L322.3,341.5 L322.3,342.2 L322.4,342.9 L322.5,343.6 L322.6,344.3 L322.7,345.0 L322.8,345.7 L322.9,346.3 L323.0,347.0 L323.1,347.7 L323.3,348.3 L323.5,349.0 L323.7,349.7 L323.9,350.3 L324.1,351.0 L324.3,351.6 L324.5,352.2 L324.7,352.8 L324.9,353.4 L325.1,354.0 L325.3,354.5 L325.5,355.0 L325.7,355.5 L325.8,356.0 L326.0,356.5 L326.2,357.0 L326.4,357.5 L326.6,358.0 L326.8,358.5" fill="none" stroke="#6aee6a" stroke-width="8.4" stroke-linecap="butt" stroke-linejoin="round"/>
<path d="M323.6,309.5 L324.0,309.1 L324.5,308.7 L325.0,308.4 L325.5,308.1 L326.1,308.0 L326.6,307.9 L327.1,308.0 L327.6,308.2 L328.0,308.5 L328.5,308.8 L328.9,309.2 L329.3,309.6 L329.6,310.0 L330.0,310.4 L330.2,310.9 L330.5,311.4 L330.7,311.8 L330.9,312.3 L331.0,312.8 L331.1,313.2 L331.2,313.7 L331.2,314.1 L331.2,314.6 L331.2,315.0 L331.2,315.4 L331.1,315.9 L331.0,316.3 L330.9,316.7 L330.7,317.1 L330.6,317.5 L330.5,317.9 L330.3,318.3 L330.2,318.8 L330.0,319.1 L329.7,319.4 L329.4,319.6 L329.0,319.6 L328.4,319.5 L327.9,319.3 L327.2,319.1 L326.6,318.8 L326.0,318.6 L325.4,318.4 L324.6,318.2 L323.9,318.0 L323.2,317.7 L322.7,317.4 L322.3,317.0 L322.1,316.5 L322.1,315.8 L322.2,315.1 L322.3,314.4 L322.5,313.7 L322.6,313.0 L322.7,312.4 L322.8,311.7 L322.9,311.1 L323.1,310.5 L323.3,310.0Z" fill="#0860f8"/>
<path d="M323.6,363.9 L324.0,364.3 L324.5,364.7 L325.0,365.0 L325.5,365.3 L326.1,365.4 L326.6,365.5 L327.1,365.4 L327.6,365.2 L328.0,364.9 L328.5,364.6 L328.9,364.2 L329.3,363.8 L329.6,363.4 L330.0,363.0 L330.2,362.5 L330.5,362.0 L330.7,361.6 L330.9,361.1 L331.0,360.6 L331.1,360.2 L331.2,359.7 L331.2,359.3 L331.2,358.8 L331.2,358.4 L331.2,358.0 L331.1,357.5 L331.0,357.1 L330.9,356.7 L330.7,356.3 L330.6,355.9 L330.5,355.5 L330.3,355.1 L330.2,354.6 L330.0,354.3 L329.7,354.0 L329.4,353.8 L329.0,353.8 L328.4,353.9 L327.9,354.1 L327.2,354.3 L326.6,354.6 L326.0,354.8 L325.4,355.0 L324.6,355.2 L323.9,355.4 L323.2,355.7 L322.7,356.0 L322.3,356.4 L322.1,356.9 L322.1,357.6 L322.2,358.3 L322.3,359.0 L322.5,359.7 L322.6,360.4 L322.7,361.0 L322.8,361.7 L322.9,362.3 L323.1,362.9 L323.3,363.4Z" fill="#0860f8"/>
<path d="M394.3,291.8 L394.8,291.8 L395.3,291.8 L395.8,291.8 L396.3,291.8 L396.8,291.8 L397.3,291.8 L397.8,291.8 L398.3,291.8 L398.8,291.9 L399.3,291.9 L399.8,292.0 L400.2,292.0 L400.7,292.1 L401.2,292.1 L401.6,292.2 L402.1,292.3 L402.5,292.4 L403.0,292.5 L403.4,292.7 L403.8,292.8 L404.2,293.0 L404.6,293.1 L405.0,293.3 L405.3,293.5 L405.7,293.7 L406.0,294.0 L406.3,294.2 L406.7,294.5 L407.0,294.7 L407.3,295.0 L407.6,295.3 L407.9,295.6 L408.2,295.9 L408.4,296.3 L408.7,296.7 L408.9,297.0 L409.2,297.4 L409.4,297.8 L409.7,298.1 L409.9,298.5 L410.1,298.9 L410.3,299.3 L410.5,299.6 L410.7,300.0 L410.9,300.4 L411.0,300.8 L411.2,301.2 L411.4,301.6 L411.7,302.0 L411.9,302.3 L412.2,302.6 L412.5,302.9 L412.8,303.2 L413.1,303.5 L413.4,303.8 L413.8,304.1 L414.1,304.4 L414.4,304.6 L414.8,304.9 L415.1,305.2" fill="none" stroke="#fff" stroke-width="6" stroke-linecap="butt" stroke-linejoin="round"/>
<path d="M394.3,382.5 L394.8,382.5 L395.3,382.5 L395.8,382.5 L396.3,382.5 L396.8,382.5 L397.3,382.5 L397.8,382.5 L398.3,382.5 L398.8,382.4 L399.3,382.4 L399.8,382.3 L400.2,382.3 L400.7,382.2 L401.2,382.2 L401.6,382.1 L402.1,382.0 L402.5,381.9 L403.0,381.8 L403.4,381.6 L403.8,381.5 L404.2,381.3 L404.6,381.2 L405.0,381.0 L405.3,380.8 L405.7,380.6 L406.0,380.3 L406.3,380.1 L406.7,379.8 L407.0,379.6 L407.3,379.3 L407.6,379.0 L407.9,378.7 L408.2,378.4 L408.4,378.0 L408.7,377.6 L408.9,377.3 L409.2,376.9 L409.4,376.5 L409.7,376.2 L409.9,375.8 L410.1,375.4 L410.3,375.0 L410.5,374.7 L410.7,374.3 L410.9,373.9 L411.0,373.5 L411.2,373.1 L411.4,372.7 L411.7,372.3 L411.9,372.0 L412.2,371.7 L412.5,371.4 L412.8,371.1 L413.1,370.8 L413.4,370.5 L413.8,370.2 L414.1,369.9 L414.4,369.7 L414.8,369.4 L415.1,369.1" fill="none" stroke="#fff" stroke-width="6" stroke-linecap="butt" stroke-linejoin="round"/>
<path d="M411.5,306.0 L412.1,306.0 L412.8,306.0 L413.4,306.0 L414.1,306.0 L414.7,306.0 L415.4,306.0 L416.0,306.0 L416.7,306.1 L417.3,306.1 L418.0,306.1 L418.7,306.1 L419.3,306.2 L420.0,306.2 L420.7,306.3 L421.4,306.3 L422.1,306.4 L422.8,306.4 L423.4,306.5 L424.1,306.5 L424.7,306.6 L425.3,306.7 L425.8,306.7 L426.4,306.8 L426.9,306.8 L427.4,306.9 L427.9,307.0 L428.5,307.1 L429.0,307.1 L429.5,307.2 L430.0,307.3 L430.5,307.4 L431.1,307.5 L431.6,307.6 L432.2,307.7 L432.8,307.8 L433.3,307.9 L433.8,308.0 L434.3,308.1 L434.8,308.3 L435.3,308.4 L435.7,308.5 L436.1,308.7 L436.5,308.8 L436.9,309.0 L437.3,309.2 L437.6,309.3 L437.9,309.5 L438.3,309.7 L438.6,309.8 L439.0,310.0 L439.4,310.2 L439.7,310.4 L440.1,310.5 L440.5,310.7 L440.9,310.9 L441.2,311.1 L441.6,311.3 L442.0,311.5 L442.3,311.7 L442.7,311.9" fill="none" stroke="#e9f3a5" stroke-width="7" stroke-linecap="butt" stroke-linejoin="round"/>
<path d="M411.5,367.4 L412.1,367.4 L412.8,367.4 L413.4,367.4 L414.1,367.3 L414.7,367.3 L415.4,367.3 L416.0,367.3 L416.7,367.3 L417.3,367.2 L418.0,367.2 L418.7,367.2 L419.3,367.1 L420.0,367.1 L420.7,367.0 L421.4,366.9 L422.1,366.9 L422.8,366.8 L423.4,366.7 L424.1,366.7 L424.7,366.6 L425.3,366.5 L425.8,366.5 L426.4,366.4 L426.9,366.3 L427.4,366.3 L427.9,366.2 L428.5,366.1 L429.0,366.1 L429.5,366.0 L430.0,365.9 L430.5,365.8 L431.1,365.7 L431.6,365.6 L432.2,365.5 L432.8,365.4 L433.3,365.3 L433.8,365.1 L434.3,365.0 L434.8,364.9 L435.3,364.8 L435.7,364.7 L436.1,364.6 L436.5,364.5 L436.9,364.3 L437.3,364.2 L437.6,364.1 L437.9,364.0 L438.3,363.9 L438.6,363.7 L439.0,363.6 L439.4,363.5 L439.7,363.3 L440.1,363.2 L440.5,363.0 L440.9,362.9 L441.2,362.7 L441.6,362.6 L442.0,362.4 L442.3,362.3 L442.7,362.1" fill="none" stroke="#e9f3a5" stroke-width="7" stroke-linecap="butt" stroke-linejoin="round"/>
<path d="M444.2,317.3 L443.6,317.1 L442.9,316.9 L442.3,316.6 L441.7,316.4 L441.1,316.2 L440.4,316.0 L439.8,315.8 L439.2,315.6 L438.6,315.4 L438.0,315.3 L437.4,315.2 L436.9,315.1 L436.3,315.0 L435.8,315.0 L435.3,314.9 L434.8,314.9 L434.2,314.9 L433.7,314.9 L433.2,314.9 L432.6,315.0 L432.0,315.1 L431.4,315.2 L430.8,315.3 L430.2,315.4 L429.6,315.5 L429.0,315.7 L428.3,315.9 L427.7,316.1 L427.1,316.3 L426.5,316.5 L425.9,316.8 L425.3,317.0 L424.7,317.3 L424.1,317.6 L423.5,318.0 L422.9,318.3 L422.3,318.7 L421.8,319.0 L421.2,319.4 L420.7,319.8 L420.2,320.2 L419.7,320.6 L419.2,321.0 L418.7,321.5 L418.2,321.9 L417.7,322.4 L417.3,322.9 L416.8,323.3 L416.4,323.8 L416.0,324.3 L415.6,324.8 L415.2,325.3 L414.9,325.8 L414.5,326.4 L414.2,326.9 L413.9,327.4 L413.6,328.0 L413.3,328.5 L413.1,329.1 L412.8,329.6 L412.6,330.1 L412.3,330.7 L412.1,331.2 L411.9,331.8 L411.7,332.3 L411.5,332.8 L411.4,333.4 L411.2,333.9 L411.1,334.5 L411.0,335.0 L410.9,335.5 L410.8,336.0 L410.8,336.6 L410.7,337.1 L410.7,337.6 L410.7,338.1 L410.7,338.6 L410.7,339.1 L410.7,339.7 L410.7,340.2 L410.7,340.7 L410.8,341.3 L410.8,341.9 L410.9,342.4 L411.0,343.0 L411.1,343.6 L411.2,344.2 L411.3,344.7 L411.4,345.3 L411.6,345.8 L411.8,346.3 L412.0,346.8 L412.2,347.3 L412.4,347.8 L412.6,348.3 L412.9,348.8 L413.1,349.3 L413.4,349.8 L413.8,350.3 L414.1,350.8 L414.5,351.3 L414.9,351.8 L415.3,352.3 L415.7,352.9 L416.2,353.4 L416.7,353.9 L417.2,354.4 L417.7,354.9 L418.2,355.4 L418.7,355.8 L419.2,356.2 L419.8,356.6 L420.4,357.0 L421.0,357.4 L421.6,357.8 L422.2,358.1 L422.9,358.5 L423.5,358.8 L424.1,359.0 L424.7,359.3 L425.3,359.5 L425.9,359.7 L426.4,359.9 L427.0,360.0 L427.6,360.1 L428.2,360.2 L428.7,360.3 L429.3,360.4 L429.9,360.4 L430.5,360.5 L431.1,360.5 L431.7,360.6 L432.3,360.6 L432.8,360.6 L433.4,360.6 L434.0,360.6 L434.7,360.6 L435.3,360.5 L435.9,360.4 L436.6,360.3 L437.3,360.1 L438.0,359.9 L438.8,359.7 L439.5,359.4 L440.3,359.1 L441.1,358.8 L441.9,358.5 L442.7,358.2 L443.4,357.9 L444.2,357.6 L443.7,351.5 L443.2,351.5 L442.7,351.5 L442.3,351.5 L441.8,351.4 L441.3,351.4 L440.8,351.4 L440.3,351.4 L439.9,351.4 L439.4,351.3 L439.0,351.3 L438.6,351.3 L438.2,351.2 L437.8,351.1 L437.5,351.1 L437.1,351.0 L436.7,350.9 L436.4,350.9 L436.0,350.8 L435.7,350.7 L435.3,350.6 L434.9,350.5 L434.5,350.4 L434.1,350.3 L433.7,350.2 L433.3,350.0 L433.0,349.9 L432.6,349.8 L432.2,349.6 L431.8,349.5 L431.5,349.3 L431.2,349.1 L430.9,349.0 L430.6,348.8 L430.3,348.6 L430.0,348.4 L429.7,348.2 L429.5,348.0 L429.2,347.8 L429.0,347.6 L428.7,347.3 L428.4,347.0 L428.2,346.7 L427.9,346.4 L427.6,346.1 L427.4,345.8 L427.1,345.4 L426.9,345.1 L426.7,344.7 L426.5,344.4 L426.3,344.0 L426.2,343.6 L426.0,343.3 L425.9,342.9 L425.8,342.5 L425.7,342.2 L425.7,341.8 L425.6,341.4 L425.6,341.0 L425.5,340.6 L425.5,340.2 L425.5,339.8 L425.5,339.4 L425.4,339.0 L425.4,338.5 L425.5,338.1 L425.5,337.7 L425.5,337.2 L425.6,336.8 L425.6,336.4 L425.7,336.0 L425.8,335.6 L425.9,335.2 L426.0,334.8 L426.2,334.4 L426.3,334.0 L426.5,333.7 L426.7,333.3 L426.9,332.9 L427.1,332.6 L427.3,332.2 L427.5,331.9 L427.8,331.5 L428.0,331.2 L428.3,330.8 L428.6,330.5 L428.9,330.2 L429.2,329.9 L429.5,329.6 L429.9,329.3 L430.2,329.0 L430.5,328.7 L430.9,328.5 L431.2,328.3 L431.6,328.0 L431.9,327.8 L432.3,327.6 L432.7,327.4 L433.1,327.2 L433.5,327.1 L433.9,326.9 L434.3,326.8 L434.8,326.6 L435.2,326.5 L435.6,326.4 L436.1,326.3 L436.6,326.2 L437.0,326.1 L437.5,326.0 L438.0,326.0 L438.5,325.9 L439.0,325.8 L439.5,325.8 L440.0,325.8 L440.5,325.8 L441.1,325.7 L441.6,325.7 L442.1,325.7 L442.7,325.7 L443.2,325.7 L443.7,325.7Z" fill="#6aee6a"/>
<path d="M442.7,308.6 L443.1,308.5 L443.6,308.6 L444.1,308.9 L444.5,309.3 L445.0,309.6 L445.4,310.0 L445.8,310.3 L446.2,310.7 L446.5,311.1 L446.8,311.5 L447.1,312.0 L447.4,312.4 L447.6,312.8 L447.8,313.2 L448.0,313.7 L448.1,314.1 L448.2,314.6 L448.3,315.0 L448.3,315.5 L448.3,315.9 L448.2,316.4 L448.2,316.9 L448.0,317.4 L447.9,317.8 L447.7,318.2 L447.5,318.7 L447.3,319.1 L447.0,319.5 L446.8,319.8 L446.5,320.2 L446.2,320.6 L445.9,321.0 L445.6,321.4 L445.2,321.7 L444.9,321.9 L444.5,322.0 L444.1,321.9 L443.6,321.6 L443.2,321.3 L442.7,320.8 L442.2,320.4 L441.8,320.0 L441.4,319.7 L440.9,319.4 L440.5,319.0 L440.1,318.7 L439.8,318.3 L439.6,317.7 L439.6,317.0 L439.6,316.1 L439.8,315.2 L440.0,314.2 L440.2,313.3 L440.5,312.5 L440.8,311.7 L441.1,310.9 L441.5,310.1 L441.9,309.5 L442.3,308.9Z" fill="#0860f8"/>
<path d="M442.7,365.2 L443.1,365.3 L443.6,365.2 L444.1,364.9 L444.5,364.5 L445.0,364.2 L445.4,363.8 L445.8,363.5 L446.2,363.1 L446.5,362.7 L446.8,362.3 L447.1,361.8 L447.4,361.4 L447.6,361.0 L447.8,360.6 L448.0,360.1 L448.1,359.7 L448.2,359.2 L448.3,358.8 L448.3,358.3 L448.3,357.9 L448.2,357.4 L448.2,356.9 L448.0,356.4 L447.9,356.0 L447.7,355.6 L447.5,355.1 L447.3,354.7 L447.0,354.3 L446.8,354.0 L446.5,353.6 L446.2,353.2 L445.9,352.8 L445.6,352.4 L445.2,352.1 L444.9,351.9 L444.5,351.8 L444.1,351.9 L443.6,352.2 L443.2,352.5 L442.7,353.0 L442.2,353.4 L441.8,353.8 L441.4,354.1 L440.9,354.4 L440.5,354.8 L440.1,355.1 L439.8,355.5 L439.6,356.1 L439.6,356.8 L439.6,357.7 L439.8,358.6 L440.0,359.6 L440.2,360.5 L440.5,361.3 L440.8,362.1 L441.1,362.9 L441.5,363.7 L441.9,364.3 L442.3,364.9Z" fill="#0860f8"/>
<path d="M141.0,337.7 L162.3,337.7 L162.3,333.8 L172.3,340.3 L162.3,346.8 L162.3,342.9 L141.0,342.9Z" fill="#fff"/>
<path d="M256.0,337.7 L277.4,337.7 L277.4,333.8 L287.4,340.3 L277.4,346.8 L277.4,342.9 L256.0,342.9Z" fill="#fff"/>
<path d="M357.7,337.7 L377.7,337.7 L377.7,333.8 L387.7,340.3 L377.7,346.8 L377.7,342.9 L357.7,342.9Z" fill="#fff"/>
<line x1="238.8" y1="299.2" x2="224.8" y2="325.6" stroke="#fff" stroke-width="0.9"/>
<line x1="335.5" y1="299.7" x2="328.0" y2="309.7" stroke="#fff" stroke-width="0.9"/>
<line x1="441.9" y1="296.5" x2="427.3" y2="304.0" stroke="#fff" stroke-width="0.9"/>
<line x1="443.7" y1="296.5" x2="428.7" y2="317.7" stroke="#fff" stroke-width="0.9"/>
<rect x="23.2" y="305.8" width="8.8" height="6.6" fill="#fff"/>
<rect x="23.2" y="325.0" width="8.8" height="6.6" fill="#e9f3a5"/>
<rect x="23.2" y="343.6" width="8.8" height="6.6" fill="#0860f8"/>
<rect x="23.2" y="361.2" width="8.8" height="6.6" fill="#6aee6a"/>
</g>


<!-- labels bottom -->
<g id="labels-bottom">
<text class="lg" x="34.2" y="313.4" textLength="38.5" lengthAdjust="spacingAndGlyphs">神経上皮</text>
<text class="lg" x="34.2" y="332.4" textLength="38.5" lengthAdjust="spacingAndGlyphs">色素上皮</text>
<text class="lg" x="34.2" y="351" textLength="35" lengthAdjust="spacingAndGlyphs">折り返し</text>
<text class="lg" x="34.2" y="368.6" textLength="38.5" lengthAdjust="spacingAndGlyphs">神経網膜</text>
<text class="lg" x="214" y="294.6" textLength="43" lengthAdjust="spacingAndGlyphs" style="font-size:10.7px">局所弛緩</text>
<text class="lg" x="321.7" y="293.8" textLength="32.5" lengthAdjust="spacingAndGlyphs" style="font-size:10.7px">楔状化</text>
<text class="lg" x="437.4" y="292.8" textLength="42.5" lengthAdjust="spacingAndGlyphs" style="font-size:10.7px">増殖拡大</text>
<text class="sb" transform="translate(86.8 398.4) skewX(-8)" textLength="43.0" lengthAdjust="spacingAndGlyphs">ステップ</text>
<text class="sb" transform="translate(133.6 398.4) skewX(-12)" style="font-weight:bold;font-size:13.5px">1</text>
<text class="sb" transform="translate(211.8 398.4) skewX(-8)" textLength="45.5" lengthAdjust="spacingAndGlyphs">ステップ</text>
<text class="sb" transform="translate(259.6 398.4) skewX(-12)" style="font-weight:bold;font-size:13.5px">2</text>
<text class="sb" transform="translate(323.6 398.4) skewX(-8)" textLength="45.0" lengthAdjust="spacingAndGlyphs">ステップ</text>
<text class="sb" x="373.6" y="398.4" style="font-size:13.5px">3</text>
<text class="sb" transform="translate(429.4 398.4) skewX(-8)" textLength="46.0" lengthAdjust="spacingAndGlyphs">ステップ</text>
<text class="sb" x="480.6" y="398.4" style="font-size:13.5px">4</text>
</g>

<!-- photo A: fluorescence -->
<g id="photoA" clip-path="url(#cpA)">
<rect x="541" y="59" width="87" height="92" fill="#020402"/>
<g filter="url(#b1)">
<path d="M536,92 C548,75 562,67.5 578,67.5 C600,67.5 617,86 622,104 C626,118 627,135 626,154 L536,154Z" fill="url(#gA)"/>
<path d="M536,92 C548,75 562,67.5 578,67.5 C600,67.5 617,86 622,104 C626,118 627,135 626,154 L536,154Z" fill="url(#gA2)"/>
<g stroke="#4cc656" stroke-width="0.9" fill="none" opacity="0.8">
<path d="M579,110 C570,100 556,90 545,84"/><path d="M579,110 C570,96 560,84 553,76"/><path d="M579,110 C573,95 567,80 563,71"/><path d="M579,110 C577,95 574,80 572,68"/>
<path d="M580,110 L585,69"/><path d="M580,110 L596,71"/><path d="M580,110 L607,79"/><path d="M580,110 L616,91"/>
<path d="M582,112 C596,112 612,116 625,120"/><path d="M582,114 C596,120 612,128 625,136"/><path d="M582,116 C594,126 606,138 616,151"/><path d="M581,118 C588,128 596,140 601,151"/><path d="M580,118 C583,128 587,140 589,151"/>
<path d="M600,118 C606,128 616,136 626,140"/><path d="M592,130 C600,134 612,142 622,150"/>
<path d="M575,112 C564,108 552,104 541,102"/><path d="M574,114 C562,116 550,118 541,122"/><path d="M556,96 C552,110 548,130 544,150"/><path d="M566,100 C560,116 554,134 550,150"/>
</g>
<path d="M581,108 C576,118 570,126 562,134 C555,141 548,147 543,151" fill="none" stroke="#58d05a" stroke-width="2.4" opacity="0.7"/>
<path d="M559,152 L566,136 L572.5,124 L577,136 L578.5,152Z" fill="#020a04" opacity="0.92"/>
<path d="M536,92 C548,75 562,67.5 578,67.5 C600,67.5 617,86 622,104 C626,118 627,135 626,154" fill="none" stroke="#3aa846" stroke-width="1.6" opacity="0.7"/>
<circle cx="580.5" cy="109.5" r="3.6" fill="#a8f884" opacity="0.8"/>
</g>
<path d="M579,109.5 L575.6,67.4 C596,66 615,82 621.8,101.5 Z" fill="none" stroke="#fff" stroke-width="2" stroke-dasharray="5 2.6"/>
</g>
<!-- photo B: 3D wedge cells -->
<g id="photoB" clip-path="url(#cpB)">
<rect x="541" y="152" width="87" height="85" fill="#868682"/>
<g filter="url(#b06)">
<path d="M543.3,172.3 L549.7,169 L553,165.5 L557,163.8 L561,164 L565.7,161.7 L572,162.5 L577.4,160.6 L582,163 L587,163.8 L591,162.5 L595.4,164.9 L602,164 L608.2,166 L613,166.5 L618.9,169 L624,172.3 L622,177.7 L616.7,182 L610.3,192.6 L604,205.3 L595.4,216 L587,224.5 L579.5,233 L576.3,235 L570,222 L561.4,205.3 L551.8,188.3 L545.4,179.8Z" fill="#12723a"/>
<g fill="none" stroke-linecap="round">
<path d="M551,174 C555,190 565,212 575.5,231" stroke="#1f8e48" stroke-width="3"/>
<path d="M560,168 C563,190 570,212 577,230" stroke="#0a4e22" stroke-width="1.5"/>
<path d="M569,166 C571,188 575,212 578,230" stroke="#259a50" stroke-width="3.4"/>
<path d="M580,166 C580.5,190 580,212 579,230" stroke="#0a4e22" stroke-width="1.5"/>
<path d="M589,167 C588,190 585,212 581,229" stroke="#1f8e48" stroke-width="3.2"/>
<path d="M598,168 C595,190 590,210 584,226" stroke="#0a4a20" stroke-width="1.8"/>
<path d="M607,170 C603,188 596,208 588,222" stroke="#1c8844" stroke-width="2.8"/>
<path d="M616,173 C611,188 604,202 597,213" stroke="#0a4e22" stroke-width="1.5"/>
</g>
<ellipse cx="561" cy="176" rx="2.4" ry="1.8" fill="#062c14"/><ellipse cx="598" cy="188" rx="2" ry="2.6" fill="#062c14"/><ellipse cx="590" cy="167" rx="2.4" ry="1.6" fill="#062c14"/><ellipse cx="577" cy="163" rx="2" ry="1.4" fill="#062c14"/>
</g>
<path d="M542.3,171.3 C548,164 556,160.5 563.5,158.5 C570,157 574,156.4 578.4,156.4 C590,156.6 600,160 608.2,162.8 C615,165.5 621,167.6 626.5,170.2" fill="none" stroke="#fff" stroke-width="2.1" stroke-dasharray="4.6 2.4"/>
</g>
<text x="568.2" y="251.1" text-anchor="middle" font-size="11.5" fill="#e60012" stroke="#e60012" stroke-width="0.45">＊</text>
<text class="r" x="577.8" y="251.9" textLength="42.6" lengthAdjust="spacingAndGlyphs" style="font-size:10.6px">楔状細胞</text>
<!-- photo C: simulation 3D -->
<g id="photoC" clip-path="url(#cpC)">
<rect x="496" y="272" width="135" height="134" fill="#060404"/>
<g filter="url(#b06)">
<ellipse cx="520" cy="339" rx="16.7" ry="133" fill="#3a3a3a"/>
<path d="M514,274 C532,279 548,281 551,290 C554,320 554,360 551,388 C548,397 532,399 514,404 Z" fill="#3e3e3e" opacity="0.9"/>
<ellipse cx="516" cy="339" rx="12.5" ry="120" fill="#3d3d3d" opacity="0.9"/>
<path d="M522,273 Q532,339 522,405 L546,405 Q537,339 546,273 Z" fill="#5a5a5a" opacity="0.85"/>
</g>
<g filter="url(#b1)">
<path d="M539,290 C540,282 550,279.5 565,278.5 C585,277.5 598,280 606,289 C615,301 619,321 619,340 C619,360 615,380 606,391 C598,400 580,402.5 565,401.5 C550,400.5 540,398 539,388 C537,360 537,318 539,290Z" fill="#0c531b" opacity="0.9"/>
<path d="M543,293 C544,286 552,283.5 566,282.5 C584,281.5 596,284 603,293 C611,305 614,323 614,340 C614,358 611,376 603,387 C596,396 584,398.5 566,397.5 C552,396.5 544,394 543,387 C541,360 541,320 543,293Z" fill="#178a2e" opacity="0.85"/>
</g>
<g filter="url(#b2)">
<path d="M549,299 C550,292 556,289 566,288 C580,287 592,290 597,298 C601,308 602,324 602,340 C602,357 601,372 597,382 C592,390 580,393 566,392 C556,391 550,388 549,381 C547,360 547,320 549,299Z" fill="url(#gC)"/>
</g>
<path d="M538,286 Q552,339 538,394 L549,398 Q556,339 549,282 Z" fill="#6a6a6a" opacity="0.3" filter="url(#b06)"/>
<g filter="url(#b06)" fill="none" stroke="#1a7228" stroke-width="1.1" opacity="0.45">
<path d="M548,306 C570,298 598,306 602,340 C598,374 570,382 548,374"/>
<path d="M550,318 C568,314 588,322 591,340 C588,358 568,366 550,362"/>
<path d="M566,329 C570,332 572,336 572,340 C572,344 570,348 566,351"/>
<path d="M566,312 C580,316 596,320 604,330"/><path d="M566,368 C580,364 596,360 604,350"/>
</g>
</g>

<text class="t" x="162.7" y="419.4" textLength="181.5" lengthAdjust="spacingAndGlyphs" style="font-size:10px">コンピューターシミュレーションの結果</text>
</svg>
</body>
</html>
